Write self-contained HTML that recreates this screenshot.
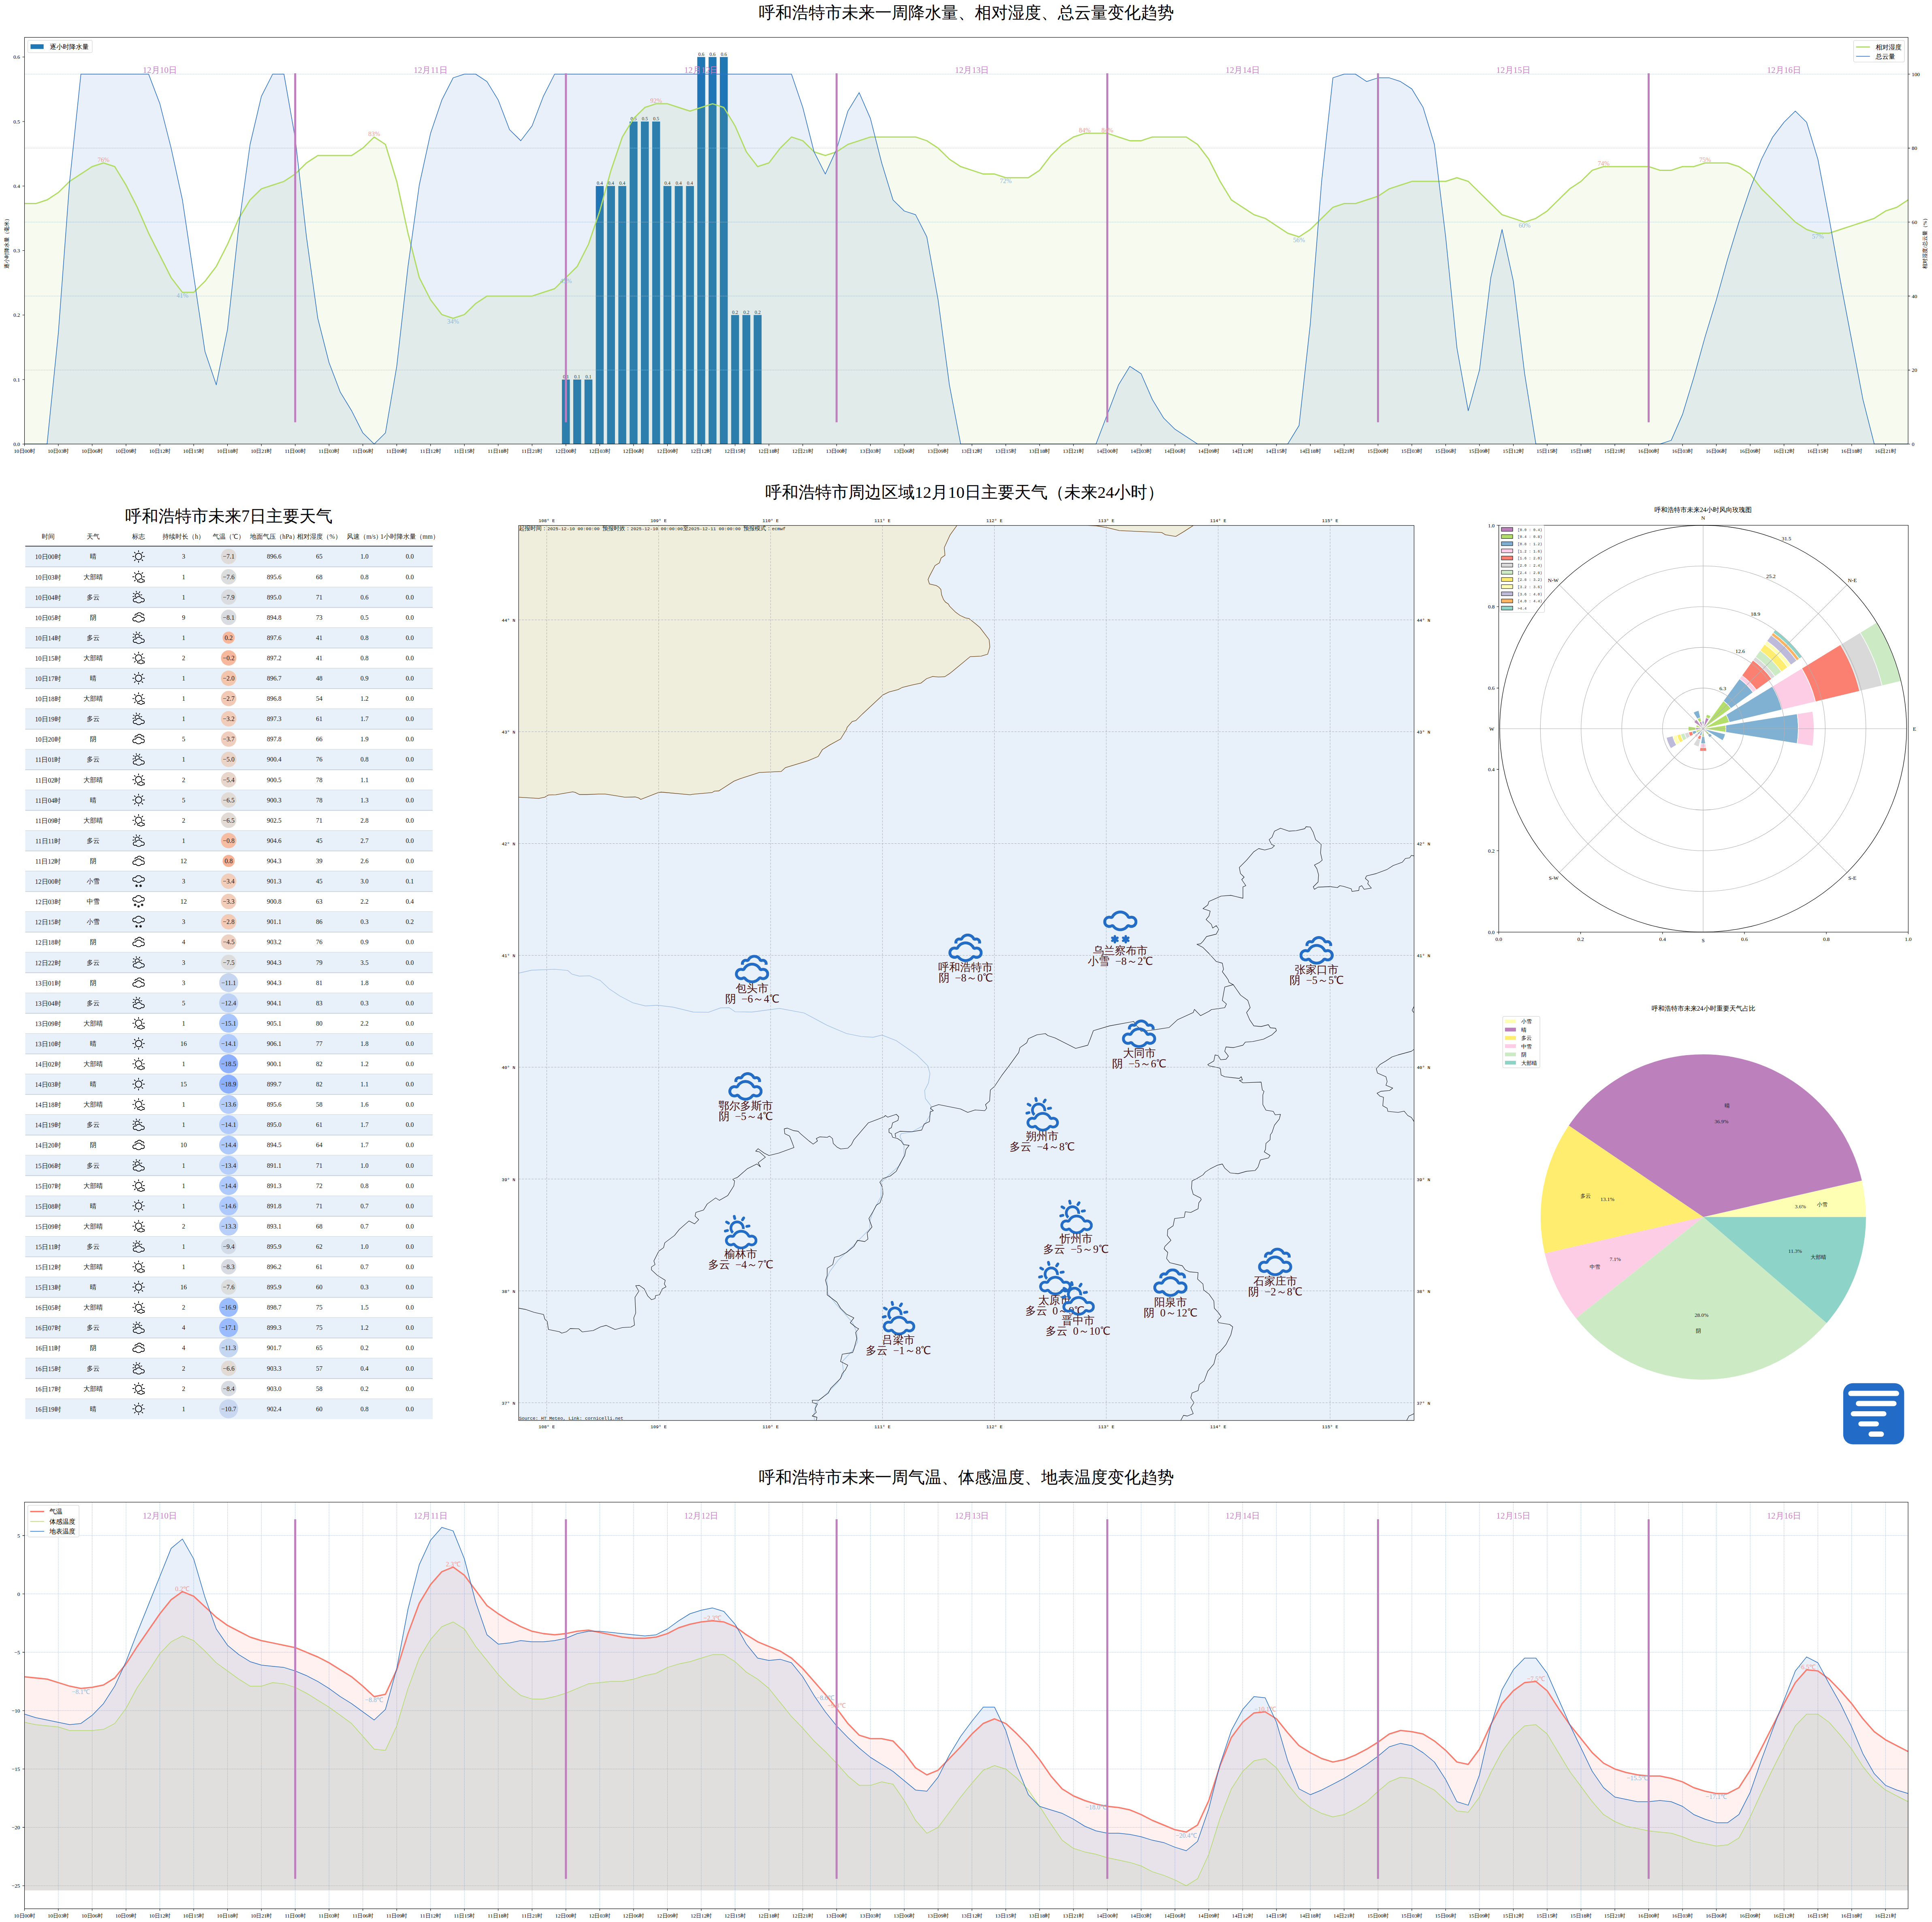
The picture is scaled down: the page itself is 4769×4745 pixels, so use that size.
<!DOCTYPE html>
<html lang="zh"><head><meta charset="utf-8"><title>呼和浩特市天气预报</title>
<style>html,body{margin:0;padding:0;background:#fff}body{width:4769px;height:4745px;overflow:hidden;font-family:'Liberation Serif', serif}svg{display:block}</style>
</head><body>
<svg width="4769" height="4745" viewBox="0 0 4769 4745" font-family="'Liberation Serif', serif">
<defs>
<symbol id="b_duoyun" viewBox="0 0 103.4 106.3"><path fill-rule="evenodd" d="M35,1.3L34.1,0.6L33.1,0.2L32,0L30.9,0.1L29.9,0.5L29,1.2L28.3,2L27.9,3L27.7,4.1L27.8,5.2L29.5,12.2L29.9,13.2L30.5,14.1L31.4,14.8L32.4,15.2L33.5,15.4L34.6,15.3L35.6,14.9L36.5,14.2L37.2,13.4L37.6,12.4L37.8,11.3L37.7,10.2L36,3.2L35.6,2.2ZM65.3,8.4L64.9,7.3L64.3,6.4L63.4,5.7L62.5,5.2L61.4,5L60.3,5.1L59.3,5.5L58.4,6.1L57.6,6.9L53.7,13L53.2,14L53,15L53.1,16.1L53.5,17.2L54.1,18.1L55,18.8L55.9,19.3L57,19.5L58.1,19.4L59.1,19L60,18.4L60.8,17.6L64.7,11.5L65.2,10.5L65.4,9.4ZM7,17.9L6,18.3L5.2,19L4.5,19.9L4.1,20.9L3.9,22L4.1,23L4.5,24.1L5.2,24.9L6,25.6L12.3,29.2L13.3,29.6L14.4,29.8L15.4,29.6L16.5,29.2L17.3,28.5L18,27.7L18.4,26.6L18.6,25.6L18.4,24.5L18,23.5L17.3,22.6L16.5,21.9L10.2,18.3L9.2,17.9L8.1,17.8ZM81.2,36.6L81.7,35.7L81.9,34.6L81.8,33.5L81.5,32.5L80.9,31.5L80.1,30.8L79.1,30.3L78.1,30L77,30.1L69.9,31.3L68.8,31.7L67.9,32.3L67.2,33.1L66.7,34L66.4,35.1L66.5,36.2L66.8,37.3L67.4,38.2L68.2,38.9L69.2,39.4L70.3,39.7L71.3,39.6L78.4,38.4L79.5,38L80.4,37.4ZM57.2,24.3L54.4,21.9L51.3,20L47.9,18.6L44.3,17.7L40.7,17.5L37,17.7L33.5,18.6L30.1,20L27,21.9L24.2,24.3L21.8,27.1L19.9,30.2L18.5,33.6L17.7,37.1L17.4,40.8L17.7,44.4L18.5,48L19.9,51.3L21.8,54.5L24.2,57.2L25.3,58.2L26.2,56.8L26.3,56.6L26.5,56.4L29.6,52.8L29.7,52.6L29.9,52.4L30.7,51.7L30.2,51.3L28.6,49.5L27.4,47.5L26.5,45.4L26,43.1L25.8,40.8L26,38.4L26.5,36.2L27.4,34L28.6,32L30.2,30.2L31.9,28.7L33.9,27.5L36.1,26.6L38.4,26.1L40.7,25.9L43,26.1L45.3,26.6L47.4,27.5L49.4,28.7L51.2,30.2L52.7,32L53.9,34L54.8,36.2L55.4,38.4L55.6,40.8L55.4,42.9L58.4,43.2L58.6,43.2L58.9,43.3L63.5,44.4L63.7,44.4L63.7,44.4L64,40.8L63.7,37.1L62.8,33.6L61.4,30.2L59.5,27.1ZM0.6,47.7L0.2,48.7L0,49.8L0.1,50.9L0.5,51.9L1.2,52.8L2,53.5L3,53.9L4.1,54.1L5.2,53.9L12.2,52.2L13.2,51.8L14.1,51.1L14.8,50.3L15.2,49.3L15.4,48.2L15.3,47.1L14.9,46.1L14.2,45.2L13.3,44.5L12.3,44.1L11.3,43.9L10.2,44L3.2,45.8L2.2,46.2L1.3,46.8ZM62.7,47.6L58.1,46.5L53.4,46.1L48.7,46.5L44.1,47.6L39.7,49.4L35.7,51.8L32.1,54.9L29,58.5L26.8,62.2L26.7,62.1L24,61.5L21.2,61.3L18.4,61.5L15.7,62.1L13.1,63.2L10.7,64.7L8.6,66.5L6.8,68.6L5.3,71L4.3,73.6L3.6,76.3L3.4,79.1L3.6,81.8L4.3,84.6L5.3,87.1L6.8,89.5L8.6,91.6L10.7,93.5L13.1,94.9L15.7,96L18.4,96.6L21.2,96.9L24,96.6L26.7,96L29.3,94.9L29.7,94.7L32.1,97.5L35.7,100.6L39.7,103.1L44.1,104.9L48.7,106L53.4,106.3L58.1,106L62.7,104.9L67.1,103.1L71.1,100.6L74.7,97.5L77.1,94.7L77.5,94.9L80.1,96L82.8,96.6L85.6,96.9L88.4,96.6L91.1,96L93.7,94.9L96,93.5L98.2,91.6L100,89.5L101.4,87.1L102.5,84.6L103.2,81.8L103.4,79.1L103.2,76.3L102.5,73.6L101.4,71L100,68.6L98.2,66.5L96,64.7L93.7,63.2L91.1,62.1L88.4,61.5L85.6,61.3L82.8,61.5L80.1,62.1L80,62.2L77.8,58.5L74.7,54.9L71.1,51.8L67.1,49.4ZM28.7,70.3L30,69.9L31.2,69.3L32.2,68.6L33.2,67.6L33.9,66.6L35.8,63.5L38,60.9L40.6,58.7L43.5,56.9L46.7,55.6L50,54.8L53.4,54.5L56.8,54.8L60.1,55.6L63.2,56.9L66.1,58.7L68.7,60.9L70.9,63.5L72.8,66.6L73.6,67.6L74.5,68.6L75.6,69.3L76.8,69.9L78,70.3L79.3,70.5L80.7,70.5L82,70.3L82.1,70.3L84.1,69.8L85.6,69.7L87,69.8L88.5,70.1L89.8,70.7L91.1,71.5L92.2,72.4L93.2,73.5L93.9,74.8L94.5,76.2L94.8,77.6L95,79.1L94.8,80.5L94.5,82L93.9,83.3L93.2,84.6L92.2,85.7L91.1,86.6L89.8,87.4L88.5,88L87,88.3L85.6,88.4L84.1,88.3L82.7,88L81.1,87.3L80.3,86.9L79.1,86.5L77.8,86.3L76.5,86.3L75.2,86.5L73.9,86.9L72.7,87.5L71.7,88.3L70.7,89.2L68.7,91.6L66.1,93.8L63.2,95.6L60.1,96.9L56.8,97.7L53.4,97.9L50,97.7L46.7,96.9L43.5,95.6L40.6,93.8L38,91.6L36,89.2L35.1,88.3L34,87.5L32.9,86.9L31.6,86.5L30.3,86.3L29,86.3L27.7,86.5L26.4,86.9L25.6,87.3L24.1,88L22.6,88.3L21.2,88.4L19.7,88.3L18.3,88L16.9,87.4L15.7,86.6L14.6,85.7L13.6,84.6L12.8,83.3L12.3,82L11.9,80.5L11.8,79.1L11.9,77.6L12.3,76.2L12.8,74.8L13.6,73.5L14.6,72.4L15.7,71.5L16.9,70.7L18.3,70.1L19.7,69.8L21.2,69.7L22.6,69.8L24.6,70.3L24.8,70.3L26.1,70.5L27.4,70.5Z"/></symbol>
<symbol id="b_yin" viewBox="0 0 100 83.3"><path fill-rule="evenodd" d="M63.8,1.2L60.2,0.3L56.5,0L52.8,0.3L49.2,1.2L45.8,2.6L42.7,4.5L39.9,6.9L37.5,9.7L35.7,12.5L35.7,12.5L33.6,12L31.4,11.8L29.2,12L27.1,12.5L25.1,13.3L23.2,14.5L21.6,15.9L20.2,17.6L19,19.4L18.2,21.4L17.7,23.5L17.5,25.7L17.7,27.9L17.9,28.9L27,28.9L26.5,28.2L26.2,27.4L26,26.6L25.9,25.7L26,24.9L26.2,24L26.5,23.2L27,22.5L27.5,21.9L28.2,21.3L28.9,20.9L29.7,20.5L30.5,20.3L31.4,20.3L32.2,20.3L33.7,20.7L35,20.9L36.4,20.9L37.7,20.7L38.9,20.3L40.1,19.7L41.2,18.9L42.1,18L42.9,16.9L44.3,14.6L45.8,12.8L47.6,11.3L49.7,10.1L51.8,9.2L54.1,8.6L56.5,8.4L58.9,8.6L61.2,9.2L63.3,10.1L65.4,11.3L67.2,12.8L68.7,14.6L70.1,16.9L70.9,18L71.8,18.9L72.9,19.7L74,20.3L75.3,20.7L76.6,20.9L77.9,20.9L79.2,20.7L79.4,20.7L80.8,20.3L81.6,20.3L82.5,20.3L83.3,20.5L84.1,20.9L84.8,21.3L85.5,21.9L86,22.5L86.5,23.2L86.8,24L87,24.9L87.1,25.7L87,26.6L86.8,27.4L86.5,28.2L86,28.9L95.1,28.9L95.3,27.9L95.5,25.7L95.3,23.5L94.8,21.4L94,19.4L92.8,17.6L91.4,15.9L89.8,14.5L87.9,13.3L85.9,12.5L83.8,12L81.6,11.8L79.4,12L77.3,12.5L77.3,12.5L75.5,9.7L73.1,6.9L70.3,4.5L67.2,2.6ZM67.7,28.8L63.7,26.3L59.3,24.5L54.7,23.4L50,23L45.3,23.4L40.7,24.5L36.3,26.3L32.3,28.8L28.7,31.9L25.6,35.4L23.4,39.1L23.3,39.1L20.6,38.4L17.8,38.2L15,38.4L12.3,39.1L9.7,40.1L7.3,41.6L5.2,43.4L3.4,45.5L1.9,47.9L0.9,50.5L0.2,53.2L0,56L0.2,58.8L0.9,61.5L1.9,64.1L3.4,66.5L5.2,68.6L7.3,70.4L9.7,71.9L12.3,72.9L15,73.6L17.8,73.8L20.6,73.6L23.3,72.9L25.9,71.9L26.3,71.6L28.7,74.5L32.3,77.5L36.3,80L40.7,81.8L45.3,82.9L50,83.3L54.7,82.9L59.3,81.8L63.7,80L67.7,77.5L71.3,74.5L73.7,71.6L74.1,71.9L76.7,72.9L79.4,73.6L82.2,73.8L85,73.6L87.7,72.9L90.3,71.9L92.7,70.4L94.8,68.6L96.6,66.5L98.1,64.1L99.1,61.5L99.8,58.8L100,56L99.8,53.2L99.1,50.5L98.1,47.9L96.6,45.5L94.8,43.4L92.7,41.6L90.3,40.1L87.7,39.1L85,38.4L82.2,38.2L79.4,38.4L76.7,39.1L76.6,39.1L74.4,35.4L71.3,31.9ZM22.7,47.5L24,47.5L25.3,47.3L26.6,46.9L27.8,46.3L28.8,45.5L29.8,44.6L30.5,43.5L32.4,40.4L34.7,37.8L37.2,35.6L40.1,33.8L43.3,32.5L46.6,31.7L50,31.5L53.4,31.7L56.7,32.5L59.9,33.8L62.8,35.6L65.3,37.8L67.6,40.4L69.5,43.5L70.2,44.6L71.2,45.5L72.2,46.3L73.4,46.9L74.7,47.3L76,47.5L77.3,47.5L78.6,47.3L78.7,47.2L80.7,46.7L82.2,46.6L83.7,46.7L85.1,47.1L86.5,47.6L87.7,48.4L88.8,49.4L89.8,50.5L90.6,51.7L91.1,53.1L91.5,54.5L91.6,56L91.5,57.5L91.1,58.9L90.6,60.3L89.8,61.5L88.8,62.6L87.7,63.6L86.5,64.4L85.1,64.9L83.7,65.3L82.2,65.4L80.7,65.3L79.3,64.9L77.8,64.3L76.9,63.9L75.7,63.5L74.4,63.2L73.1,63.2L71.8,63.5L70.5,63.9L69.3,64.5L68.3,65.2L67.3,66.2L65.3,68.5L62.8,70.7L59.9,72.5L56.7,73.8L53.4,74.6L50,74.9L46.6,74.6L43.3,73.8L40.1,72.5L37.2,70.7L34.7,68.5L32.7,66.2L31.7,65.2L30.7,64.5L29.5,63.9L28.2,63.5L26.9,63.2L25.6,63.2L24.3,63.5L23.1,63.9L22.2,64.3L20.7,64.9L19.3,65.3L17.8,65.4L16.3,65.3L14.9,64.9L13.5,64.4L12.3,63.6L11.2,62.6L10.2,61.5L9.4,60.3L8.9,58.9L8.5,57.5L8.4,56L8.5,54.5L8.9,53.1L9.4,51.7L10.2,50.5L11.2,49.4L12.3,48.4L13.5,47.6L14.9,47.1L16.3,46.7L17.8,46.6L19.3,46.7L21.3,47.2L21.4,47.3Z"/></symbol>
<symbol id="b_xue" viewBox="0 0 100 96.4"><path fill-rule="evenodd" d="M67.7,5.8L63.7,3.3L59.3,1.5L54.7,0.4L50,0L45.3,0.4L40.7,1.5L36.3,3.3L32.3,5.8L28.7,8.8L25.6,12.4L23.4,16.1L23.3,16L20.6,15.4L17.8,15.2L15,15.4L12.3,16L9.7,17.1L7.3,18.6L5.2,20.4L3.4,22.5L1.9,24.9L0.9,27.5L0.2,30.2L0,33L0.2,35.8L0.9,38.5L1.9,41.1L3.4,43.4L5.2,45.6L7.3,47.4L9.7,48.8L12.3,49.9L15,50.6L17.8,50.8L20.6,50.6L23.3,49.9L25.9,48.8L26.3,48.6L28.7,51.4L32.3,54.5L36.3,57L40.7,58.8L45.3,59.9L50,60.3L54.7,59.9L59.3,58.8L63.7,57L67.7,54.5L71.3,51.4L73.7,48.6L74.1,48.8L76.7,49.9L79.4,50.6L82.2,50.8L85,50.6L87.7,49.9L90.3,48.8L92.7,47.4L94.8,45.6L96.6,43.4L98.1,41.1L99.1,38.5L99.8,35.8L100,33L99.8,30.2L99.1,27.5L98.1,24.9L96.6,22.5L94.8,20.4L92.7,18.6L90.3,17.1L87.7,16L85,15.4L82.2,15.2L79.4,15.4L76.7,16L76.6,16.1L74.4,12.4L71.3,8.8ZM22.7,24.4L24,24.4L25.3,24.2L26.6,23.8L27.8,23.2L28.8,22.5L29.8,21.5L30.5,20.5L32.4,17.4L34.7,14.8L37.2,12.6L40.1,10.8L43.3,9.5L46.6,8.7L50,8.4L53.4,8.7L56.7,9.5L59.9,10.8L62.8,12.6L65.3,14.8L67.6,17.4L69.5,20.5L70.2,21.5L71.2,22.5L72.2,23.2L73.4,23.8L74.7,24.2L76,24.4L77.3,24.4L78.6,24.2L78.7,24.2L80.7,23.7L82.2,23.6L83.7,23.7L85.1,24.1L86.5,24.6L87.7,25.4L88.8,26.3L89.8,27.5L90.6,28.7L91.1,30.1L91.5,31.5L91.6,33L91.5,34.4L91.1,35.9L90.6,37.2L89.8,38.5L88.8,39.6L87.7,40.6L86.5,41.3L85.1,41.9L83.7,42.2L82.2,42.3L80.7,42.2L79.3,41.9L77.8,41.2L76.9,40.8L75.7,40.4L74.4,40.2L73.1,40.2L71.8,40.4L70.5,40.8L69.3,41.4L68.3,42.2L67.3,43.1L65.3,45.5L62.8,47.7L59.9,49.5L56.7,50.8L53.4,51.6L50,51.8L46.6,51.6L43.3,50.8L40.1,49.5L37.2,47.7L34.7,45.5L32.7,43.1L31.7,42.2L30.7,41.4L29.5,40.8L28.2,40.4L26.9,40.2L25.6,40.2L24.3,40.4L23.1,40.8L22.2,41.2L20.7,41.9L19.3,42.2L17.8,42.3L16.3,42.2L14.9,41.9L13.5,41.3L12.3,40.6L11.2,39.6L10.2,38.5L9.4,37.2L8.9,35.9L8.5,34.4L8.4,33L8.5,31.5L8.9,30.1L9.4,28.7L10.2,27.5L11.2,26.3L12.3,25.4L13.5,24.6L14.9,24.1L16.3,23.7L17.8,23.6L19.3,23.7L21.3,24.2L21.4,24.2ZM36.5,72.8L35.8,72.2L34.9,71.9L34,71.8L33.1,71.9L32.2,72.2L31.5,72.8L30.9,73.5L30.6,74.4L30.4,75.3L30.4,77.9L28.2,76.6L27.3,76.2L26.4,76.1L25.5,76.2L24.6,76.6L23.9,77.2L23.3,77.9L23,78.8L22.9,79.7L23,80.6L23.3,81.5L23.9,82.2L24.6,82.8L26.9,84.1L24.6,85.4L23.9,85.9L23.3,86.7L23,87.5L22.9,88.4L23,89.4L23.3,90.2L23.9,91L24.6,91.5L25.5,91.9L26.4,92L27.3,91.9L28.2,91.5L30.4,90.3L30.4,92.8L30.6,93.7L30.9,94.6L31.5,95.3L32.2,95.9L33.1,96.3L34,96.4L34.9,96.3L35.8,95.9L36.5,95.3L37.1,94.6L37.4,93.7L37.6,92.8L37.6,90.3L39.8,91.5L40.7,91.9L41.6,92L42.5,91.9L43.4,91.5L44.1,91L44.7,90.2L45,89.4L45.1,88.4L45,87.5L44.7,86.7L44.1,85.9L43.4,85.4L41.1,84.1L43.4,82.8L44.1,82.2L44.7,81.5L45,80.6L45.1,79.7L45,78.8L44.7,77.9L44.1,77.2L43.4,76.6L42.5,76.2L41.6,76.1L40.7,76.2L39.8,76.6L37.6,77.9L37.6,75.3L37.4,74.4L37.1,73.5ZM68.3,72.8L67.6,72.2L66.7,71.9L65.8,71.8L64.9,71.9L64,72.2L63.3,72.8L62.7,73.5L62.4,74.4L62.2,75.3L62.2,77.9L60,76.6L59.1,76.2L58.2,76.1L57.3,76.2L56.4,76.6L55.7,77.2L55.1,77.9L54.8,78.8L54.7,79.7L54.8,80.6L55.1,81.5L55.7,82.2L56.4,82.8L58.7,84.1L56.4,85.4L55.7,85.9L55.1,86.7L54.8,87.5L54.7,88.4L54.8,89.4L55.1,90.2L55.7,91L56.4,91.5L57.3,91.9L58.2,92L59.1,91.9L60,91.5L62.2,90.3L62.2,92.8L62.4,93.7L62.7,94.6L63.3,95.3L64,95.9L64.9,96.3L65.8,96.4L66.7,96.3L67.6,95.9L68.3,95.3L68.9,94.6L69.2,93.7L69.4,92.8L69.4,90.3L71.6,91.5L72.5,91.9L73.4,92L74.3,91.9L75.2,91.5L75.9,91L76.5,90.2L76.8,89.4L76.9,88.4L76.8,87.5L76.5,86.7L75.9,85.9L75.2,85.4L72.9,84.1L75.2,82.8L75.9,82.2L76.5,81.5L76.8,80.6L76.9,79.7L76.8,78.8L76.5,77.9L75.9,77.2L75.2,76.6L74.3,76.2L73.4,76.1L72.5,76.2L71.6,76.6L69.4,77.9L69.4,75.3L69.2,74.4L68.9,73.5Z"/></symbol>
<symbol id="t_duoyun" viewBox="0 0 103.3 106.3"><path fill-rule="evenodd" d="M33.8,0.9L33.2,0.4L32.5,0.1L31.7,0L30.9,0.1L30.1,0.4L29.5,0.8L29,1.5L28.7,2.2L28.6,3L28.6,3.8L30.9,13L31.1,13.7L31.6,14.4L32.2,14.9L33,15.2L33.7,15.3L34.5,15.3L35.3,15L35.9,14.5L36.4,13.9L36.7,13.2L36.9,12.4L36.8,11.6L34.6,2.3L34.3,1.6ZM64.7,7.6L64.5,6.8L64,6.2L63.4,5.7L62.7,5.3L61.9,5.2L61.1,5.2L60.4,5.5L59.7,6L59.2,6.6L54,14.5L53.7,15.3L53.5,16L53.6,16.8L53.9,17.6L54.3,18.2L54.9,18.8L55.6,19.1L56.4,19.2L57.2,19.2L58,18.9L58.6,18.5L59.1,17.9L64.3,9.9L64.7,9.2L64.8,8.4ZM6.3,18.4L5.6,18.7L4.9,19.2L4.4,19.8L4.1,20.6L4,21.4L4.1,22.1L4.4,22.9L4.9,23.5L5.6,24L13.8,28.7L14.5,29L15.3,29.2L16.1,29L16.8,28.7L17.5,28.3L18,27.6L18.3,26.9L18.4,26.1L18.3,25.3L18,24.6L17.5,23.9L16.8,23.5L8.6,18.7L7.9,18.4L7.1,18.3ZM81.3,35.7L81.7,35L81.8,34.3L81.8,33.5L81.6,32.7L81.1,32L80.6,31.5L79.9,31.1L79.1,31L78.3,31L68.9,32.6L68.2,32.9L67.5,33.3L67,33.9L66.6,34.6L66.4,35.4L66.5,36.2L66.7,36.9L67.1,37.6L67.7,38.1L68.4,38.5L69.2,38.7L70,38.7L79.3,37L80.1,36.8L80.8,36.3ZM55.5,25.9L53,23.7L50.2,22L47.1,20.8L43.9,20L40.6,19.7L37.4,20L34.2,20.8L31.1,22L28.3,23.7L25.8,25.9L23.7,28.4L21.9,31.2L20.7,34.2L19.9,37.4L19.6,40.7L19.9,44L20.7,47.2L21.9,50.3L23.7,53.1L25.8,55.6L26.8,56.4L29.8,52.9L29.9,52.8L30.1,52.6L30.9,51.9L30.1,51.3L28.6,49.5L27.4,47.5L26.5,45.3L26,43.1L25.8,40.7L26,38.4L26.5,36.1L27.4,34L28.6,32L30.1,30.2L31.9,28.7L33.9,27.5L36,26.6L38.3,26L40.6,25.8L43,26L45.2,26.6L47.4,27.5L49.4,28.7L51.2,30.2L52.7,32L53.9,34L54.8,36.1L55.3,38.4L55.5,40.7L55.3,43.1L55.3,43.2L58.3,43.4L58.5,43.5L58.8,43.5L61.4,44.1L61.4,44L61.6,40.7L61.4,37.4L60.6,34.2L59.4,31.2L57.6,28.4ZM0.4,48.5L0.1,49.3L0,50L0.1,50.8L0.4,51.6L0.9,52.2L1.5,52.7L2.2,53L3,53.2L3.8,53.1L13,50.8L13.7,50.5L14.4,50L14.9,49.4L15.2,48.6L15.3,47.9L15.2,47.1L14.9,46.3L14.5,45.7L13.8,45.2L13.1,44.9L12.3,44.8L11.5,44.8L2.3,47.1L1.6,47.4L0.9,47.9ZM62.7,47.5L58.1,46.4L53.3,46.1L48.6,46.4L44,47.5L39.7,49.3L35.6,51.8L32,54.9L29,58.5L26.7,62.1L26.6,62.1L23.9,61.4L21.1,61.2L18.4,61.4L15.6,62.1L13.1,63.2L10.7,64.6L8.6,66.4L6.7,68.6L5.3,70.9L4.2,73.5L3.6,76.2L3.3,79L3.6,81.8L4.2,84.5L5.3,87.1L6.7,89.5L8.6,91.6L10.7,93.4L13.1,94.9L15.6,96L18.4,96.6L21.1,96.8L23.9,96.6L26.6,96L29.2,94.9L29.6,94.7L32,97.5L35.6,100.6L39.7,103L44,104.8L48.6,105.9L53.3,106.3L58.1,105.9L62.7,104.8L67,103L71.1,100.6L74.7,97.5L77.1,94.7L77.5,94.9L80,96L82.8,96.6L85.5,96.8L88.3,96.6L91,96L93.6,94.9L96,93.4L98.1,91.6L99.9,89.5L101.4,87.1L102.5,84.5L103.1,81.8L103.3,79L103.1,76.2L102.5,73.5L101.4,70.9L99.9,68.6L98.1,66.4L96,64.6L93.6,63.2L91,62.1L88.3,61.4L85.5,61.2L82.8,61.4L80,62.1L80,62.1L77.7,58.5L74.7,54.9L71.1,51.8L67,49.3ZM28.2,68.1L29.1,67.8L29.9,67.3L30.7,66.8L31.4,66.1L31.9,65.3L33.9,62.1L36.4,59.2L39.2,56.8L42.4,54.8L45.9,53.4L49.6,52.5L53.3,52.2L57.1,52.5L60.8,53.4L64.2,54.8L67.5,56.8L70.3,59.2L72.8,62.1L74.8,65.3L75.3,66.1L76,66.8L76.8,67.3L77.6,67.8L78.5,68.1L79.5,68.2L80.4,68.2L81.4,68.1L81.6,68L83.7,67.5L85.5,67.3L87.4,67.5L89.2,67.9L90.9,68.6L92.4,69.6L93.8,70.8L95,72.2L96,73.7L96.7,75.4L97.1,77.2L97.2,79L97.1,80.9L96.7,82.6L96,84.3L95,85.9L93.8,87.3L92.4,88.5L90.9,89.4L89.2,90.1L87.4,90.6L85.5,90.7L83.7,90.6L81.9,90.1L80.2,89.4L79.4,89L78.5,88.7L77.6,88.6L76.6,88.6L75.7,88.7L74.7,89L73.9,89.5L73.1,90L72.4,90.7L70.3,93.2L67.5,95.6L64.2,97.6L60.8,99L57.1,99.9L53.3,100.2L49.6,99.9L45.9,99L42.4,97.6L39.2,95.6L36.4,93.2L34.3,90.7L33.6,90L32.8,89.5L32,89L31,88.7L30.1,88.6L29.1,88.6L28.2,88.7L27.3,89L26.5,89.4L24.8,90.1L23,90.6L21.1,90.7L19.3,90.6L17.5,90.1L15.8,89.4L14.3,88.5L12.9,87.3L11.7,85.9L10.7,84.3L10,82.6L9.6,80.9L9.5,79L9.6,77.2L10,75.4L10.7,73.7L11.7,72.2L12.9,70.8L14.3,69.6L15.8,68.6L17.5,67.9L19.3,67.5L21.1,67.3L23,67.5L25.1,68L25.3,68.1L26.3,68.2L27.2,68.2Z"/></symbol>
<symbol id="t_yin" viewBox="0 0 100 83.3"><path fill-rule="evenodd" d="M63.8,1.2L60.2,0.3L56.5,0L52.8,0.3L49.2,1.2L45.8,2.6L42.7,4.5L39.9,6.9L37.5,9.7L35.7,12.5L35.7,12.5L33.6,12L31.4,11.8L29.2,12L27.1,12.5L25.1,13.3L23.2,14.5L21.6,15.9L20.2,17.6L19,19.4L18.2,21.4L17.7,23.5L17.5,25.7L17.7,27.9L17.9,28.9L24.3,28.9L24,28.1L23.7,26.9L23.6,25.7L23.7,24.5L24,23.3L24.5,22.2L25.1,21.2L25.9,20.2L26.8,19.4L27.9,18.8L29,18.3L30.2,18L31.4,18L32.6,18L34.2,18.4L34.3,18.5L35.3,18.6L36.2,18.6L37.2,18.5L38.1,18.2L38.9,17.7L39.7,17.2L40.4,16.5L40.9,15.7L42.4,13.3L44.2,11.2L46.3,9.4L48.6,8L51.1,7L53.8,6.3L56.5,6.1L59.2,6.3L61.9,7L64.4,8L66.7,9.4L68.8,11.2L70.6,13.3L72.1,15.7L72.6,16.5L73.3,17.2L74.1,17.7L74.9,18.2L75.8,18.5L76.8,18.6L77.7,18.6L78.7,18.5L78.8,18.4L80.4,18L81.6,18L82.8,18L84,18.3L85.1,18.8L86.2,19.4L87.1,20.2L87.9,21.2L88.5,22.2L89,23.3L89.3,24.5L89.4,25.7L89.3,26.9L89,28.1L88.7,28.9L95.1,28.9L95.3,27.9L95.5,25.7L95.3,23.5L94.8,21.4L94,19.4L92.8,17.6L91.4,15.9L89.8,14.5L87.9,13.3L85.9,12.5L83.8,12L81.6,11.8L79.4,12L77.3,12.5L77.3,12.5L75.5,9.7L73.1,6.9L70.3,4.5L67.2,2.6ZM67.7,28.8L63.7,26.3L59.3,24.5L54.7,23.4L50,23L45.3,23.4L40.7,24.5L36.3,26.3L32.3,28.8L28.7,31.9L25.6,35.4L23.4,39.1L23.3,39.1L20.6,38.4L17.8,38.2L15,38.4L12.3,39.1L9.7,40.1L7.3,41.6L5.2,43.4L3.4,45.5L1.9,47.9L0.9,50.5L0.2,53.2L0,56L0.2,58.8L0.9,61.5L1.9,64.1L3.4,66.5L5.2,68.6L7.3,70.4L9.7,71.9L12.3,72.9L15,73.6L17.8,73.8L20.6,73.6L23.3,72.9L25.9,71.9L26.3,71.6L28.7,74.5L32.3,77.5L36.3,80L40.7,81.8L45.3,82.9L50,83.3L54.7,82.9L59.3,81.8L63.7,80L67.7,77.5L71.3,74.5L73.7,71.6L74.1,71.9L76.7,72.9L79.4,73.6L82.2,73.8L85,73.6L87.7,72.9L90.3,71.9L92.7,70.4L94.8,68.6L96.6,66.5L98.1,64.1L99.1,61.5L99.8,58.8L100,56L99.8,53.2L99.1,50.5L98.1,47.9L96.6,45.5L94.8,43.4L92.7,41.6L90.3,40.1L87.7,39.1L85,38.4L82.2,38.2L79.4,38.4L76.7,39.1L76.6,39.1L74.4,35.4L71.3,31.9ZM22.9,45.2L23.9,45.2L24.8,45L25.7,44.7L26.6,44.3L27.3,43.7L28,43.1L28.6,42.3L30.6,39L33,36.2L35.9,33.7L39.1,31.8L42.6,30.3L46.2,29.4L50,29.1L53.8,29.4L57.4,30.3L60.9,31.8L64.1,33.7L67,36.2L69.4,39L71.4,42.3L72,43.1L72.7,43.7L73.4,44.3L74.3,44.7L75.2,45L76.1,45.2L77.1,45.2L78,45L78.2,45L80.4,44.5L82.2,44.3L84,44.5L85.8,44.9L87.5,45.6L89.1,46.5L90.5,47.7L91.7,49.1L92.6,50.7L93.3,52.4L93.7,54.2L93.9,56L93.7,57.8L93.3,59.6L92.6,61.3L91.7,62.9L90.5,64.3L89.1,65.4L87.5,66.4L85.8,67.1L84,67.5L82.2,67.7L80.4,67.5L78.6,67.1L76.9,66.4L76.1,66L75.2,65.7L74.2,65.5L73.3,65.5L72.3,65.7L71.4,66L70.5,66.4L69.8,67L69.1,67.7L67,70.1L64.1,72.6L60.9,74.6L57.4,76L53.8,76.9L50,77.2L46.2,76.9L42.6,76L39.1,74.6L35.9,72.6L33,70.1L30.9,67.7L30.2,67L29.5,66.4L28.6,66L27.7,65.7L26.7,65.5L25.8,65.5L24.8,65.7L23.9,66L23.1,66.4L21.4,67.1L19.6,67.5L17.8,67.7L16,67.5L14.2,67.1L12.5,66.4L10.9,65.4L9.5,64.3L8.3,62.9L7.4,61.3L6.7,59.6L6.3,57.8L6.1,56L6.3,54.2L6.7,52.4L7.4,50.7L8.3,49.1L9.5,47.7L10.9,46.5L12.5,45.6L14.2,44.9L16,44.5L17.8,44.3L19.6,44.5L21.8,45L22,45Z"/></symbol>
<symbol id="t_xue2" viewBox="0 0 100 95.4"><path fill-rule="evenodd" d="M67.7,5.8L63.7,3.3L59.3,1.5L54.7,0.4L50,0L45.3,0.4L40.7,1.5L36.3,3.3L32.3,5.8L28.7,8.8L25.6,12.4L23.4,16.1L23.3,16L20.6,15.4L17.8,15.2L15,15.4L12.3,16L9.7,17.1L7.3,18.6L5.2,20.4L3.4,22.5L1.9,24.9L0.9,27.5L0.2,30.2L0,33L0.2,35.8L0.9,38.5L1.9,41.1L3.4,43.4L5.2,45.6L7.3,47.4L9.7,48.8L12.3,49.9L15,50.6L17.8,50.8L20.6,50.6L23.3,49.9L25.9,48.8L26.3,48.6L28.7,51.4L32.3,54.5L36.3,57L40.7,58.8L45.3,59.9L50,60.3L54.7,59.9L59.3,58.8L63.7,57L67.7,54.5L71.3,51.4L73.7,48.6L74.1,48.8L76.7,49.9L79.4,50.6L82.2,50.8L85,50.6L87.7,49.9L90.3,48.8L92.7,47.4L94.8,45.6L96.6,43.4L98.1,41.1L99.1,38.5L99.8,35.8L100,33L99.8,30.2L99.1,27.5L98.1,24.9L96.6,22.5L94.8,20.4L92.7,18.6L90.3,17.1L87.7,16L85,15.4L82.2,15.2L79.4,15.4L76.7,16L76.6,16.1L74.4,12.4L71.3,8.8ZM22.9,22.2L23.9,22.2L24.8,22L25.7,21.7L26.6,21.3L27.3,20.7L28,20L28.6,19.3L30.6,16L33,13.2L35.9,10.7L39.1,8.7L42.6,7.3L46.2,6.4L50,6.1L53.8,6.4L57.4,7.3L60.9,8.7L64.1,10.7L67,13.2L69.4,16L71.4,19.3L72,20L72.7,20.7L73.4,21.3L74.3,21.7L75.2,22L76.1,22.2L77.1,22.2L78,22L78.2,22L80.4,21.4L82.2,21.3L84,21.4L85.8,21.9L87.5,22.6L89.1,23.5L90.5,24.7L91.7,26.1L92.6,27.7L93.3,29.4L93.7,31.1L93.9,33L93.7,34.8L93.3,36.6L92.6,38.3L91.7,39.8L90.5,41.2L89.1,42.4L87.5,43.4L85.8,44.1L84,44.5L82.2,44.7L80.4,44.5L78.6,44.1L76.9,43.4L76.1,43L75.2,42.7L74.2,42.5L73.3,42.5L72.3,42.7L71.4,43L70.5,43.4L69.8,44L69.1,44.6L67,47.1L64.1,49.6L60.9,51.5L57.4,53L53.8,53.8L50,54.1L46.2,53.8L42.6,53L39.1,51.5L35.9,49.6L33,47.1L30.9,44.6L30.2,44L29.5,43.4L28.6,43L27.7,42.7L26.7,42.5L25.8,42.5L24.8,42.7L23.9,43L23.1,43.4L21.4,44.1L19.6,44.5L17.8,44.7L16,44.5L14.2,44.1L12.5,43.4L10.9,42.4L9.5,41.2L8.3,39.8L7.4,38.3L6.7,36.6L6.3,34.8L6.1,33L6.3,31.1L6.7,29.4L7.4,27.7L8.3,26.1L9.5,24.7L10.9,23.5L12.5,22.6L14.2,21.9L16,21.4L17.8,21.3L19.6,21.4L21.8,22L22,22ZM35.8,73.5L35.3,73.1L34.7,72.8L34,72.7L33.3,72.8L32.7,73.1L32.2,73.5L31.8,74L31.5,74.6L31.4,75.3L31.4,79.6L27.7,77.4L27.1,77.2L26.4,77.1L25.8,77.2L25.1,77.4L24.6,77.9L24.2,78.4L23.9,79L23.8,79.7L23.9,80.4L24.2,81L24.6,81.5L25.1,81.9L28.8,84.1L25.1,86.2L24.6,86.6L24.2,87.1L23.9,87.8L23.8,88.4L23.9,89.1L24.2,89.7L24.6,90.3L25.1,90.7L25.8,90.9L26.4,91L27.1,90.9L27.7,90.7L31.4,88.6L31.4,92.8L31.5,93.5L31.8,94.1L32.2,94.7L32.7,95.1L33.3,95.3L34,95.4L34.7,95.3L35.3,95.1L35.8,94.7L36.2,94.1L36.5,93.5L36.6,92.8L36.6,88.6L40.3,90.7L40.9,90.9L41.6,91L42.2,90.9L42.9,90.7L43.4,90.3L43.8,89.7L44.1,89.1L44.2,88.4L44.1,87.8L43.8,87.1L43.4,86.6L42.9,86.2L39.2,84.1L42.9,81.9L43.4,81.5L43.8,81L44.1,80.4L44.2,79.7L44.1,79L43.8,78.4L43.4,77.9L42.9,77.4L42.2,77.2L41.6,77.1L40.9,77.2L40.3,77.4L36.6,79.6L36.6,75.3L36.5,74.6L36.2,74ZM67.6,73.5L67.1,73.1L66.5,72.8L65.8,72.7L65.1,72.8L64.5,73.1L64,73.5L63.6,74L63.3,74.6L63.2,75.3L63.2,79.6L59.5,77.4L58.9,77.2L58.2,77.1L57.6,77.2L56.9,77.4L56.4,77.9L56,78.4L55.7,79L55.6,79.7L55.7,80.4L56,81L56.4,81.5L56.9,81.9L60.6,84.1L56.9,86.2L56.4,86.6L56,87.1L55.7,87.8L55.6,88.4L55.7,89.1L56,89.7L56.4,90.3L56.9,90.7L57.6,90.9L58.2,91L58.9,90.9L59.5,90.7L63.2,88.6L63.2,92.8L63.3,93.5L63.6,94.1L64,94.7L64.5,95.1L65.1,95.3L65.8,95.4L66.5,95.3L67.1,95.1L67.6,94.7L68,94.1L68.3,93.5L68.4,92.8L68.4,88.6L72.1,90.7L72.7,90.9L73.4,91L74,90.9L74.7,90.7L75.2,90.3L75.6,89.7L75.9,89.1L76,88.4L75.9,87.8L75.6,87.1L75.2,86.6L74.7,86.2L71,84.1L74.7,81.9L75.2,81.5L75.6,81L75.9,80.4L76,79.7L75.9,79L75.6,78.4L75.2,77.9L74.7,77.4L74,77.2L73.4,77.1L72.7,77.2L72.1,77.4L68.4,79.6L68.4,75.3L68.3,74.6L68,74Z"/></symbol>
<symbol id="t_xue3" viewBox="0 0 100 101.4"><path fill-rule="evenodd" d="M63.7,3.3L59.3,1.5L54.7,0.4L50,0L45.3,0.4L40.7,1.5L36.3,3.3L32.3,5.8L28.7,8.8L25.6,12.4L23.4,16.1L23.3,16L20.6,15.4L17.8,15.2L15,15.4L12.3,16L9.7,17.1L7.3,18.6L5.2,20.4L3.4,22.5L1.9,24.9L0.9,27.5L0.2,30.2L0,33L0.2,35.8L0.9,38.5L1.9,41.1L3.4,43.4L5.2,45.6L7.3,47.4L9.7,48.8L12.3,49.9L15,50.6L17.8,50.8L20.6,50.6L23.3,49.9L25.9,48.8L26.3,48.6L28.7,51.4L32.3,54.5L36.3,57L40.7,58.8L45.3,59.9L50,60.3L54.7,59.9L59.3,58.8L63.7,57L67.7,54.5L71.3,51.4L73.7,48.6L74.1,48.8L76.7,49.9L79.4,50.6L82.2,50.8L85,50.6L87.7,49.9L90.3,48.8L92.7,47.4L94.8,45.6L96.6,43.4L98.1,41.1L99.1,38.5L99.8,35.8L100,33L99.8,30.2L99.1,27.5L98.1,24.9L96.6,22.5L94.8,20.4L92.7,18.6L90.3,17.1L87.7,16L85,15.4L82.2,15.2L79.4,15.4L76.7,16L76.6,16.1L74.4,12.4L71.3,8.8L67.7,5.8ZM23.9,22.2L24.8,22L25.7,21.7L26.6,21.3L27.3,20.7L28,20L28.6,19.3L30.6,16L33,13.2L35.9,10.7L39.1,8.7L42.6,7.3L46.2,6.4L50,6.1L53.8,6.4L57.4,7.3L60.9,8.7L64.1,10.7L67,13.2L69.4,16L71.4,19.3L72,20L72.7,20.7L73.4,21.3L74.3,21.7L75.2,22L76.1,22.2L77.1,22.2L78,22L78.2,22L80.4,21.4L82.2,21.3L84,21.4L85.8,21.9L87.5,22.6L89.1,23.5L90.5,24.7L91.7,26.1L92.6,27.7L93.3,29.4L93.7,31.1L93.9,33L93.7,34.8L93.3,36.6L92.6,38.3L91.7,39.8L90.5,41.2L89.1,42.4L87.5,43.4L85.8,44.1L84,44.5L82.2,44.7L80.4,44.5L78.6,44.1L76.9,43.4L76.1,43L75.2,42.7L74.2,42.5L73.3,42.5L72.3,42.7L71.4,43L70.5,43.4L69.8,44L69.1,44.6L67,47.1L64.1,49.6L60.9,51.5L57.4,53L53.8,53.8L50,54.1L46.2,53.8L42.6,53L39.1,51.5L35.9,49.6L33,47.1L30.9,44.6L30.2,44L29.5,43.4L28.6,43L27.7,42.7L26.7,42.5L25.8,42.5L24.8,42.7L23.9,43L23.1,43.4L21.4,44.1L19.6,44.5L17.8,44.7L16,44.5L14.2,44.1L12.5,43.4L10.9,42.4L9.5,41.2L8.3,39.8L7.4,38.3L6.7,36.6L6.3,34.8L6.1,33L6.3,31.1L6.7,29.4L7.4,27.7L8.3,26.1L9.5,24.7L10.9,23.5L12.5,22.6L14.2,21.9L16,21.4L17.8,21.3L19.6,21.4L21.8,22L22,22L22.9,22.2ZM23.5,67.5L23,67.1L22.4,66.9L21.7,66.8L21,66.9L20.4,67.1L19.9,67.5L19.5,68.1L19.2,68.7L19.1,69.4L19.1,73.4L15.6,71.4L15,71.1L14.3,71L13.7,71.1L13,71.4L12.5,71.8L12.1,72.3L11.8,72.9L11.7,73.6L11.8,74.3L12.1,74.9L12.5,75.5L13,75.9L16.5,77.9L13,79.9L12.5,80.3L12.1,80.8L11.8,81.4L11.7,82.1L11.8,82.8L12.1,83.4L12.5,84L13,84.4L13.7,84.6L14.3,84.7L15,84.6L15.6,84.4L19.1,82.4L19.1,86.4L19.2,87L19.5,87.7L19.9,88.2L20.4,88.6L21,88.9L21.7,89L22.4,88.9L23,88.6L23.5,88.2L23.9,87.7L24.2,87L24.3,86.4L24.3,82.4L27.8,84.4L28.4,84.6L29.1,84.7L29.7,84.6L30.4,84.4L30.9,84L31.3,83.4L31.6,82.8L31.7,82.1L31.6,81.4L31.3,80.8L30.9,80.3L30.4,79.9L26.9,77.9L30.4,75.9L30.9,75.5L31.3,74.9L31.6,74.3L31.7,73.6L31.6,72.9L31.3,72.3L30.9,71.8L30.4,71.4L29.7,71.1L29.1,71L28.4,71.1L27.8,71.4L24.3,73.4L24.3,69.4L24.2,68.7L23.9,68.1ZM80.1,67.5L79.6,67.1L79,66.9L78.3,66.8L77.6,66.9L77,67.1L76.5,67.5L76.1,68.1L75.8,68.7L75.7,69.4L75.7,73.4L72.2,71.4L71.6,71.1L70.9,71L70.3,71.1L69.6,71.4L69.1,71.8L68.7,72.3L68.4,72.9L68.3,73.6L68.4,74.3L68.7,74.9L69.1,75.5L69.6,75.9L73.1,77.9L69.6,79.9L69.1,80.3L68.7,80.8L68.4,81.4L68.3,82.1L68.4,82.8L68.7,83.4L69.1,84L69.6,84.4L70.3,84.6L70.9,84.7L71.6,84.6L72.2,84.4L75.7,82.4L75.7,86.4L75.8,87L76.1,87.7L76.5,88.2L77,88.6L77.6,88.9L78.3,89L79,88.9L79.6,88.6L80.1,88.2L80.5,87.7L80.8,87L80.9,86.4L80.9,82.4L84.4,84.4L85,84.6L85.7,84.7L86.3,84.6L87,84.4L87.5,84L87.9,83.4L88.2,82.8L88.3,82.1L88.2,81.4L87.9,80.8L87.5,80.3L87,79.9L83.5,77.9L87,75.9L87.5,75.5L87.9,74.9L88.2,74.3L88.3,73.6L88.2,72.9L87.9,72.3L87.5,71.8L87,71.4L86.3,71.1L85.7,71L85,71.1L84.4,71.4L80.9,73.4L80.9,69.4L80.8,68.7L80.5,68.1ZM51.6,79.9L51.1,79.5L50.5,79.3L49.8,79.2L49.1,79.3L48.5,79.5L48,79.9L47.6,80.5L47.3,81.1L47.2,81.8L47.2,85.8L43.7,83.8L43.1,83.5L42.4,83.4L41.8,83.5L41.1,83.8L40.6,84.2L40.2,84.7L39.9,85.3L39.8,86L39.9,86.7L40.2,87.3L40.6,87.9L41.1,88.3L44.6,90.3L41.1,92.3L40.6,92.7L40.2,93.2L39.9,93.8L39.8,94.5L39.9,95.2L40.2,95.8L40.6,96.4L41.1,96.8L41.8,97L42.4,97.1L43.1,97L43.7,96.8L47.2,94.8L47.2,98.8L47.3,99.4L47.6,100.1L48,100.6L48.5,101L49.1,101.3L49.8,101.4L50.5,101.3L51.1,101L51.6,100.6L52,100.1L52.3,99.4L52.4,98.8L52.4,94.8L55.9,96.8L56.5,97L57.2,97.1L57.8,97L58.5,96.8L59,96.4L59.4,95.8L59.7,95.2L59.8,94.5L59.7,93.8L59.4,93.2L59,92.7L58.5,92.3L55,90.3L58.5,88.3L59,87.9L59.4,87.3L59.7,86.7L59.8,86L59.7,85.3L59.4,84.7L59,84.2L58.5,83.8L57.8,83.5L57.2,83.4L56.5,83.5L55.9,83.8L52.4,85.8L52.4,81.8L52.3,81.1L52,80.5Z"/></symbol>
<symbol id="t_qing" viewBox="0 0 100 100"><path fill-rule="evenodd" d="M52.2,0.9L51.5,0.4L50.8,0.1L50,0L49.2,0.1L48.5,0.4L47.8,0.9L47.4,1.5L47.1,2.3L47,3L47,12.5L47.1,13.3L47.4,14L47.8,14.7L48.5,15.1L49.2,15.4L50,15.6L50.8,15.4L51.5,15.1L52.2,14.7L52.6,14L52.9,13.3L53,12.5L53,3L52.9,2.3L52.6,1.5ZM16.8,13.8L16,13.9L15.3,14.2L14.6,14.6L14.2,15.3L13.9,16L13.8,16.8L13.9,17.6L14.2,18.3L14.6,19L21.3,25.6L22,26.1L22.7,26.4L23.5,26.5L24.3,26.4L25,26.1L25.6,25.6L26.1,25L26.4,24.3L26.5,23.5L26.4,22.7L26.1,22L25.6,21.3L19,14.6L18.3,14.2L17.6,13.9ZM86.2,16.8L86.1,16L85.8,15.3L85.4,14.6L84.7,14.2L84,13.9L83.2,13.8L82.4,13.9L81.7,14.2L81,14.6L74.4,21.3L73.9,22L73.6,22.7L73.5,23.5L73.6,24.3L73.9,25L74.4,25.6L75,26.1L75.7,26.4L76.5,26.5L77.3,26.4L78,26.1L78.7,25.6L85.4,19L85.8,18.3L86.1,17.6ZM0.9,47.8L0.4,48.5L0.1,49.2L0,50L0.1,50.8L0.4,51.5L0.9,52.2L1.5,52.6L2.3,52.9L3,53L12.5,53L13.3,52.9L14,52.6L14.7,52.2L15.1,51.5L15.4,50.8L15.6,50L15.4,49.2L15.1,48.5L14.7,47.8L14,47.4L13.3,47.1L12.5,46.9L3,46.9L2.3,47.1L1.5,47.4ZM73.1,33.2L70.2,29.8L66.8,26.9L62.9,24.6L58.8,22.9L54.5,21.9L50,21.5L45.5,21.9L41.2,22.9L37.1,24.6L33.2,26.9L29.8,29.8L26.9,33.2L24.6,37.1L22.9,41.2L21.9,45.5L21.5,50L21.9,54.5L22.9,58.8L24.6,62.9L26.9,66.8L29.8,70.2L33.2,73.1L37.1,75.4L41.2,77.1L45.5,78.1L50,78.5L54.5,78.1L58.8,77.1L62.9,75.4L66.8,73.1L70.2,70.2L73.1,66.8L75.4,62.9L77.1,58.8L78.1,54.5L78.5,50L78.1,45.5L77.1,41.2L75.4,37.1ZM68.1,63.2L65.8,65.8L63.2,68.1L60.2,69.9L56.9,71.3L53.5,72.1L50,72.4L46.5,72.1L43.1,71.3L39.8,69.9L36.8,68.1L34.2,65.8L31.9,63.2L30.1,60.2L28.7,56.9L27.9,53.5L27.6,50L27.9,46.5L28.7,43.1L30.1,39.8L31.9,36.8L34.2,34.2L36.8,31.9L39.8,30.1L43.1,28.7L46.5,27.9L50,27.6L53.5,27.9L56.9,28.7L60.2,30.1L63.2,31.9L65.8,34.2L68.1,36.8L69.9,39.8L71.3,43.1L72.1,46.5L72.4,50L72.1,53.5L71.3,56.9L69.9,60.2ZM99.1,52.2L99.6,51.5L99.9,50.8L100,50L99.9,49.2L99.6,48.5L99.1,47.8L98.5,47.4L97.7,47.1L97,47L87.5,47L86.7,47.1L86,47.4L85.3,47.8L84.9,48.5L84.6,49.2L84.5,50L84.6,50.8L84.9,51.5L85.3,52.2L86,52.6L86.7,52.9L87.5,53L97,53L97.7,52.9L98.5,52.6ZM13.8,83.2L13.9,84L14.2,84.7L14.6,85.4L15.3,85.8L16,86.1L16.8,86.2L17.6,86.1L18.3,85.8L19,85.4L25.6,78.7L26.1,78L26.4,77.3L26.5,76.5L26.4,75.7L26.1,75L25.6,74.4L25,73.9L24.3,73.6L23.5,73.5L22.7,73.6L22,73.9L21.3,74.4L14.6,81L14.2,81.7L13.9,82.4ZM84,86.1L84.7,85.8L85.4,85.4L85.8,84.7L86.1,84L86.2,83.2L86.1,82.4L85.8,81.7L85.4,81L78.7,74.4L78,73.9L77.3,73.6L76.5,73.5L75.7,73.6L75,73.9L74.4,74.4L73.9,75L73.6,75.7L73.5,76.5L73.6,77.3L73.9,78L74.4,78.7L81,85.4L81.7,85.8L82.4,86.1L83.2,86.2ZM48.5,99.6L49.2,99.9L50,100L50.8,99.9L51.5,99.6L52.2,99.1L52.6,98.5L52.9,97.7L53,97L53,87.5L52.9,86.7L52.6,86L52.2,85.3L51.5,84.9L50.8,84.6L50,84.5L49.2,84.6L48.5,84.9L47.8,85.3L47.4,86L47.1,86.7L46.9,87.5L46.9,97L47.1,97.7L47.4,98.5L47.8,99.1Z"/></symbol>
<symbol id="t_dabuqing" viewBox="0 0 100 99.4"><path fill-rule="evenodd" d="M50,0L49.2,0.1L48.5,0.4L47.8,0.9L47.4,1.5L47.1,2.3L47,3L47,12.5L47.1,13.3L47.4,14L47.8,14.7L48.5,15.1L49.2,15.4L50,15.6L50.8,15.4L51.5,15.1L52.2,14.7L52.6,14L52.9,13.3L53,12.5L53,3L52.9,2.3L52.6,1.5L52.2,0.9L51.5,0.4L50.8,0.1ZM14.2,15.3L13.9,16L13.8,16.8L13.9,17.6L14.2,18.3L14.6,19L21.3,25.6L22,26.1L22.7,26.4L23.5,26.5L24.3,26.4L25,26.1L25.6,25.6L26.1,25L26.4,24.3L26.5,23.5L26.4,22.7L26.1,22L25.6,21.3L19,14.6L18.3,14.2L17.6,13.9L16.8,13.8L16,13.9L15.3,14.2L14.6,14.6ZM84.7,14.2L84,13.9L83.2,13.8L82.4,13.9L81.7,14.2L81,14.6L74.4,21.3L73.9,22L73.6,22.7L73.5,23.5L73.6,24.3L73.9,25L74.4,25.6L75,26.1L75.7,26.4L76.5,26.5L77.3,26.4L78,26.1L78.7,25.6L85.4,19L85.8,18.3L86.1,17.6L86.2,16.8L86.1,16L85.8,15.3L85.4,14.6ZM58.8,22.9L54.5,21.9L50,21.5L45.5,21.9L41.2,22.9L37.1,24.6L33.2,26.9L29.8,29.8L26.9,33.2L24.6,37.1L22.9,41.2L21.9,45.5L21.5,50L21.9,54.5L22.9,58.8L24.6,62.9L26.9,66.8L29.8,70.2L33.2,73.1L36.6,75.1L37.1,74.2L37.3,74L37.4,73.8L38.6,72.4L38.8,72.2L39,72.1L40.3,70.9L40.5,70.8L40.7,70.6L41,70.4L39.8,69.9L36.8,68.1L34.2,65.8L31.9,63.2L30.1,60.2L28.7,56.9L27.9,53.5L27.6,50L27.9,46.5L28.7,43.1L30.1,39.8L31.9,36.8L34.2,34.2L36.8,31.9L39.8,30.1L43.1,28.7L46.5,27.9L50,27.6L53.5,27.9L56.9,28.7L60.2,30.1L63.2,31.9L65.8,34.2L68.1,36.8L69.9,39.8L71.3,43.1L72.1,46.5L72.4,50L72.1,53.5L71.3,56.9L70.6,58.7L72.2,58.8L72.5,58.9L72.7,58.9L75.6,59.6L75.9,59.7L76.1,59.8L76.6,60L77.1,58.8L78.1,54.5L78.5,50L78.1,45.5L77.1,41.2L75.4,37.1L73.1,33.2L70.2,29.8L66.8,26.9L62.9,24.6ZM0.1,50.8L0.4,51.5L0.9,52.2L1.5,52.6L2.3,52.9L3,53L12.5,53L13.3,52.9L14,52.6L14.7,52.2L15.1,51.5L15.4,50.8L15.6,50L15.4,49.2L15.1,48.5L14.7,47.8L14,47.4L13.3,47.1L12.5,46.9L3,46.9L2.3,47.1L1.5,47.4L0.9,47.8L0.4,48.5L0.1,49.2L0,50ZM99.9,49.2L99.6,48.5L99.1,47.8L98.5,47.4L97.7,47.1L97,47L87.5,47L86.7,47.1L86,47.4L85.3,47.8L84.9,48.5L84.6,49.2L84.5,50L84.6,50.8L84.9,51.5L85.3,52.2L86,52.6L86.7,52.9L87.5,53L97,53L97.7,52.9L98.5,52.6L99.1,52.2L99.6,51.5L99.9,50.8L100,50ZM15.3,85.8L16,86.1L16.8,86.2L17.6,86.1L18.3,85.8L19,85.4L25.6,78.7L26.1,78L26.4,77.3L26.5,76.5L26.4,75.7L26.1,75L25.6,74.4L25,73.9L24.3,73.6L23.5,73.5L22.7,73.6L22,73.9L21.3,74.4L14.6,81L14.2,81.7L13.9,82.4L13.8,83.2L13.9,84L14.2,84.7L14.6,85.4ZM74.8,63L71.9,62.3L69,62.1L66.1,62.3L63.2,63L60.5,64.1L58,65.6L55.8,67.6L53.9,69.8L52.5,72L52.4,72L50.8,71.6L49,71.5L47.3,71.6L45.6,72L44,72.7L42.5,73.6L41.2,74.7L40.1,76L39.2,77.5L38.5,79.1L38.1,80.8L38,82.5L38.1,84.2L38.5,85.9L39.2,87.5L40.1,89L41.2,90.3L42.5,91.5L44,92.4L45.6,93L47.3,93.4L49,93.6L50.8,93.4L52.4,93L54,92.4L54.3,92.2L55.8,94L58,95.9L60.5,97.4L63.2,98.5L66.1,99.2L69,99.4L71.9,99.2L74.8,98.5L77.5,97.4L80,95.9L82.2,94L83.7,92.2L84,92.4L85.6,93L87.2,93.4L89,93.6L90.7,93.4L92.4,93L94,92.4L95.5,91.5L96.8,90.3L97.9,89L98.8,87.5L99.5,85.9L99.9,84.2L100,82.5L99.9,80.8L99.5,79.1L98.8,77.5L97.9,76L96.8,74.7L95.5,73.6L94,72.7L92.4,72L90.7,71.6L89,71.5L87.2,71.6L85.6,72L85.5,72L84.1,69.8L82.2,67.6L80,65.6L77.5,64.1ZM48.2,87.7L47.4,87.5L46.7,87.2L46,86.7L45.3,86.2L44.8,85.6L44.4,84.9L44.1,84.1L43.9,83.3L43.8,82.5L43.9,81.7L44.1,80.9L44.4,80.2L44.8,79.5L45.3,78.8L46,78.3L46.7,77.9L47.4,77.6L48.2,77.4L49,77.3L49.8,77.4L51.1,77.7L52,77.8L52.9,77.8L53.8,77.7L54.7,77.4L55.5,77L56.3,76.5L56.9,75.8L57.4,75.1L58.6,73.2L59.9,71.7L61.4,70.4L63.2,69.3L65,68.5L67,68.1L69,67.9L71,68.1L73,68.5L74.8,69.3L76.6,70.4L78.1,71.7L79.4,73.2L80.6,75.1L81.1,75.8L81.7,76.5L82.5,77L83.3,77.4L84.1,77.7L85,77.8L86,77.8L86.9,77.7L87,77.6L88.1,77.4L89,77.3L89.8,77.4L90.6,77.6L91.3,77.9L92,78.3L92.7,78.8L93.2,79.5L93.6,80.2L93.9,80.9L94.1,81.7L94.2,82.5L94.1,83.3L93.9,84.1L93.6,84.9L93.2,85.6L92.7,86.2L92,86.7L91.3,87.2L90.6,87.5L89.8,87.7L89,87.7L88.1,87.7L87.3,87.5L86.4,87.1L85.9,86.9L85.1,86.6L84.2,86.4L83.3,86.4L82.4,86.6L81.5,86.9L80.7,87.3L80,87.8L79.3,88.4L78.1,89.9L76.6,91.2L74.8,92.2L73,93L71,93.5L69,93.6L67,93.5L65,93L63.2,92.2L61.4,91.2L59.9,89.9L58.7,88.4L58,87.8L57.3,87.3L56.5,86.9L55.6,86.6L54.7,86.4L53.8,86.4L52.9,86.6L52.1,86.9L51.6,87.1L50.7,87.5L49.9,87.7L49,87.7Z"/></symbol>
</defs>
<rect width="4769" height="4745" fill="#fff"/>
<g id="topchart">
<rect x="1387.1" y="937" width="19.5" height="159.2" fill="#1f77b4"/>
<rect x="1415" y="937" width="19.5" height="159.2" fill="#1f77b4"/>
<rect x="1442.8" y="937" width="19.5" height="159.2" fill="#1f77b4"/>
<rect x="1470.7" y="459.2" width="19.5" height="637" fill="#1f77b4"/>
<rect x="1498.5" y="459.2" width="19.5" height="637" fill="#1f77b4"/>
<rect x="1526.3" y="459.2" width="19.5" height="637" fill="#1f77b4"/>
<rect x="1554.2" y="300" width="19.5" height="796.2" fill="#1f77b4"/>
<rect x="1582" y="300" width="19.5" height="796.2" fill="#1f77b4"/>
<rect x="1609.9" y="300" width="19.5" height="796.2" fill="#1f77b4"/>
<rect x="1637.7" y="459.2" width="19.5" height="637" fill="#1f77b4"/>
<rect x="1665.6" y="459.2" width="19.5" height="637" fill="#1f77b4"/>
<rect x="1693.4" y="459.2" width="19.5" height="637" fill="#1f77b4"/>
<rect x="1721.2" y="140.7" width="19.5" height="955.5" fill="#1f77b4"/>
<rect x="1749.1" y="140.7" width="19.5" height="955.5" fill="#1f77b4"/>
<rect x="1776.9" y="140.7" width="19.5" height="955.5" fill="#1f77b4"/>
<rect x="1804.8" y="777.7" width="19.5" height="318.5" fill="#1f77b4"/>
<rect x="1832.6" y="777.7" width="19.5" height="318.5" fill="#1f77b4"/>
<rect x="1860.4" y="777.7" width="19.5" height="318.5" fill="#1f77b4"/>
<text x="1396.9" y="934.2" font-size="12" text-anchor="middle" fill="#222">0.1</text>
<text x="1424.7" y="934.2" font-size="12" text-anchor="middle" fill="#222">0.1</text>
<text x="1452.6" y="934.2" font-size="12" text-anchor="middle" fill="#222">0.1</text>
<text x="1480.4" y="456.4" font-size="12" text-anchor="middle" fill="#222">0.4</text>
<text x="1508.2" y="456.4" font-size="12" text-anchor="middle" fill="#222">0.4</text>
<text x="1536.1" y="456.4" font-size="12" text-anchor="middle" fill="#222">0.4</text>
<text x="1563.9" y="297.2" font-size="12" text-anchor="middle" fill="#222">0.5</text>
<text x="1591.8" y="297.2" font-size="12" text-anchor="middle" fill="#222">0.5</text>
<text x="1619.6" y="297.2" font-size="12" text-anchor="middle" fill="#222">0.5</text>
<text x="1647.5" y="456.4" font-size="12" text-anchor="middle" fill="#222">0.4</text>
<text x="1675.3" y="456.4" font-size="12" text-anchor="middle" fill="#222">0.4</text>
<text x="1703.1" y="456.4" font-size="12" text-anchor="middle" fill="#222">0.4</text>
<text x="1731" y="137.9" font-size="12" text-anchor="middle" fill="#222">0.6</text>
<text x="1758.8" y="137.9" font-size="12" text-anchor="middle" fill="#222">0.6</text>
<text x="1786.7" y="137.9" font-size="12" text-anchor="middle" fill="#222">0.6</text>
<text x="1814.5" y="774.9" font-size="12" text-anchor="middle" fill="#222">0.2</text>
<text x="1842.3" y="774.9" font-size="12" text-anchor="middle" fill="#222">0.2</text>
<text x="1870.2" y="774.9" font-size="12" text-anchor="middle" fill="#222">0.2</text>
<line x1="60.5" x2="4710.0" y1="913.6" y2="913.6" stroke="#a9c4e2" stroke-width="0.9" stroke-dasharray="2.8 1.2"/>
<line x1="60.5" x2="4710.0" y1="730.9" y2="730.9" stroke="#a9c4e2" stroke-width="0.9" stroke-dasharray="2.8 1.2"/>
<line x1="60.5" x2="4710.0" y1="548.3" y2="548.3" stroke="#a9c4e2" stroke-width="0.9" stroke-dasharray="2.8 1.2"/>
<line x1="60.5" x2="4710.0" y1="365.6" y2="365.6" stroke="#a9c4e2" stroke-width="0.9" stroke-dasharray="2.8 1.2"/>
<line x1="60.5" x2="4710.0" y1="183" y2="183" stroke="#a9c4e2" stroke-width="0.9" stroke-dasharray="2.8 1.2"/>
<polygon points="60.5,1096.2 60.5,502.6 88.3,502.6 116.2,493.5 144,475.2 171.9,447.8 199.7,429.6 227.5,411.3 255.4,402.2 283.2,411.3 311.1,457 338.9,511.8 366.8,575.7 394.6,630.5 422.4,685.3 450.3,721.8 478.1,721.8 506,694.4 533.8,657.9 561.6,603.1 589.5,539.1 617.3,493.5 645.2,466.1 673,457 700.9,447.8 728.7,429.6 756.5,402.2 784.4,383.9 812.2,383.9 840.1,383.9 867.9,383.9 895.7,365.6 923.6,338.2 951.4,356.5 979.3,447.8 1007.1,575.7 1034.9,685.3 1062.8,740.1 1090.6,776.6 1118.5,785.7 1146.3,776.6 1174.2,749.2 1202,730.9 1229.8,730.9 1257.7,730.9 1285.5,730.9 1313.4,730.9 1341.2,721.8 1369,712.7 1396.9,685.3 1424.7,657.9 1452.6,603.1 1480.4,520.9 1508.2,420.4 1536.1,338.2 1563.9,292.6 1591.8,265.2 1619.6,256.1 1647.5,256.1 1675.3,265.2 1703.1,274.3 1731,265.2 1758.8,256.1 1786.7,265.2 1814.5,310.8 1842.3,374.8 1870.2,411.3 1898,402.2 1925.9,365.6 1953.7,338.2 1981.6,347.4 2009.4,374.8 2037.2,383.9 2065.1,374.8 2092.9,356.5 2120.8,347.4 2148.6,338.2 2176.4,338.2 2204.3,338.2 2232.1,338.2 2260,338.2 2287.8,347.4 2315.6,365.6 2343.5,393 2371.3,411.3 2399.2,420.4 2427,429.6 2454.9,429.6 2482.7,438.7 2510.5,438.7 2538.4,438.7 2566.2,420.4 2594.1,383.9 2621.9,356.5 2649.7,338.2 2677.6,329.1 2705.4,329.1 2733.3,329.1 2761.1,338.2 2788.9,347.4 2816.8,347.4 2844.6,338.2 2872.5,338.2 2900.3,338.2 2928.2,338.2 2956,356.5 2983.8,393 3011.7,447.8 3039.5,493.5 3067.4,511.8 3095.2,530 3123,539.1 3150.9,557.4 3178.7,575.7 3206.6,584.8 3234.4,566.5 3262.3,539.1 3290.1,511.8 3317.9,502.6 3345.8,502.6 3373.6,493.5 3401.5,484.4 3429.3,466.1 3457.1,457 3485,447.8 3512.8,447.8 3540.7,447.8 3568.5,447.8 3596.3,438.7 3624.2,447.8 3652,475.2 3679.9,502.6 3707.7,530 3735.6,539.1 3763.4,548.3 3791.2,539.1 3819.1,520.9 3846.9,493.5 3874.8,466.1 3902.6,447.8 3930.4,420.4 3958.3,411.3 3986.1,411.3 4014,411.3 4041.8,411.3 4069.6,411.3 4097.5,420.4 4125.3,420.4 4153.2,411.3 4181,411.3 4208.9,402.2 4236.7,402.2 4264.5,402.2 4292.4,411.3 4320.2,429.6 4348.1,466.1 4375.9,493.5 4403.7,520.9 4431.6,548.3 4459.4,566.5 4487.3,575.7 4515.1,575.7 4543,566.5 4570.8,557.4 4598.6,548.3 4626.5,539.1 4654.3,520.9 4682.2,511.8 4710,493.5 4710,1096.2" fill="#b0dc62" fill-opacity="0.1"/>
<polygon points="60.5,1096.2 60.5,1096.2 88.3,1096.2 116.2,1096.2 144,822.2 171.9,447.8 199.7,183 227.5,183 255.4,183 283.2,183 311.1,183 338.9,183 366.8,183 394.6,256.1 422.4,365.6 450.3,493.5 478.1,680.7 506,867.9 533.8,950.1 561.6,813.1 589.5,557.4 617.3,356.5 645.2,237.8 673,183 700.9,183 728.7,341 756.5,584.8 784.4,785.7 812.2,895.3 840.1,968.4 867.9,1014 895.7,1068.8 923.6,1096.2 951.4,1068.8 979.3,904.4 1007.1,657.9 1034.9,457 1062.8,329.1 1090.6,246.9 1118.5,192.1 1146.3,183 1174.2,183 1202,201.3 1229.8,246.9 1257.7,320 1285.5,347.4 1313.4,310.8 1341.2,237.8 1369,183 1396.9,183 1424.7,183 1452.6,183 1480.4,183 1508.2,183 1536.1,183 1563.9,183 1591.8,183 1619.6,183 1647.5,183 1675.3,183 1703.1,183 1731,183 1758.8,183 1786.7,183 1814.5,183 1842.3,183 1870.2,183 1898,183 1925.9,183 1953.7,183 1981.6,265.2 2009.4,374.8 2037.2,429.6 2065.1,368.4 2092.9,274.3 2120.8,228.7 2148.6,292.6 2176.4,402.2 2204.3,493.5 2232.1,520.9 2260,530 2287.8,584.8 2315.6,740.1 2343.5,950.1 2371.3,1096.2 2399.2,1096.2 2427,1096.2 2454.9,1096.2 2482.7,1096.2 2510.5,1096.2 2538.4,1096.2 2566.2,1096.2 2594.1,1096.2 2621.9,1096.2 2649.7,1096.2 2677.6,1096.2 2705.4,1096.2 2733.3,1023.1 2761.1,950.1 2788.9,904.4 2816.8,922.7 2844.6,986.6 2872.5,1032.3 2900.3,1059.7 2928.2,1077.9 2956,1096.2 2983.8,1096.2 3011.7,1096.2 3039.5,1096.2 3067.4,1096.2 3095.2,1096.2 3123,1096.2 3150.9,1096.2 3178.7,1096.2 3206.6,1050.5 3234.4,799.4 3262.3,447.8 3290.1,192.1 3317.9,183 3345.8,183 3373.6,201.3 3401.5,192.1 3429.3,192.1 3457.1,201.3 3485,219.5 3512.8,265.2 3540.7,356.5 3568.5,584.8 3596.3,858.8 3624.2,1014 3652,913.6 3679.9,685.3 3707.7,566.5 3735.6,694.4 3763.4,922.7 3791.2,1096.2 3819.1,1096.2 3846.9,1096.2 3874.8,1096.2 3902.6,1096.2 3930.4,1096.2 3958.3,1096.2 3986.1,1096.2 4014,1096.2 4041.8,1096.2 4069.6,1096.2 4097.5,1096.2 4125.3,1087.1 4153.2,1023.1 4181,931.8 4208.9,831.4 4236.7,740.1 4264.5,639.6 4292.4,548.3 4320.2,466.1 4348.1,393 4375.9,338.2 4403.7,301.7 4431.6,274.3 4459.4,301.7 4487.3,393 4515.1,539.1 4543,694.4 4570.8,840.5 4598.6,986.6 4626.5,1096.2 4654.3,1096.2 4682.2,1096.2 4710,1096.2 4710,1096.2" fill="#236cc8" fill-opacity="0.1"/>
<polyline points="60.5,502.6 88.3,502.6 116.2,493.5 144,475.2 171.9,447.8 199.7,429.6 227.5,411.3 255.4,402.2 283.2,411.3 311.1,457 338.9,511.8 366.8,575.7 394.6,630.5 422.4,685.3 450.3,721.8 478.1,721.8 506,694.4 533.8,657.9 561.6,603.1 589.5,539.1 617.3,493.5 645.2,466.1 673,457 700.9,447.8 728.7,429.6 756.5,402.2 784.4,383.9 812.2,383.9 840.1,383.9 867.9,383.9 895.7,365.6 923.6,338.2 951.4,356.5 979.3,447.8 1007.1,575.7 1034.9,685.3 1062.8,740.1 1090.6,776.6 1118.5,785.7 1146.3,776.6 1174.2,749.2 1202,730.9 1229.8,730.9 1257.7,730.9 1285.5,730.9 1313.4,730.9 1341.2,721.8 1369,712.7 1396.9,685.3 1424.7,657.9 1452.6,603.1 1480.4,520.9 1508.2,420.4 1536.1,338.2 1563.9,292.6 1591.8,265.2 1619.6,256.1 1647.5,256.1 1675.3,265.2 1703.1,274.3 1731,265.2 1758.8,256.1 1786.7,265.2 1814.5,310.8 1842.3,374.8 1870.2,411.3 1898,402.2 1925.9,365.6 1953.7,338.2 1981.6,347.4 2009.4,374.8 2037.2,383.9 2065.1,374.8 2092.9,356.5 2120.8,347.4 2148.6,338.2 2176.4,338.2 2204.3,338.2 2232.1,338.2 2260,338.2 2287.8,347.4 2315.6,365.6 2343.5,393 2371.3,411.3 2399.2,420.4 2427,429.6 2454.9,429.6 2482.7,438.7 2510.5,438.7 2538.4,438.7 2566.2,420.4 2594.1,383.9 2621.9,356.5 2649.7,338.2 2677.6,329.1 2705.4,329.1 2733.3,329.1 2761.1,338.2 2788.9,347.4 2816.8,347.4 2844.6,338.2 2872.5,338.2 2900.3,338.2 2928.2,338.2 2956,356.5 2983.8,393 3011.7,447.8 3039.5,493.5 3067.4,511.8 3095.2,530 3123,539.1 3150.9,557.4 3178.7,575.7 3206.6,584.8 3234.4,566.5 3262.3,539.1 3290.1,511.8 3317.9,502.6 3345.8,502.6 3373.6,493.5 3401.5,484.4 3429.3,466.1 3457.1,457 3485,447.8 3512.8,447.8 3540.7,447.8 3568.5,447.8 3596.3,438.7 3624.2,447.8 3652,475.2 3679.9,502.6 3707.7,530 3735.6,539.1 3763.4,548.3 3791.2,539.1 3819.1,520.9 3846.9,493.5 3874.8,466.1 3902.6,447.8 3930.4,420.4 3958.3,411.3 3986.1,411.3 4014,411.3 4041.8,411.3 4069.6,411.3 4097.5,420.4 4125.3,420.4 4153.2,411.3 4181,411.3 4208.9,402.2 4236.7,402.2 4264.5,402.2 4292.4,411.3 4320.2,429.6 4348.1,466.1 4375.9,493.5 4403.7,520.9 4431.6,548.3 4459.4,566.5 4487.3,575.7 4515.1,575.7 4543,566.5 4570.8,557.4 4598.6,548.3 4626.5,539.1 4654.3,520.9 4682.2,511.8 4710,493.5" fill="none" stroke="#b0dc62" stroke-width="3" stroke-linejoin="round"/>
<polyline points="60.5,1096.2 88.3,1096.2 116.2,1096.2 144,822.2 171.9,447.8 199.7,183 227.5,183 255.4,183 283.2,183 311.1,183 338.9,183 366.8,183 394.6,256.1 422.4,365.6 450.3,493.5 478.1,680.7 506,867.9 533.8,950.1 561.6,813.1 589.5,557.4 617.3,356.5 645.2,237.8 673,183 700.9,183 728.7,341 756.5,584.8 784.4,785.7 812.2,895.3 840.1,968.4 867.9,1014 895.7,1068.8 923.6,1096.2 951.4,1068.8 979.3,904.4 1007.1,657.9 1034.9,457 1062.8,329.1 1090.6,246.9 1118.5,192.1 1146.3,183 1174.2,183 1202,201.3 1229.8,246.9 1257.7,320 1285.5,347.4 1313.4,310.8 1341.2,237.8 1369,183 1396.9,183 1424.7,183 1452.6,183 1480.4,183 1508.2,183 1536.1,183 1563.9,183 1591.8,183 1619.6,183 1647.5,183 1675.3,183 1703.1,183 1731,183 1758.8,183 1786.7,183 1814.5,183 1842.3,183 1870.2,183 1898,183 1925.9,183 1953.7,183 1981.6,265.2 2009.4,374.8 2037.2,429.6 2065.1,368.4 2092.9,274.3 2120.8,228.7 2148.6,292.6 2176.4,402.2 2204.3,493.5 2232.1,520.9 2260,530 2287.8,584.8 2315.6,740.1 2343.5,950.1 2371.3,1096.2 2399.2,1096.2 2427,1096.2 2454.9,1096.2 2482.7,1096.2 2510.5,1096.2 2538.4,1096.2 2566.2,1096.2 2594.1,1096.2 2621.9,1096.2 2649.7,1096.2 2677.6,1096.2 2705.4,1096.2 2733.3,1023.1 2761.1,950.1 2788.9,904.4 2816.8,922.7 2844.6,986.6 2872.5,1032.3 2900.3,1059.7 2928.2,1077.9 2956,1096.2 2983.8,1096.2 3011.7,1096.2 3039.5,1096.2 3067.4,1096.2 3095.2,1096.2 3123,1096.2 3150.9,1096.2 3178.7,1096.2 3206.6,1050.5 3234.4,799.4 3262.3,447.8 3290.1,192.1 3317.9,183 3345.8,183 3373.6,201.3 3401.5,192.1 3429.3,192.1 3457.1,201.3 3485,219.5 3512.8,265.2 3540.7,356.5 3568.5,584.8 3596.3,858.8 3624.2,1014 3652,913.6 3679.9,685.3 3707.7,566.5 3735.6,694.4 3763.4,922.7 3791.2,1096.2 3819.1,1096.2 3846.9,1096.2 3874.8,1096.2 3902.6,1096.2 3930.4,1096.2 3958.3,1096.2 3986.1,1096.2 4014,1096.2 4041.8,1096.2 4069.6,1096.2 4097.5,1096.2 4125.3,1087.1 4153.2,1023.1 4181,931.8 4208.9,831.4 4236.7,740.1 4264.5,639.6 4292.4,548.3 4320.2,466.1 4348.1,393 4375.9,338.2 4403.7,301.7 4431.6,274.3 4459.4,301.7 4487.3,393 4515.1,539.1 4543,694.4 4570.8,840.5 4598.6,986.6 4626.5,1096.2 4654.3,1096.2 4682.2,1096.2 4710,1096.2" fill="none" stroke="#236cc8" stroke-width="1.5" stroke-linejoin="round"/>
<line x1="728.7" x2="728.7" y1="181" y2="1042.6" stroke="#bf7fbf" stroke-width="5"/>
<line x1="1396.9" x2="1396.9" y1="181" y2="1042.6" stroke="#bf7fbf" stroke-width="5"/>
<line x1="2065.1" x2="2065.1" y1="181" y2="1042.6" stroke="#bf7fbf" stroke-width="5"/>
<line x1="2733.3" x2="2733.3" y1="181" y2="1042.6" stroke="#bf7fbf" stroke-width="5"/>
<line x1="3401.5" x2="3401.5" y1="181" y2="1042.6" stroke="#bf7fbf" stroke-width="5"/>
<line x1="4069.6" x2="4069.6" y1="181" y2="1042.6" stroke="#bf7fbf" stroke-width="5"/>
<text x="394.6" y="179.9" font-size="21.3" text-anchor="middle" fill="#c983c9">12月10日</text>
<text x="1062.8" y="179.9" font-size="21.3" text-anchor="middle" fill="#c983c9">12月11日</text>
<text x="1731" y="179.9" font-size="21.3" text-anchor="middle" fill="#c983c9">12月12日</text>
<text x="2399.2" y="179.9" font-size="21.3" text-anchor="middle" fill="#c983c9">12月13日</text>
<text x="3067.4" y="179.9" font-size="21.3" text-anchor="middle" fill="#c983c9">12月14日</text>
<text x="3735.6" y="179.9" font-size="21.3" text-anchor="middle" fill="#c983c9">12月15日</text>
<text x="4403.7" y="179.9" font-size="21.3" text-anchor="middle" fill="#c983c9">12月16日</text>
<text x="255.4" y="399.8" font-size="16" text-anchor="middle" fill="#f59a93">76%</text>
<text x="450.3" y="735.4" font-size="16" text-anchor="middle" fill="#8db8dc">41%</text>
<text x="923.6" y="335.8" font-size="16" text-anchor="middle" fill="#f59a93">83%</text>
<text x="1118.5" y="799.3" font-size="16" text-anchor="middle" fill="#8db8dc">34%</text>
<text x="1396.9" y="698.9" font-size="16" text-anchor="middle" fill="#8db8dc">45%</text>
<text x="1619.6" y="253.7" font-size="16" text-anchor="middle" fill="#f59a93">92%</text>
<text x="2482.7" y="452.3" font-size="16" text-anchor="middle" fill="#8db8dc">72%</text>
<text x="2677.6" y="326.7" font-size="16" text-anchor="middle" fill="#f59a93">84%</text>
<text x="2733.3" y="326.7" font-size="16" text-anchor="middle" fill="#f59a93">84%</text>
<text x="3206.6" y="598.4" font-size="16" text-anchor="middle" fill="#8db8dc">56%</text>
<text x="3763.4" y="561.9" font-size="16" text-anchor="middle" fill="#8db8dc">60%</text>
<text x="3958.3" y="408.9" font-size="16" text-anchor="middle" fill="#f59a93">74%</text>
<text x="4208.9" y="399.8" font-size="16" text-anchor="middle" fill="#f59a93">75%</text>
<text x="4487.3" y="589.3" font-size="16" text-anchor="middle" fill="#8db8dc">57%</text>
<rect x="60.5" y="92.3" width="4649.5" height="1003.9" fill="none" stroke="#000" stroke-width="1.1"/>
<path d="M60.5,1096.2v5M144,1096.2v5M227.5,1096.2v5M311.1,1096.2v5M394.6,1096.2v5M478.1,1096.2v5M561.6,1096.2v5M645.2,1096.2v5M728.7,1096.2v5M812.2,1096.2v5M895.7,1096.2v5M979.3,1096.2v5M1062.8,1096.2v5M1146.3,1096.2v5M1229.8,1096.2v5M1313.4,1096.2v5M1396.9,1096.2v5M1480.4,1096.2v5M1563.9,1096.2v5M1647.5,1096.2v5M1731,1096.2v5M1814.5,1096.2v5M1898,1096.2v5M1981.6,1096.2v5M2065.1,1096.2v5M2148.6,1096.2v5M2232.1,1096.2v5M2315.6,1096.2v5M2399.2,1096.2v5M2482.7,1096.2v5M2566.2,1096.2v5M2649.7,1096.2v5M2733.3,1096.2v5M2816.8,1096.2v5M2900.3,1096.2v5M2983.8,1096.2v5M3067.4,1096.2v5M3150.9,1096.2v5M3234.4,1096.2v5M3317.9,1096.2v5M3401.5,1096.2v5M3485,1096.2v5M3568.5,1096.2v5M3652,1096.2v5M3735.6,1096.2v5M3819.1,1096.2v5M3902.6,1096.2v5M3986.1,1096.2v5M4069.6,1096.2v5M4153.2,1096.2v5M4236.7,1096.2v5M4320.2,1096.2v5M4403.7,1096.2v5M4487.3,1096.2v5M4570.8,1096.2v5M4654.3,1096.2v5M60.5,1096.2h-5M60.5,937h-5M60.5,777.7h-5M60.5,618.5h-5M60.5,459.2h-5M60.5,300h-5M60.5,140.7h-5M4710.0,1096.2h5M4710.0,913.6h5M4710.0,730.9h5M4710.0,548.3h5M4710.0,365.6h5M4710.0,183h5" stroke="#000" stroke-width="1.1" fill="none"/>
<text x="60.5" y="1117.6" font-size="13.3" text-anchor="middle" fill="#000">10日00时</text>
<text x="144" y="1117.6" font-size="13.3" text-anchor="middle" fill="#000">10日03时</text>
<text x="227.5" y="1117.6" font-size="13.3" text-anchor="middle" fill="#000">10日06时</text>
<text x="311.1" y="1117.6" font-size="13.3" text-anchor="middle" fill="#000">10日09时</text>
<text x="394.6" y="1117.6" font-size="13.3" text-anchor="middle" fill="#000">10日12时</text>
<text x="478.1" y="1117.6" font-size="13.3" text-anchor="middle" fill="#000">10日15时</text>
<text x="561.6" y="1117.6" font-size="13.3" text-anchor="middle" fill="#000">10日18时</text>
<text x="645.2" y="1117.6" font-size="13.3" text-anchor="middle" fill="#000">10日21时</text>
<text x="728.7" y="1117.6" font-size="13.3" text-anchor="middle" fill="#000">11日00时</text>
<text x="812.2" y="1117.6" font-size="13.3" text-anchor="middle" fill="#000">11日03时</text>
<text x="895.7" y="1117.6" font-size="13.3" text-anchor="middle" fill="#000">11日06时</text>
<text x="979.3" y="1117.6" font-size="13.3" text-anchor="middle" fill="#000">11日09时</text>
<text x="1062.8" y="1117.6" font-size="13.3" text-anchor="middle" fill="#000">11日12时</text>
<text x="1146.3" y="1117.6" font-size="13.3" text-anchor="middle" fill="#000">11日15时</text>
<text x="1229.8" y="1117.6" font-size="13.3" text-anchor="middle" fill="#000">11日18时</text>
<text x="1313.4" y="1117.6" font-size="13.3" text-anchor="middle" fill="#000">11日21时</text>
<text x="1396.9" y="1117.6" font-size="13.3" text-anchor="middle" fill="#000">12日00时</text>
<text x="1480.4" y="1117.6" font-size="13.3" text-anchor="middle" fill="#000">12日03时</text>
<text x="1563.9" y="1117.6" font-size="13.3" text-anchor="middle" fill="#000">12日06时</text>
<text x="1647.5" y="1117.6" font-size="13.3" text-anchor="middle" fill="#000">12日09时</text>
<text x="1731" y="1117.6" font-size="13.3" text-anchor="middle" fill="#000">12日12时</text>
<text x="1814.5" y="1117.6" font-size="13.3" text-anchor="middle" fill="#000">12日15时</text>
<text x="1898" y="1117.6" font-size="13.3" text-anchor="middle" fill="#000">12日18时</text>
<text x="1981.6" y="1117.6" font-size="13.3" text-anchor="middle" fill="#000">12日21时</text>
<text x="2065.1" y="1117.6" font-size="13.3" text-anchor="middle" fill="#000">13日00时</text>
<text x="2148.6" y="1117.6" font-size="13.3" text-anchor="middle" fill="#000">13日03时</text>
<text x="2232.1" y="1117.6" font-size="13.3" text-anchor="middle" fill="#000">13日06时</text>
<text x="2315.6" y="1117.6" font-size="13.3" text-anchor="middle" fill="#000">13日09时</text>
<text x="2399.2" y="1117.6" font-size="13.3" text-anchor="middle" fill="#000">13日12时</text>
<text x="2482.7" y="1117.6" font-size="13.3" text-anchor="middle" fill="#000">13日15时</text>
<text x="2566.2" y="1117.6" font-size="13.3" text-anchor="middle" fill="#000">13日18时</text>
<text x="2649.7" y="1117.6" font-size="13.3" text-anchor="middle" fill="#000">13日21时</text>
<text x="2733.3" y="1117.6" font-size="13.3" text-anchor="middle" fill="#000">14日00时</text>
<text x="2816.8" y="1117.6" font-size="13.3" text-anchor="middle" fill="#000">14日03时</text>
<text x="2900.3" y="1117.6" font-size="13.3" text-anchor="middle" fill="#000">14日06时</text>
<text x="2983.8" y="1117.6" font-size="13.3" text-anchor="middle" fill="#000">14日09时</text>
<text x="3067.4" y="1117.6" font-size="13.3" text-anchor="middle" fill="#000">14日12时</text>
<text x="3150.9" y="1117.6" font-size="13.3" text-anchor="middle" fill="#000">14日15时</text>
<text x="3234.4" y="1117.6" font-size="13.3" text-anchor="middle" fill="#000">14日18时</text>
<text x="3317.9" y="1117.6" font-size="13.3" text-anchor="middle" fill="#000">14日21时</text>
<text x="3401.5" y="1117.6" font-size="13.3" text-anchor="middle" fill="#000">15日00时</text>
<text x="3485" y="1117.6" font-size="13.3" text-anchor="middle" fill="#000">15日03时</text>
<text x="3568.5" y="1117.6" font-size="13.3" text-anchor="middle" fill="#000">15日06时</text>
<text x="3652" y="1117.6" font-size="13.3" text-anchor="middle" fill="#000">15日09时</text>
<text x="3735.6" y="1117.6" font-size="13.3" text-anchor="middle" fill="#000">15日12时</text>
<text x="3819.1" y="1117.6" font-size="13.3" text-anchor="middle" fill="#000">15日15时</text>
<text x="3902.6" y="1117.6" font-size="13.3" text-anchor="middle" fill="#000">15日18时</text>
<text x="3986.1" y="1117.6" font-size="13.3" text-anchor="middle" fill="#000">15日21时</text>
<text x="4069.6" y="1117.6" font-size="13.3" text-anchor="middle" fill="#000">16日00时</text>
<text x="4153.2" y="1117.6" font-size="13.3" text-anchor="middle" fill="#000">16日03时</text>
<text x="4236.7" y="1117.6" font-size="13.3" text-anchor="middle" fill="#000">16日06时</text>
<text x="4320.2" y="1117.6" font-size="13.3" text-anchor="middle" fill="#000">16日09时</text>
<text x="4403.7" y="1117.6" font-size="13.3" text-anchor="middle" fill="#000">16日12时</text>
<text x="4487.3" y="1117.6" font-size="13.3" text-anchor="middle" fill="#000">16日15时</text>
<text x="4570.8" y="1117.6" font-size="13.3" text-anchor="middle" fill="#000">16日18时</text>
<text x="4654.3" y="1117.6" font-size="13.3" text-anchor="middle" fill="#000">16日21时</text>
<text x="49.5" y="1100.9" font-size="13.3" text-anchor="end" fill="#000">0.0</text>
<text x="49.5" y="941.6" font-size="13.3" text-anchor="end" fill="#000">0.1</text>
<text x="49.5" y="782.4" font-size="13.3" text-anchor="end" fill="#000">0.2</text>
<text x="49.5" y="623.1" font-size="13.3" text-anchor="end" fill="#000">0.3</text>
<text x="49.5" y="463.9" font-size="13.3" text-anchor="end" fill="#000">0.4</text>
<text x="49.5" y="304.6" font-size="13.3" text-anchor="end" fill="#000">0.5</text>
<text x="49.5" y="145.4" font-size="13.3" text-anchor="end" fill="#000">0.6</text>
<text x="4719" y="1100.9" font-size="13.3" text-anchor="start" fill="#000">0</text>
<text x="4719" y="918.2" font-size="13.3" text-anchor="start" fill="#000">20</text>
<text x="4719" y="735.6" font-size="13.3" text-anchor="start" fill="#000">40</text>
<text x="4719" y="552.9" font-size="13.3" text-anchor="start" fill="#000">60</text>
<text x="4719" y="370.3" font-size="13.3" text-anchor="start" fill="#000">80</text>
<text x="4719" y="187.7" font-size="13.3" text-anchor="start" fill="#000">100</text>
<text transform="translate(16.5,598) rotate(-90)" y="4.7" font-size="13.3" text-anchor="middle" fill="#000">逐小时降水量（毫米）</text>
<text transform="translate(4751,598) rotate(-90)" y="4.7" font-size="13.3" text-anchor="middle" fill="#000">相对湿度/总云量（%）</text>
<rect x="68.7" y="99.4" width="159" height="30.6" rx="3" fill="#fff" fill-opacity="0.8" stroke="#ccc" stroke-width="1"/>
<rect x="75.4" y="109.3" width="32.3" height="11.5" fill="#1f77b4"/>
<text x="122.6" y="120.6" font-size="16" text-anchor="start" fill="#000">逐小时降水量</text>
<rect x="4575.5" y="99.8" width="125.5" height="53.4" rx="3" fill="#fff" fill-opacity="0.8" stroke="#ccc" stroke-width="1"/>
<line x1="4581.7" x2="4615.9" y1="115.9" y2="115.9" stroke="#b0dc62" stroke-width="3"/>
<line x1="4581.7" x2="4615.9" y1="138.9" y2="138.9" stroke="#236cc8" stroke-width="1.5"/>
<text x="4629.6" y="121.5" font-size="16" text-anchor="start" fill="#000">相对湿度</text>
<text x="4629.6" y="144.5" font-size="16" text-anchor="start" fill="#000">总云量</text>
<text x="2385.5" y="44.5" font-size="41.4" text-anchor="middle" fill="#000">呼和浩特市未来一周降水量、相对湿度、总云量变化趋势</text>
</g>
<g id="table">
<text x="565" y="1288.1" font-size="41.3" text-anchor="middle" fill="#000">呼和浩特市未来7日主要天气</text>
<text x="118.6" y="1330.4" font-size="16" text-anchor="middle" fill="#222">时间</text>
<text x="229.8" y="1330.4" font-size="16" text-anchor="middle" fill="#222">天气</text>
<text x="342.1" y="1330.4" font-size="16" text-anchor="middle" fill="#222">标志</text>
<text x="453.3" y="1330.4" font-size="16" text-anchor="middle" fill="#222">持续时长（h）</text>
<text x="564.4" y="1330.4" font-size="16" text-anchor="middle" fill="#222">气温（℃）</text>
<text x="676.8" y="1330.4" font-size="16" text-anchor="middle" fill="#222">地面气压（hPa）</text>
<text x="787.9" y="1330.4" font-size="16" text-anchor="middle" fill="#222">相对湿度（%）</text>
<text x="899.7" y="1330.4" font-size="16" text-anchor="middle" fill="#222">风速（m/s）</text>
<text x="1011.4" y="1330.4" font-size="16" text-anchor="middle" fill="#222">1小时降水量（mm）</text>
<rect x="62.4" y="1349.3" width="1005.6" height="50.1" fill="#e8f0fa"/>
<line x1="62.4" x2="1068.0" y1="1399.4" y2="1399.4" stroke="#c2ccd7" stroke-width="1.6"/>
<text x="118.6" y="1380.4" font-size="16" text-anchor="middle" fill="#222">10日00时</text>
<text x="229.8" y="1379.4" font-size="16" text-anchor="middle" fill="#222">晴</text>
<use href="#t_qing" x="326.6" y="1358.3" width="31" height="31" fill="#000"/>
<text x="453.3" y="1379.4" font-size="16" text-anchor="middle" fill="#222">3</text>
<circle cx="564.4" cy="1373.8" r="19" fill="#dfdbd9"/>
<text x="564.4" y="1379.4" font-size="16" text-anchor="middle" fill="#222">−7.1</text>
<text x="676.8" y="1379.4" font-size="16" text-anchor="middle" fill="#222">896.6</text>
<text x="787.9" y="1379.4" font-size="16" text-anchor="middle" fill="#222">65</text>
<text x="899.7" y="1379.4" font-size="16" text-anchor="middle" fill="#222">1.0</text>
<text x="1011.4" y="1379.4" font-size="16" text-anchor="middle" fill="#222">0.0</text>
<line x1="62.4" x2="1068.0" y1="1449.5" y2="1449.5" stroke="#c2ccd7" stroke-width="1.6"/>
<text x="118.6" y="1430.5" font-size="16" text-anchor="middle" fill="#222">10日03时</text>
<text x="229.8" y="1429.5" font-size="16" text-anchor="middle" fill="#222">大部晴</text>
<use href="#t_dabuqing" x="326.6" y="1408.5" width="31" height="30.8" fill="#000"/>
<text x="453.3" y="1429.5" font-size="16" text-anchor="middle" fill="#222">1</text>
<circle cx="564.4" cy="1423.9" r="19" fill="#dcdddd"/>
<text x="564.4" y="1429.5" font-size="16" text-anchor="middle" fill="#222">−7.6</text>
<text x="676.8" y="1429.5" font-size="16" text-anchor="middle" fill="#222">895.6</text>
<text x="787.9" y="1429.5" font-size="16" text-anchor="middle" fill="#222">68</text>
<text x="899.7" y="1429.5" font-size="16" text-anchor="middle" fill="#222">0.8</text>
<text x="1011.4" y="1429.5" font-size="16" text-anchor="middle" fill="#222">0.0</text>
<rect x="62.4" y="1449.5" width="1005.6" height="50.1" fill="#e8f0fa"/>
<line x1="62.4" x2="1068.0" y1="1499.6" y2="1499.6" stroke="#c2ccd7" stroke-width="1.6"/>
<text x="118.6" y="1480.6" font-size="16" text-anchor="middle" fill="#222">10日04时</text>
<text x="229.8" y="1479.6" font-size="16" text-anchor="middle" fill="#222">多云</text>
<use href="#t_duoyun" x="327" y="1458.5" width="30.1" height="31" fill="#000"/>
<text x="453.3" y="1479.6" font-size="16" text-anchor="middle" fill="#222">1</text>
<circle cx="564.4" cy="1474" r="19" fill="#dadce0"/>
<text x="564.4" y="1479.6" font-size="16" text-anchor="middle" fill="#222">−7.9</text>
<text x="676.8" y="1479.6" font-size="16" text-anchor="middle" fill="#222">895.0</text>
<text x="787.9" y="1479.6" font-size="16" text-anchor="middle" fill="#222">71</text>
<text x="899.7" y="1479.6" font-size="16" text-anchor="middle" fill="#222">0.6</text>
<text x="1011.4" y="1479.6" font-size="16" text-anchor="middle" fill="#222">0.0</text>
<line x1="62.4" x2="1068.0" y1="1549.7" y2="1549.7" stroke="#c2ccd7" stroke-width="1.6"/>
<text x="118.6" y="1530.7" font-size="16" text-anchor="middle" fill="#222">10日05时</text>
<text x="229.8" y="1529.7" font-size="16" text-anchor="middle" fill="#222">阴</text>
<use href="#t_yin" x="326.9" y="1511.4" width="30.5" height="25.4" fill="#000"/>
<text x="453.3" y="1529.7" font-size="16" text-anchor="middle" fill="#222">9</text>
<circle cx="564.4" cy="1524.1" r="19" fill="#d9dce1"/>
<text x="564.4" y="1529.7" font-size="16" text-anchor="middle" fill="#222">−8.1</text>
<text x="676.8" y="1529.7" font-size="16" text-anchor="middle" fill="#222">894.8</text>
<text x="787.9" y="1529.7" font-size="16" text-anchor="middle" fill="#222">73</text>
<text x="899.7" y="1529.7" font-size="16" text-anchor="middle" fill="#222">0.5</text>
<text x="1011.4" y="1529.7" font-size="16" text-anchor="middle" fill="#222">0.0</text>
<rect x="62.4" y="1549.7" width="1005.6" height="50.1" fill="#e8f0fa"/>
<line x1="62.4" x2="1068.0" y1="1599.8" y2="1599.8" stroke="#c2ccd7" stroke-width="1.6"/>
<text x="118.6" y="1580.8" font-size="16" text-anchor="middle" fill="#222">10日14时</text>
<text x="229.8" y="1579.8" font-size="16" text-anchor="middle" fill="#222">多云</text>
<use href="#t_duoyun" x="327" y="1558.8" width="30.1" height="31" fill="#000"/>
<text x="453.3" y="1579.8" font-size="16" text-anchor="middle" fill="#222">1</text>
<circle cx="564.4" cy="1574.2" r="15" fill="#f7b79b"/>
<text x="564.4" y="1579.8" font-size="16" text-anchor="middle" fill="#222">0.2</text>
<text x="676.8" y="1579.8" font-size="16" text-anchor="middle" fill="#222">897.6</text>
<text x="787.9" y="1579.8" font-size="16" text-anchor="middle" fill="#222">41</text>
<text x="899.7" y="1579.8" font-size="16" text-anchor="middle" fill="#222">0.8</text>
<text x="1011.4" y="1579.8" font-size="16" text-anchor="middle" fill="#222">0.0</text>
<line x1="62.4" x2="1068.0" y1="1649.9" y2="1649.9" stroke="#c2ccd7" stroke-width="1.6"/>
<text x="118.6" y="1630.9" font-size="16" text-anchor="middle" fill="#222">10日15时</text>
<text x="229.8" y="1629.9" font-size="16" text-anchor="middle" fill="#222">大部晴</text>
<use href="#t_dabuqing" x="326.6" y="1608.9" width="31" height="30.8" fill="#000"/>
<text x="453.3" y="1629.9" font-size="16" text-anchor="middle" fill="#222">2</text>
<circle cx="564.4" cy="1624.3" r="19" fill="#f7b99e"/>
<text x="564.4" y="1629.9" font-size="16" text-anchor="middle" fill="#222">−0.2</text>
<text x="676.8" y="1629.9" font-size="16" text-anchor="middle" fill="#222">897.2</text>
<text x="787.9" y="1629.9" font-size="16" text-anchor="middle" fill="#222">41</text>
<text x="899.7" y="1629.9" font-size="16" text-anchor="middle" fill="#222">0.8</text>
<text x="1011.4" y="1629.9" font-size="16" text-anchor="middle" fill="#222">0.0</text>
<rect x="62.4" y="1649.9" width="1005.6" height="50.1" fill="#e8f0fa"/>
<line x1="62.4" x2="1068.0" y1="1700" y2="1700" stroke="#c2ccd7" stroke-width="1.6"/>
<text x="118.6" y="1681" font-size="16" text-anchor="middle" fill="#222">10日17时</text>
<text x="229.8" y="1680" font-size="16" text-anchor="middle" fill="#222">晴</text>
<use href="#t_qing" x="326.6" y="1659" width="31" height="31" fill="#000"/>
<text x="453.3" y="1680" font-size="16" text-anchor="middle" fill="#222">1</text>
<circle cx="564.4" cy="1674.5" r="19" fill="#f4c5ad"/>
<text x="564.4" y="1680" font-size="16" text-anchor="middle" fill="#222">−2.0</text>
<text x="676.8" y="1680" font-size="16" text-anchor="middle" fill="#222">896.7</text>
<text x="787.9" y="1680" font-size="16" text-anchor="middle" fill="#222">48</text>
<text x="899.7" y="1680" font-size="16" text-anchor="middle" fill="#222">0.9</text>
<text x="1011.4" y="1680" font-size="16" text-anchor="middle" fill="#222">0.0</text>
<line x1="62.4" x2="1068.0" y1="1750.1" y2="1750.1" stroke="#c2ccd7" stroke-width="1.6"/>
<text x="118.6" y="1731.1" font-size="16" text-anchor="middle" fill="#222">10日18时</text>
<text x="229.8" y="1730.1" font-size="16" text-anchor="middle" fill="#222">大部晴</text>
<use href="#t_dabuqing" x="326.6" y="1709.1" width="31" height="30.8" fill="#000"/>
<text x="453.3" y="1730.1" font-size="16" text-anchor="middle" fill="#222">1</text>
<circle cx="564.4" cy="1724.5" r="19" fill="#f2c9b4"/>
<text x="564.4" y="1730.1" font-size="16" text-anchor="middle" fill="#222">−2.7</text>
<text x="676.8" y="1730.1" font-size="16" text-anchor="middle" fill="#222">896.8</text>
<text x="787.9" y="1730.1" font-size="16" text-anchor="middle" fill="#222">54</text>
<text x="899.7" y="1730.1" font-size="16" text-anchor="middle" fill="#222">1.2</text>
<text x="1011.4" y="1730.1" font-size="16" text-anchor="middle" fill="#222">0.0</text>
<rect x="62.4" y="1750.1" width="1005.6" height="50.1" fill="#e8f0fa"/>
<line x1="62.4" x2="1068.0" y1="1800.2" y2="1800.2" stroke="#c2ccd7" stroke-width="1.6"/>
<text x="118.6" y="1781.2" font-size="16" text-anchor="middle" fill="#222">10日19时</text>
<text x="229.8" y="1780.2" font-size="16" text-anchor="middle" fill="#222">多云</text>
<use href="#t_duoyun" x="327" y="1759.1" width="30.1" height="31" fill="#000"/>
<text x="453.3" y="1780.2" font-size="16" text-anchor="middle" fill="#222">1</text>
<circle cx="564.4" cy="1774.6" r="19" fill="#f1ccb8"/>
<text x="564.4" y="1780.2" font-size="16" text-anchor="middle" fill="#222">−3.2</text>
<text x="676.8" y="1780.2" font-size="16" text-anchor="middle" fill="#222">897.3</text>
<text x="787.9" y="1780.2" font-size="16" text-anchor="middle" fill="#222">61</text>
<text x="899.7" y="1780.2" font-size="16" text-anchor="middle" fill="#222">1.7</text>
<text x="1011.4" y="1780.2" font-size="16" text-anchor="middle" fill="#222">0.0</text>
<line x1="62.4" x2="1068.0" y1="1850.3" y2="1850.3" stroke="#c2ccd7" stroke-width="1.6"/>
<text x="118.6" y="1831.3" font-size="16" text-anchor="middle" fill="#222">10日20时</text>
<text x="229.8" y="1830.3" font-size="16" text-anchor="middle" fill="#222">阴</text>
<use href="#t_yin" x="326.9" y="1812" width="30.5" height="25.4" fill="#000"/>
<text x="453.3" y="1830.3" font-size="16" text-anchor="middle" fill="#222">5</text>
<circle cx="564.4" cy="1824.8" r="19" fill="#efcebd"/>
<text x="564.4" y="1830.3" font-size="16" text-anchor="middle" fill="#222">−3.7</text>
<text x="676.8" y="1830.3" font-size="16" text-anchor="middle" fill="#222">897.8</text>
<text x="787.9" y="1830.3" font-size="16" text-anchor="middle" fill="#222">66</text>
<text x="899.7" y="1830.3" font-size="16" text-anchor="middle" fill="#222">1.9</text>
<text x="1011.4" y="1830.3" font-size="16" text-anchor="middle" fill="#222">0.0</text>
<rect x="62.4" y="1850.3" width="1005.6" height="50.1" fill="#e8f0fa"/>
<line x1="62.4" x2="1068.0" y1="1900.4" y2="1900.4" stroke="#c2ccd7" stroke-width="1.6"/>
<text x="118.6" y="1881.4" font-size="16" text-anchor="middle" fill="#222">11日01时</text>
<text x="229.8" y="1880.4" font-size="16" text-anchor="middle" fill="#222">多云</text>
<use href="#t_duoyun" x="327" y="1859.3" width="30.1" height="31" fill="#000"/>
<text x="453.3" y="1880.4" font-size="16" text-anchor="middle" fill="#222">1</text>
<circle cx="564.4" cy="1874.8" r="19" fill="#ead4c8"/>
<text x="564.4" y="1880.4" font-size="16" text-anchor="middle" fill="#222">−5.0</text>
<text x="676.8" y="1880.4" font-size="16" text-anchor="middle" fill="#222">900.4</text>
<text x="787.9" y="1880.4" font-size="16" text-anchor="middle" fill="#222">76</text>
<text x="899.7" y="1880.4" font-size="16" text-anchor="middle" fill="#222">0.8</text>
<text x="1011.4" y="1880.4" font-size="16" text-anchor="middle" fill="#222">0.0</text>
<line x1="62.4" x2="1068.0" y1="1950.5" y2="1950.5" stroke="#c2ccd7" stroke-width="1.6"/>
<text x="118.6" y="1931.5" font-size="16" text-anchor="middle" fill="#222">11日02时</text>
<text x="229.8" y="1930.5" font-size="16" text-anchor="middle" fill="#222">大部晴</text>
<use href="#t_dabuqing" x="326.6" y="1909.5" width="31" height="30.8" fill="#000"/>
<text x="453.3" y="1930.5" font-size="16" text-anchor="middle" fill="#222">2</text>
<circle cx="564.4" cy="1925" r="19" fill="#e8d6cc"/>
<text x="564.4" y="1930.5" font-size="16" text-anchor="middle" fill="#222">−5.4</text>
<text x="676.8" y="1930.5" font-size="16" text-anchor="middle" fill="#222">900.5</text>
<text x="787.9" y="1930.5" font-size="16" text-anchor="middle" fill="#222">78</text>
<text x="899.7" y="1930.5" font-size="16" text-anchor="middle" fill="#222">1.1</text>
<text x="1011.4" y="1930.5" font-size="16" text-anchor="middle" fill="#222">0.0</text>
<rect x="62.4" y="1950.5" width="1005.6" height="50.1" fill="#e8f0fa"/>
<line x1="62.4" x2="1068.0" y1="2000.6" y2="2000.6" stroke="#c2ccd7" stroke-width="1.6"/>
<text x="118.6" y="1981.6" font-size="16" text-anchor="middle" fill="#222">11日04时</text>
<text x="229.8" y="1980.6" font-size="16" text-anchor="middle" fill="#222">晴</text>
<use href="#t_qing" x="326.6" y="1959.5" width="31" height="31" fill="#000"/>
<text x="453.3" y="1980.6" font-size="16" text-anchor="middle" fill="#222">5</text>
<circle cx="564.4" cy="1975" r="19" fill="#e2dad5"/>
<text x="564.4" y="1980.6" font-size="16" text-anchor="middle" fill="#222">−6.5</text>
<text x="676.8" y="1980.6" font-size="16" text-anchor="middle" fill="#222">900.3</text>
<text x="787.9" y="1980.6" font-size="16" text-anchor="middle" fill="#222">78</text>
<text x="899.7" y="1980.6" font-size="16" text-anchor="middle" fill="#222">1.3</text>
<text x="1011.4" y="1980.6" font-size="16" text-anchor="middle" fill="#222">0.0</text>
<line x1="62.4" x2="1068.0" y1="2050.7" y2="2050.7" stroke="#c2ccd7" stroke-width="1.6"/>
<text x="118.6" y="2031.7" font-size="16" text-anchor="middle" fill="#222">11日09时</text>
<text x="229.8" y="2030.7" font-size="16" text-anchor="middle" fill="#222">大部晴</text>
<use href="#t_dabuqing" x="326.6" y="2009.7" width="31" height="30.8" fill="#000"/>
<text x="453.3" y="2030.7" font-size="16" text-anchor="middle" fill="#222">2</text>
<circle cx="564.4" cy="2025.1" r="19" fill="#e2dad5"/>
<text x="564.4" y="2030.7" font-size="16" text-anchor="middle" fill="#222">−6.5</text>
<text x="676.8" y="2030.7" font-size="16" text-anchor="middle" fill="#222">902.5</text>
<text x="787.9" y="2030.7" font-size="16" text-anchor="middle" fill="#222">71</text>
<text x="899.7" y="2030.7" font-size="16" text-anchor="middle" fill="#222">2.8</text>
<text x="1011.4" y="2030.7" font-size="16" text-anchor="middle" fill="#222">0.0</text>
<rect x="62.4" y="2050.7" width="1005.6" height="50.1" fill="#e8f0fa"/>
<line x1="62.4" x2="1068.0" y1="2100.8" y2="2100.8" stroke="#c2ccd7" stroke-width="1.6"/>
<text x="118.6" y="2081.8" font-size="16" text-anchor="middle" fill="#222">11日11时</text>
<text x="229.8" y="2080.8" font-size="16" text-anchor="middle" fill="#222">多云</text>
<use href="#t_duoyun" x="327" y="2059.8" width="30.1" height="31" fill="#000"/>
<text x="453.3" y="2080.8" font-size="16" text-anchor="middle" fill="#222">1</text>
<circle cx="564.4" cy="2075.2" r="19" fill="#f6bda2"/>
<text x="564.4" y="2080.8" font-size="16" text-anchor="middle" fill="#222">−0.8</text>
<text x="676.8" y="2080.8" font-size="16" text-anchor="middle" fill="#222">904.6</text>
<text x="787.9" y="2080.8" font-size="16" text-anchor="middle" fill="#222">45</text>
<text x="899.7" y="2080.8" font-size="16" text-anchor="middle" fill="#222">2.7</text>
<text x="1011.4" y="2080.8" font-size="16" text-anchor="middle" fill="#222">0.0</text>
<line x1="62.4" x2="1068.0" y1="2150.9" y2="2150.9" stroke="#c2ccd7" stroke-width="1.6"/>
<text x="118.6" y="2132" font-size="16" text-anchor="middle" fill="#222">11日12时</text>
<text x="229.8" y="2131" font-size="16" text-anchor="middle" fill="#222">阴</text>
<use href="#t_yin" x="326.9" y="2112.6" width="30.5" height="25.4" fill="#000"/>
<text x="453.3" y="2131" font-size="16" text-anchor="middle" fill="#222">12</text>
<circle cx="564.4" cy="2125.4" r="15" fill="#f7b194"/>
<text x="564.4" y="2131" font-size="16" text-anchor="middle" fill="#222">0.8</text>
<text x="676.8" y="2131" font-size="16" text-anchor="middle" fill="#222">904.3</text>
<text x="787.9" y="2131" font-size="16" text-anchor="middle" fill="#222">39</text>
<text x="899.7" y="2131" font-size="16" text-anchor="middle" fill="#222">2.6</text>
<text x="1011.4" y="2131" font-size="16" text-anchor="middle" fill="#222">0.0</text>
<rect x="62.4" y="2150.9" width="1005.6" height="50.1" fill="#e8f0fa"/>
<line x1="62.4" x2="1068.0" y1="2201" y2="2201" stroke="#c2ccd7" stroke-width="1.6"/>
<text x="118.6" y="2182.1" font-size="16" text-anchor="middle" fill="#222">12日00时</text>
<text x="229.8" y="2181.1" font-size="16" text-anchor="middle" fill="#222">小雪</text>
<use href="#t_xue2" x="326.6" y="2160.7" width="31" height="29.6" fill="#000"/>
<text x="453.3" y="2181.1" font-size="16" text-anchor="middle" fill="#222">3</text>
<circle cx="564.4" cy="2175.5" r="19" fill="#f1cdba"/>
<text x="564.4" y="2181.1" font-size="16" text-anchor="middle" fill="#222">−3.4</text>
<text x="676.8" y="2181.1" font-size="16" text-anchor="middle" fill="#222">901.3</text>
<text x="787.9" y="2181.1" font-size="16" text-anchor="middle" fill="#222">45</text>
<text x="899.7" y="2181.1" font-size="16" text-anchor="middle" fill="#222">3.0</text>
<text x="1011.4" y="2181.1" font-size="16" text-anchor="middle" fill="#222">0.1</text>
<line x1="62.4" x2="1068.0" y1="2251.1" y2="2251.1" stroke="#c2ccd7" stroke-width="1.6"/>
<text x="118.6" y="2232.2" font-size="16" text-anchor="middle" fill="#222">12日03时</text>
<text x="229.8" y="2231.2" font-size="16" text-anchor="middle" fill="#222">中雪</text>
<use href="#t_xue3" x="326.8" y="2210.1" width="30.6" height="31" fill="#000"/>
<text x="453.3" y="2231.2" font-size="16" text-anchor="middle" fill="#222">12</text>
<circle cx="564.4" cy="2225.6" r="19" fill="#f1cdba"/>
<text x="564.4" y="2231.2" font-size="16" text-anchor="middle" fill="#222">−3.3</text>
<text x="676.8" y="2231.2" font-size="16" text-anchor="middle" fill="#222">900.8</text>
<text x="787.9" y="2231.2" font-size="16" text-anchor="middle" fill="#222">63</text>
<text x="899.7" y="2231.2" font-size="16" text-anchor="middle" fill="#222">2.2</text>
<text x="1011.4" y="2231.2" font-size="16" text-anchor="middle" fill="#222">0.4</text>
<rect x="62.4" y="2251.1" width="1005.6" height="50.1" fill="#e8f0fa"/>
<line x1="62.4" x2="1068.0" y1="2301.2" y2="2301.2" stroke="#c2ccd7" stroke-width="1.6"/>
<text x="118.6" y="2282.2" font-size="16" text-anchor="middle" fill="#222">12日15时</text>
<text x="229.8" y="2281.2" font-size="16" text-anchor="middle" fill="#222">小雪</text>
<use href="#t_xue2" x="326.6" y="2260.9" width="31" height="29.6" fill="#000"/>
<text x="453.3" y="2281.2" font-size="16" text-anchor="middle" fill="#222">3</text>
<circle cx="564.4" cy="2275.7" r="19" fill="#f2cab5"/>
<text x="564.4" y="2281.2" font-size="16" text-anchor="middle" fill="#222">−2.8</text>
<text x="676.8" y="2281.2" font-size="16" text-anchor="middle" fill="#222">901.1</text>
<text x="787.9" y="2281.2" font-size="16" text-anchor="middle" fill="#222">86</text>
<text x="899.7" y="2281.2" font-size="16" text-anchor="middle" fill="#222">0.3</text>
<text x="1011.4" y="2281.2" font-size="16" text-anchor="middle" fill="#222">0.2</text>
<line x1="62.4" x2="1068.0" y1="2351.3" y2="2351.3" stroke="#c2ccd7" stroke-width="1.6"/>
<text x="118.6" y="2332.3" font-size="16" text-anchor="middle" fill="#222">12日18时</text>
<text x="229.8" y="2331.3" font-size="16" text-anchor="middle" fill="#222">阴</text>
<use href="#t_yin" x="326.9" y="2313" width="30.5" height="25.4" fill="#000"/>
<text x="453.3" y="2331.3" font-size="16" text-anchor="middle" fill="#222">4</text>
<circle cx="564.4" cy="2325.8" r="19" fill="#edd2c3"/>
<text x="564.4" y="2331.3" font-size="16" text-anchor="middle" fill="#222">−4.5</text>
<text x="676.8" y="2331.3" font-size="16" text-anchor="middle" fill="#222">903.2</text>
<text x="787.9" y="2331.3" font-size="16" text-anchor="middle" fill="#222">76</text>
<text x="899.7" y="2331.3" font-size="16" text-anchor="middle" fill="#222">0.9</text>
<text x="1011.4" y="2331.3" font-size="16" text-anchor="middle" fill="#222">0.0</text>
<rect x="62.4" y="2351.3" width="1005.6" height="50.1" fill="#e8f0fa"/>
<line x1="62.4" x2="1068.0" y1="2401.4" y2="2401.4" stroke="#c2ccd7" stroke-width="1.6"/>
<text x="118.6" y="2382.5" font-size="16" text-anchor="middle" fill="#222">12日22时</text>
<text x="229.8" y="2381.5" font-size="16" text-anchor="middle" fill="#222">多云</text>
<use href="#t_duoyun" x="327" y="2360.4" width="30.1" height="31" fill="#000"/>
<text x="453.3" y="2381.5" font-size="16" text-anchor="middle" fill="#222">3</text>
<circle cx="564.4" cy="2375.9" r="19" fill="#dddcdc"/>
<text x="564.4" y="2381.5" font-size="16" text-anchor="middle" fill="#222">−7.5</text>
<text x="676.8" y="2381.5" font-size="16" text-anchor="middle" fill="#222">904.3</text>
<text x="787.9" y="2381.5" font-size="16" text-anchor="middle" fill="#222">79</text>
<text x="899.7" y="2381.5" font-size="16" text-anchor="middle" fill="#222">3.5</text>
<text x="1011.4" y="2381.5" font-size="16" text-anchor="middle" fill="#222">0.0</text>
<line x1="62.4" x2="1068.0" y1="2451.5" y2="2451.5" stroke="#c2ccd7" stroke-width="1.6"/>
<text x="118.6" y="2432.6" font-size="16" text-anchor="middle" fill="#222">13日01时</text>
<text x="229.8" y="2431.6" font-size="16" text-anchor="middle" fill="#222">阴</text>
<use href="#t_yin" x="326.9" y="2413.2" width="30.5" height="25.4" fill="#000"/>
<text x="453.3" y="2431.6" font-size="16" text-anchor="middle" fill="#222">3</text>
<circle cx="564.4" cy="2426" r="23.4" fill="#c6d6f1"/>
<text x="564.4" y="2431.6" font-size="16" text-anchor="middle" fill="#222">−11.1</text>
<text x="676.8" y="2431.6" font-size="16" text-anchor="middle" fill="#222">904.3</text>
<text x="787.9" y="2431.6" font-size="16" text-anchor="middle" fill="#222">81</text>
<text x="899.7" y="2431.6" font-size="16" text-anchor="middle" fill="#222">1.8</text>
<text x="1011.4" y="2431.6" font-size="16" text-anchor="middle" fill="#222">0.0</text>
<rect x="62.4" y="2451.5" width="1005.6" height="50.1" fill="#e8f0fa"/>
<line x1="62.4" x2="1068.0" y1="2501.6" y2="2501.6" stroke="#c2ccd7" stroke-width="1.6"/>
<text x="118.6" y="2482.7" font-size="16" text-anchor="middle" fill="#222">13日04时</text>
<text x="229.8" y="2481.7" font-size="16" text-anchor="middle" fill="#222">多云</text>
<use href="#t_duoyun" x="327" y="2460.6" width="30.1" height="31" fill="#000"/>
<text x="453.3" y="2481.7" font-size="16" text-anchor="middle" fill="#222">5</text>
<circle cx="564.4" cy="2476.1" r="23.4" fill="#bed2f6"/>
<text x="564.4" y="2481.7" font-size="16" text-anchor="middle" fill="#222">−12.4</text>
<text x="676.8" y="2481.7" font-size="16" text-anchor="middle" fill="#222">904.1</text>
<text x="787.9" y="2481.7" font-size="16" text-anchor="middle" fill="#222">83</text>
<text x="899.7" y="2481.7" font-size="16" text-anchor="middle" fill="#222">0.3</text>
<text x="1011.4" y="2481.7" font-size="16" text-anchor="middle" fill="#222">0.0</text>
<line x1="62.4" x2="1068.0" y1="2551.7" y2="2551.7" stroke="#c2ccd7" stroke-width="1.6"/>
<text x="118.6" y="2532.8" font-size="16" text-anchor="middle" fill="#222">13日09时</text>
<text x="229.8" y="2531.8" font-size="16" text-anchor="middle" fill="#222">大部晴</text>
<use href="#t_dabuqing" x="326.6" y="2510.7" width="31" height="30.8" fill="#000"/>
<text x="453.3" y="2531.8" font-size="16" text-anchor="middle" fill="#222">1</text>
<circle cx="564.4" cy="2526.2" r="23.4" fill="#a9c6fd"/>
<text x="564.4" y="2531.8" font-size="16" text-anchor="middle" fill="#222">−15.1</text>
<text x="676.8" y="2531.8" font-size="16" text-anchor="middle" fill="#222">905.1</text>
<text x="787.9" y="2531.8" font-size="16" text-anchor="middle" fill="#222">80</text>
<text x="899.7" y="2531.8" font-size="16" text-anchor="middle" fill="#222">2.2</text>
<text x="1011.4" y="2531.8" font-size="16" text-anchor="middle" fill="#222">0.0</text>
<rect x="62.4" y="2551.7" width="1005.6" height="50.1" fill="#e8f0fa"/>
<line x1="62.4" x2="1068.0" y1="2601.8" y2="2601.8" stroke="#c2ccd7" stroke-width="1.6"/>
<text x="118.6" y="2582.8" font-size="16" text-anchor="middle" fill="#222">13日10时</text>
<text x="229.8" y="2581.8" font-size="16" text-anchor="middle" fill="#222">晴</text>
<use href="#t_qing" x="326.6" y="2560.8" width="31" height="31" fill="#000"/>
<text x="453.3" y="2581.8" font-size="16" text-anchor="middle" fill="#222">16</text>
<circle cx="564.4" cy="2576.2" r="23.4" fill="#b1cbfc"/>
<text x="564.4" y="2581.8" font-size="16" text-anchor="middle" fill="#222">−14.1</text>
<text x="676.8" y="2581.8" font-size="16" text-anchor="middle" fill="#222">906.1</text>
<text x="787.9" y="2581.8" font-size="16" text-anchor="middle" fill="#222">77</text>
<text x="899.7" y="2581.8" font-size="16" text-anchor="middle" fill="#222">1.8</text>
<text x="1011.4" y="2581.8" font-size="16" text-anchor="middle" fill="#222">0.0</text>
<line x1="62.4" x2="1068.0" y1="2651.9" y2="2651.9" stroke="#c2ccd7" stroke-width="1.6"/>
<text x="118.6" y="2633" font-size="16" text-anchor="middle" fill="#222">14日02时</text>
<text x="229.8" y="2632" font-size="16" text-anchor="middle" fill="#222">大部晴</text>
<use href="#t_dabuqing" x="326.6" y="2610.9" width="31" height="30.8" fill="#000"/>
<text x="453.3" y="2632" font-size="16" text-anchor="middle" fill="#222">1</text>
<circle cx="564.4" cy="2626.4" r="23.4" fill="#8fb1fe"/>
<text x="564.4" y="2632" font-size="16" text-anchor="middle" fill="#222">−18.5</text>
<text x="676.8" y="2632" font-size="16" text-anchor="middle" fill="#222">900.1</text>
<text x="787.9" y="2632" font-size="16" text-anchor="middle" fill="#222">82</text>
<text x="899.7" y="2632" font-size="16" text-anchor="middle" fill="#222">1.2</text>
<text x="1011.4" y="2632" font-size="16" text-anchor="middle" fill="#222">0.0</text>
<rect x="62.4" y="2651.9" width="1005.6" height="50.1" fill="#e8f0fa"/>
<line x1="62.4" x2="1068.0" y1="2702" y2="2702" stroke="#c2ccd7" stroke-width="1.6"/>
<text x="118.6" y="2683.1" font-size="16" text-anchor="middle" fill="#222">14日03时</text>
<text x="229.8" y="2682.1" font-size="16" text-anchor="middle" fill="#222">晴</text>
<use href="#t_qing" x="326.6" y="2661" width="31" height="31" fill="#000"/>
<text x="453.3" y="2682.1" font-size="16" text-anchor="middle" fill="#222">15</text>
<circle cx="564.4" cy="2676.5" r="23.4" fill="#8caffe"/>
<text x="564.4" y="2682.1" font-size="16" text-anchor="middle" fill="#222">−18.9</text>
<text x="676.8" y="2682.1" font-size="16" text-anchor="middle" fill="#222">899.7</text>
<text x="787.9" y="2682.1" font-size="16" text-anchor="middle" fill="#222">82</text>
<text x="899.7" y="2682.1" font-size="16" text-anchor="middle" fill="#222">1.1</text>
<text x="1011.4" y="2682.1" font-size="16" text-anchor="middle" fill="#222">0.0</text>
<line x1="62.4" x2="1068.0" y1="2752.1" y2="2752.1" stroke="#c2ccd7" stroke-width="1.6"/>
<text x="118.6" y="2733.2" font-size="16" text-anchor="middle" fill="#222">14日18时</text>
<text x="229.8" y="2732.2" font-size="16" text-anchor="middle" fill="#222">大部晴</text>
<use href="#t_dabuqing" x="326.6" y="2711.1" width="31" height="30.8" fill="#000"/>
<text x="453.3" y="2732.2" font-size="16" text-anchor="middle" fill="#222">1</text>
<circle cx="564.4" cy="2726.6" r="23.4" fill="#b5cdfa"/>
<text x="564.4" y="2732.2" font-size="16" text-anchor="middle" fill="#222">−13.6</text>
<text x="676.8" y="2732.2" font-size="16" text-anchor="middle" fill="#222">895.6</text>
<text x="787.9" y="2732.2" font-size="16" text-anchor="middle" fill="#222">58</text>
<text x="899.7" y="2732.2" font-size="16" text-anchor="middle" fill="#222">1.6</text>
<text x="1011.4" y="2732.2" font-size="16" text-anchor="middle" fill="#222">0.0</text>
<rect x="62.4" y="2752.1" width="1005.6" height="50.1" fill="#e8f0fa"/>
<line x1="62.4" x2="1068.0" y1="2802.2" y2="2802.2" stroke="#c2ccd7" stroke-width="1.6"/>
<text x="118.6" y="2783.2" font-size="16" text-anchor="middle" fill="#222">14日19时</text>
<text x="229.8" y="2782.2" font-size="16" text-anchor="middle" fill="#222">多云</text>
<use href="#t_duoyun" x="327" y="2761.2" width="30.1" height="31" fill="#000"/>
<text x="453.3" y="2782.2" font-size="16" text-anchor="middle" fill="#222">1</text>
<circle cx="564.4" cy="2776.7" r="23.4" fill="#b1cbfc"/>
<text x="564.4" y="2782.2" font-size="16" text-anchor="middle" fill="#222">−14.1</text>
<text x="676.8" y="2782.2" font-size="16" text-anchor="middle" fill="#222">895.0</text>
<text x="787.9" y="2782.2" font-size="16" text-anchor="middle" fill="#222">61</text>
<text x="899.7" y="2782.2" font-size="16" text-anchor="middle" fill="#222">1.7</text>
<text x="1011.4" y="2782.2" font-size="16" text-anchor="middle" fill="#222">0.0</text>
<line x1="62.4" x2="1068.0" y1="2852.3" y2="2852.3" stroke="#c2ccd7" stroke-width="1.6"/>
<text x="118.6" y="2833.3" font-size="16" text-anchor="middle" fill="#222">14日20时</text>
<text x="229.8" y="2832.3" font-size="16" text-anchor="middle" fill="#222">阴</text>
<use href="#t_yin" x="326.9" y="2814" width="30.5" height="25.4" fill="#000"/>
<text x="453.3" y="2832.3" font-size="16" text-anchor="middle" fill="#222">10</text>
<circle cx="564.4" cy="2826.8" r="23.4" fill="#aec9fc"/>
<text x="564.4" y="2832.3" font-size="16" text-anchor="middle" fill="#222">−14.4</text>
<text x="676.8" y="2832.3" font-size="16" text-anchor="middle" fill="#222">894.5</text>
<text x="787.9" y="2832.3" font-size="16" text-anchor="middle" fill="#222">64</text>
<text x="899.7" y="2832.3" font-size="16" text-anchor="middle" fill="#222">1.7</text>
<text x="1011.4" y="2832.3" font-size="16" text-anchor="middle" fill="#222">0.0</text>
<rect x="62.4" y="2852.3" width="1005.6" height="50.1" fill="#e8f0fa"/>
<line x1="62.4" x2="1068.0" y1="2902.4" y2="2902.4" stroke="#c2ccd7" stroke-width="1.6"/>
<text x="118.6" y="2883.5" font-size="16" text-anchor="middle" fill="#222">15日06时</text>
<text x="229.8" y="2882.5" font-size="16" text-anchor="middle" fill="#222">多云</text>
<use href="#t_duoyun" x="327" y="2861.4" width="30.1" height="31" fill="#000"/>
<text x="453.3" y="2882.5" font-size="16" text-anchor="middle" fill="#222">1</text>
<circle cx="564.4" cy="2876.9" r="23.4" fill="#b6cefa"/>
<text x="564.4" y="2882.5" font-size="16" text-anchor="middle" fill="#222">−13.4</text>
<text x="676.8" y="2882.5" font-size="16" text-anchor="middle" fill="#222">891.1</text>
<text x="787.9" y="2882.5" font-size="16" text-anchor="middle" fill="#222">71</text>
<text x="899.7" y="2882.5" font-size="16" text-anchor="middle" fill="#222">1.0</text>
<text x="1011.4" y="2882.5" font-size="16" text-anchor="middle" fill="#222">0.0</text>
<line x1="62.4" x2="1068.0" y1="2952.5" y2="2952.5" stroke="#c2ccd7" stroke-width="1.6"/>
<text x="118.6" y="2933.6" font-size="16" text-anchor="middle" fill="#222">15日07时</text>
<text x="229.8" y="2932.6" font-size="16" text-anchor="middle" fill="#222">大部晴</text>
<use href="#t_dabuqing" x="326.6" y="2911.5" width="31" height="30.8" fill="#000"/>
<text x="453.3" y="2932.6" font-size="16" text-anchor="middle" fill="#222">1</text>
<circle cx="564.4" cy="2927" r="23.4" fill="#aec9fc"/>
<text x="564.4" y="2932.6" font-size="16" text-anchor="middle" fill="#222">−14.4</text>
<text x="676.8" y="2932.6" font-size="16" text-anchor="middle" fill="#222">891.3</text>
<text x="787.9" y="2932.6" font-size="16" text-anchor="middle" fill="#222">72</text>
<text x="899.7" y="2932.6" font-size="16" text-anchor="middle" fill="#222">0.8</text>
<text x="1011.4" y="2932.6" font-size="16" text-anchor="middle" fill="#222">0.0</text>
<rect x="62.4" y="2952.5" width="1005.6" height="50.1" fill="#e8f0fa"/>
<line x1="62.4" x2="1068.0" y1="3002.6" y2="3002.6" stroke="#c2ccd7" stroke-width="1.6"/>
<text x="118.6" y="2983.7" font-size="16" text-anchor="middle" fill="#222">15日08时</text>
<text x="229.8" y="2982.7" font-size="16" text-anchor="middle" fill="#222">晴</text>
<use href="#t_qing" x="326.6" y="2961.6" width="31" height="31" fill="#000"/>
<text x="453.3" y="2982.7" font-size="16" text-anchor="middle" fill="#222">1</text>
<circle cx="564.4" cy="2977.1" r="23.4" fill="#adc9fd"/>
<text x="564.4" y="2982.7" font-size="16" text-anchor="middle" fill="#222">−14.6</text>
<text x="676.8" y="2982.7" font-size="16" text-anchor="middle" fill="#222">891.8</text>
<text x="787.9" y="2982.7" font-size="16" text-anchor="middle" fill="#222">71</text>
<text x="899.7" y="2982.7" font-size="16" text-anchor="middle" fill="#222">0.7</text>
<text x="1011.4" y="2982.7" font-size="16" text-anchor="middle" fill="#222">0.0</text>
<line x1="62.4" x2="1068.0" y1="3052.7" y2="3052.7" stroke="#c2ccd7" stroke-width="1.6"/>
<text x="118.6" y="3033.8" font-size="16" text-anchor="middle" fill="#222">15日09时</text>
<text x="229.8" y="3032.8" font-size="16" text-anchor="middle" fill="#222">大部晴</text>
<use href="#t_dabuqing" x="326.6" y="3011.7" width="31" height="30.8" fill="#000"/>
<text x="453.3" y="3032.8" font-size="16" text-anchor="middle" fill="#222">2</text>
<circle cx="564.4" cy="3027.2" r="23.4" fill="#b7cff9"/>
<text x="564.4" y="3032.8" font-size="16" text-anchor="middle" fill="#222">−13.3</text>
<text x="676.8" y="3032.8" font-size="16" text-anchor="middle" fill="#222">893.1</text>
<text x="787.9" y="3032.8" font-size="16" text-anchor="middle" fill="#222">68</text>
<text x="899.7" y="3032.8" font-size="16" text-anchor="middle" fill="#222">0.7</text>
<text x="1011.4" y="3032.8" font-size="16" text-anchor="middle" fill="#222">0.0</text>
<rect x="62.4" y="3052.7" width="1005.6" height="50.1" fill="#e8f0fa"/>
<line x1="62.4" x2="1068.0" y1="3102.8" y2="3102.8" stroke="#c2ccd7" stroke-width="1.6"/>
<text x="118.6" y="3083.8" font-size="16" text-anchor="middle" fill="#222">15日11时</text>
<text x="229.8" y="3082.8" font-size="16" text-anchor="middle" fill="#222">多云</text>
<use href="#t_duoyun" x="327" y="3061.8" width="30.1" height="31" fill="#000"/>
<text x="453.3" y="3082.8" font-size="16" text-anchor="middle" fill="#222">1</text>
<circle cx="564.4" cy="3077.2" r="19" fill="#d2dbe8"/>
<text x="564.4" y="3082.8" font-size="16" text-anchor="middle" fill="#222">−9.4</text>
<text x="676.8" y="3082.8" font-size="16" text-anchor="middle" fill="#222">895.9</text>
<text x="787.9" y="3082.8" font-size="16" text-anchor="middle" fill="#222">62</text>
<text x="899.7" y="3082.8" font-size="16" text-anchor="middle" fill="#222">1.0</text>
<text x="1011.4" y="3082.8" font-size="16" text-anchor="middle" fill="#222">0.0</text>
<line x1="62.4" x2="1068.0" y1="3152.9" y2="3152.9" stroke="#c2ccd7" stroke-width="1.6"/>
<text x="118.6" y="3134" font-size="16" text-anchor="middle" fill="#222">15日12时</text>
<text x="229.8" y="3133" font-size="16" text-anchor="middle" fill="#222">大部晴</text>
<use href="#t_dabuqing" x="326.6" y="3111.9" width="31" height="30.8" fill="#000"/>
<text x="453.3" y="3133" font-size="16" text-anchor="middle" fill="#222">1</text>
<circle cx="564.4" cy="3127.4" r="19" fill="#d8dce2"/>
<text x="564.4" y="3133" font-size="16" text-anchor="middle" fill="#222">−8.3</text>
<text x="676.8" y="3133" font-size="16" text-anchor="middle" fill="#222">896.2</text>
<text x="787.9" y="3133" font-size="16" text-anchor="middle" fill="#222">61</text>
<text x="899.7" y="3133" font-size="16" text-anchor="middle" fill="#222">0.7</text>
<text x="1011.4" y="3133" font-size="16" text-anchor="middle" fill="#222">0.0</text>
<rect x="62.4" y="3152.9" width="1005.6" height="50.1" fill="#e8f0fa"/>
<line x1="62.4" x2="1068.0" y1="3203" y2="3203" stroke="#c2ccd7" stroke-width="1.6"/>
<text x="118.6" y="3184.1" font-size="16" text-anchor="middle" fill="#222">15日13时</text>
<text x="229.8" y="3183.1" font-size="16" text-anchor="middle" fill="#222">晴</text>
<use href="#t_qing" x="326.6" y="3162" width="31" height="31" fill="#000"/>
<text x="453.3" y="3183.1" font-size="16" text-anchor="middle" fill="#222">16</text>
<circle cx="564.4" cy="3177.5" r="19" fill="#dcdddd"/>
<text x="564.4" y="3183.1" font-size="16" text-anchor="middle" fill="#222">−7.6</text>
<text x="676.8" y="3183.1" font-size="16" text-anchor="middle" fill="#222">895.9</text>
<text x="787.9" y="3183.1" font-size="16" text-anchor="middle" fill="#222">60</text>
<text x="899.7" y="3183.1" font-size="16" text-anchor="middle" fill="#222">0.3</text>
<text x="1011.4" y="3183.1" font-size="16" text-anchor="middle" fill="#222">0.0</text>
<line x1="62.4" x2="1068.0" y1="3253.1" y2="3253.1" stroke="#c2ccd7" stroke-width="1.6"/>
<text x="118.6" y="3234.2" font-size="16" text-anchor="middle" fill="#222">16日05时</text>
<text x="229.8" y="3233.2" font-size="16" text-anchor="middle" fill="#222">大部晴</text>
<use href="#t_dabuqing" x="326.6" y="3212.1" width="31" height="30.8" fill="#000"/>
<text x="453.3" y="3233.2" font-size="16" text-anchor="middle" fill="#222">2</text>
<circle cx="564.4" cy="3227.6" r="23.4" fill="#9bbcff"/>
<text x="564.4" y="3233.2" font-size="16" text-anchor="middle" fill="#222">−16.9</text>
<text x="676.8" y="3233.2" font-size="16" text-anchor="middle" fill="#222">898.7</text>
<text x="787.9" y="3233.2" font-size="16" text-anchor="middle" fill="#222">75</text>
<text x="899.7" y="3233.2" font-size="16" text-anchor="middle" fill="#222">1.5</text>
<text x="1011.4" y="3233.2" font-size="16" text-anchor="middle" fill="#222">0.0</text>
<rect x="62.4" y="3253.1" width="1005.6" height="50.1" fill="#e8f0fa"/>
<line x1="62.4" x2="1068.0" y1="3303.2" y2="3303.2" stroke="#c2ccd7" stroke-width="1.6"/>
<text x="118.6" y="3284.2" font-size="16" text-anchor="middle" fill="#222">16日07时</text>
<text x="229.8" y="3283.2" font-size="16" text-anchor="middle" fill="#222">多云</text>
<use href="#t_duoyun" x="327" y="3262.2" width="30.1" height="31" fill="#000"/>
<text x="453.3" y="3283.2" font-size="16" text-anchor="middle" fill="#222">4</text>
<circle cx="564.4" cy="3277.7" r="23.4" fill="#9abbff"/>
<text x="564.4" y="3283.2" font-size="16" text-anchor="middle" fill="#222">−17.1</text>
<text x="676.8" y="3283.2" font-size="16" text-anchor="middle" fill="#222">899.3</text>
<text x="787.9" y="3283.2" font-size="16" text-anchor="middle" fill="#222">75</text>
<text x="899.7" y="3283.2" font-size="16" text-anchor="middle" fill="#222">1.2</text>
<text x="1011.4" y="3283.2" font-size="16" text-anchor="middle" fill="#222">0.0</text>
<line x1="62.4" x2="1068.0" y1="3353.3" y2="3353.3" stroke="#c2ccd7" stroke-width="1.6"/>
<text x="118.6" y="3334.3" font-size="16" text-anchor="middle" fill="#222">16日11时</text>
<text x="229.8" y="3333.3" font-size="16" text-anchor="middle" fill="#222">阴</text>
<use href="#t_yin" x="326.9" y="3315" width="30.5" height="25.4" fill="#000"/>
<text x="453.3" y="3333.3" font-size="16" text-anchor="middle" fill="#222">4</text>
<circle cx="564.4" cy="3327.8" r="23.4" fill="#c5d6f2"/>
<text x="564.4" y="3333.3" font-size="16" text-anchor="middle" fill="#222">−11.3</text>
<text x="676.8" y="3333.3" font-size="16" text-anchor="middle" fill="#222">901.7</text>
<text x="787.9" y="3333.3" font-size="16" text-anchor="middle" fill="#222">65</text>
<text x="899.7" y="3333.3" font-size="16" text-anchor="middle" fill="#222">0.2</text>
<text x="1011.4" y="3333.3" font-size="16" text-anchor="middle" fill="#222">0.0</text>
<rect x="62.4" y="3353.3" width="1005.6" height="50.1" fill="#e8f0fa"/>
<line x1="62.4" x2="1068.0" y1="3403.4" y2="3403.4" stroke="#c2ccd7" stroke-width="1.6"/>
<text x="118.6" y="3384.5" font-size="16" text-anchor="middle" fill="#222">16日15时</text>
<text x="229.8" y="3383.5" font-size="16" text-anchor="middle" fill="#222">多云</text>
<use href="#t_duoyun" x="327" y="3362.4" width="30.1" height="31" fill="#000"/>
<text x="453.3" y="3383.5" font-size="16" text-anchor="middle" fill="#222">2</text>
<circle cx="564.4" cy="3377.9" r="19" fill="#e2dad5"/>
<text x="564.4" y="3383.5" font-size="16" text-anchor="middle" fill="#222">−6.6</text>
<text x="676.8" y="3383.5" font-size="16" text-anchor="middle" fill="#222">903.3</text>
<text x="787.9" y="3383.5" font-size="16" text-anchor="middle" fill="#222">57</text>
<text x="899.7" y="3383.5" font-size="16" text-anchor="middle" fill="#222">0.4</text>
<text x="1011.4" y="3383.5" font-size="16" text-anchor="middle" fill="#222">0.0</text>
<line x1="62.4" x2="1068.0" y1="3453.5" y2="3453.5" stroke="#c2ccd7" stroke-width="1.6"/>
<text x="118.6" y="3434.5" font-size="16" text-anchor="middle" fill="#222">16日17时</text>
<text x="229.8" y="3433.5" font-size="16" text-anchor="middle" fill="#222">大部晴</text>
<use href="#t_dabuqing" x="326.6" y="3412.5" width="31" height="30.8" fill="#000"/>
<text x="453.3" y="3433.5" font-size="16" text-anchor="middle" fill="#222">2</text>
<circle cx="564.4" cy="3427.9" r="19" fill="#d7dce3"/>
<text x="564.4" y="3433.5" font-size="16" text-anchor="middle" fill="#222">−8.4</text>
<text x="676.8" y="3433.5" font-size="16" text-anchor="middle" fill="#222">903.0</text>
<text x="787.9" y="3433.5" font-size="16" text-anchor="middle" fill="#222">58</text>
<text x="899.7" y="3433.5" font-size="16" text-anchor="middle" fill="#222">0.2</text>
<text x="1011.4" y="3433.5" font-size="16" text-anchor="middle" fill="#222">0.0</text>
<rect x="62.4" y="3453.5" width="1005.6" height="50.1" fill="#e8f0fa"/>
<text x="118.6" y="3484.7" font-size="16" text-anchor="middle" fill="#222">16日19时</text>
<text x="229.8" y="3483.7" font-size="16" text-anchor="middle" fill="#222">晴</text>
<use href="#t_qing" x="326.6" y="3462.6" width="31" height="31" fill="#000"/>
<text x="453.3" y="3483.7" font-size="16" text-anchor="middle" fill="#222">1</text>
<circle cx="564.4" cy="3478.1" r="23.4" fill="#c9d7f0"/>
<text x="564.4" y="3483.7" font-size="16" text-anchor="middle" fill="#222">−10.7</text>
<text x="676.8" y="3483.7" font-size="16" text-anchor="middle" fill="#222">902.4</text>
<text x="787.9" y="3483.7" font-size="16" text-anchor="middle" fill="#222">60</text>
<text x="899.7" y="3483.7" font-size="16" text-anchor="middle" fill="#222">0.8</text>
<text x="1011.4" y="3483.7" font-size="16" text-anchor="middle" fill="#222">0.0</text>
<line x1="62.4" x2="1068.0" y1="1348.4" y2="1348.4" stroke="#222" stroke-width="1.8"/>
</g>
<g id="map">
<clipPath id="mc"><rect x="1280.2" y="1297.3" width="2210.3" height="2209.5"/></clipPath>
<rect x="1280.2" y="1297.3" width="2210.3" height="2209.5" fill="#e8f0fa"/>
<g clip-path="url(#mc)">
<polygon points="1280.2,1968.1 1329.8,1971.1 1344.8,1968.1 1353.8,1962.7 1371.7,1962.1 1413.6,1954.9 1419.6,1956.1 1430.4,1961.5 1449.5,1961.5 1476.4,1960.3 1494.4,1960.3 1542.2,1968.1 1568,1967.5 1576.3,1969.9 1581.7,1973.5 1623,1957.3 1632,1955.5 1703.8,1962.1 1709.8,1960.9 1757.6,1956.7 1763.6,1953.1 1774.4,1952.5 1811.5,1928.6 1826.5,1922.6 1874.3,1907.1 1928.2,1904.7 1938.9,1895.1 1994,1878.3 2019.7,1867.6 2029.9,1850.8 2047.8,1839.4 2074.8,1824.5 2089.7,1800.6 2090.9,1795.8 2103.5,1781.4 2112.5,1779 2128.6,1762.9 2179.5,1715.6 2194.4,1708.4 2217.2,1702.4 2227.3,1697 2251.3,1691.1 2273.4,1686.3 2287.2,1675.5 2302.1,1670.1 2317.1,1671.3 2332,1670.7 2344,1662.9 2353,1655.8 2394.9,1621.1 2421.9,1619.9 2438,1615.1 2443.4,1597.1 2441.6,1579.2 2418.9,1549.3 2409.8,1541.5 2391.9,1527.1 2382.9,1525.3 2369.7,1519.3 2359,1511.6 2344,1496.6 2341,1491.2 2333.8,1486.4 2329.1,1480.4 2324.3,1468.5 2322.5,1455.3 2317.1,1449.3 2311.1,1445.7 2294.4,1441.6 2290.8,1430.8 2294.4,1422.4 2308.1,1396.1 2318.9,1389.5 2323.1,1377.5 2332.6,1370.9 2330.9,1351.8 2341,1329.7 2345.2,1320.7 2362,1297.4 1280.2,1297" fill="#efeedc"/>
<polyline points="1280.2,1968.1 1329.8,1971.1 1344.8,1968.1 1353.8,1962.7 1371.7,1962.1 1413.6,1954.9 1419.6,1956.1 1430.4,1961.5 1449.5,1961.5 1476.4,1960.3 1494.4,1960.3 1542.2,1968.1 1568,1967.5 1576.3,1969.9 1581.7,1973.5 1623,1957.3 1632,1955.5 1703.8,1962.1 1709.8,1960.9 1757.6,1956.7 1763.6,1953.1 1774.4,1952.5 1811.5,1928.6 1826.5,1922.6 1874.3,1907.1 1928.2,1904.7 1938.9,1895.1 1994,1878.3 2019.7,1867.6 2029.9,1850.8 2047.8,1839.4 2074.8,1824.5 2089.7,1800.6 2090.9,1795.8 2103.5,1781.4 2112.5,1779 2128.6,1762.9 2179.5,1715.6 2194.4,1708.4 2217.2,1702.4 2227.3,1697 2251.3,1691.1 2273.4,1686.3 2287.2,1675.5 2302.1,1670.1 2317.1,1671.3 2332,1670.7 2344,1662.9 2353,1655.8 2394.9,1621.1 2421.9,1619.9 2438,1615.1 2443.4,1597.1 2441.6,1579.2 2418.9,1549.3 2409.8,1541.5 2391.9,1527.1 2382.9,1525.3 2369.7,1519.3 2359,1511.6 2344,1496.6 2341,1491.2 2333.8,1486.4 2329.1,1480.4 2324.3,1468.5 2322.5,1455.3 2317.1,1449.3 2311.1,1445.7 2294.4,1441.6 2290.8,1430.8 2294.4,1422.4 2308.1,1396.1 2318.9,1389.5 2323.1,1377.5 2332.6,1370.9 2330.9,1351.8 2341,1329.7 2345.2,1320.7 2362,1297.4" fill="none" stroke="#6a4116" stroke-width="1.3"/>
<polygon points="2686.3,1297.4 2706.1,1298 2733,1302.7 2762.9,1309.9 2867.6,1314.7 2876.6,1320.1 2902.3,1324.3 2921.5,1312.9 2945.4,1297.4" fill="#efeedc" stroke="#6a4116" stroke-width="1.3"/>
<polyline points="1280.2,2402.5 1311.9,2395.3 1368.7,2392.9 1401.6,2395.9 1411.8,2404.9 1429.8,2409.7 1455.5,2409.1 1479.4,2419.8 1480.6,2419.5 1503.4,2441 1530.3,2459 1562,2475.7 1593.1,2483.5 1623,2481.7 1661.9,2486.5 1711,2498.5 1748.7,2499.1 1778.6,2488.3 1800.1,2487.7 1814.5,2497.9 1856.4,2498.5 1924,2489.5 1985,2500.9 2041.9,2531.4 2089.7,2551.7 2125.6,2558.9 2155.5,2560.7 2177.1,2555.3 2212.4,2569.1 2263.2,2604.4 2290.2,2631.3 2295.5,2650.4 2292,2673.2 2282.4,2692.3 2284.2,2712.1 2297.9,2730 2296.7,2751 2281.2,2777.9 2251.3,2794 2224.3,2798.8 2221.4,2806 2231.5,2825.8 2231.5,2852.7 2221.4,2876.6 2191.4,2903.5 2175.3,2918.5 2174.7,2954.4 2155.5,2990.3 2147.2,3014.2 2147.2,3033.4 2107.7,3074.1 2068.8,3111.2 2047.8,3139.9 2040.7,3157.8 2043.6,3193.7 2062.8,3218.9 2083.7,3241.6 2104.7,3265.5 2114.9,3289.5 2116.6,3313.4 2104.7,3334.3 2079,3361.3 2082.5,3391.2 2065.8,3415.1 2041.9,3439.1 2014.9,3463 2008.9,3492.9 2010.7,3507.3" fill="none" stroke="#9fbfe6" stroke-width="1.4"/>
<polyline points="1280.2,3229.6 1296.9,3232.6 1317.9,3239.8 1341.8,3245.2 1344.8,3256.6 1350.8,3262.5 1353.8,3282.3 1380.7,3287.7 1386.7,3291.3 1398.6,3287.7 1407.6,3279.9 1428.6,3280.5 1437.5,3288.3 1464.5,3284.7 1482.4,3275.7 1496.2,3272.1 1518.3,3282.3 1536.3,3277.5 1557.2,3276.3 1566.2,3271.5 1564.4,3253.6 1569.2,3241.6 1567.4,3202.7 1576.9,3187.8 1569.2,3174 1578.1,3173.4 1590.1,3181.8 1599.1,3199.7 1608.1,3208.7 1617,3205.7 1618.2,3198.5 1627.8,3196.7 1635,3181.8 1644,3177 1639.8,3169.8 1642.2,3160.8 1623,3148.9 1608.1,3135.1 1608.1,3127.9 1617,3121.9 1614,3113 1626,3089 1638,3080.1 1641,3068.1 1664.9,3050.1 1676.9,3035.2 1700.8,3014.2 1714.6,3021.4 1724.7,3011.2 1715.8,3002.3 1717.6,2993.3 1736.7,2987.3 1745.7,2972.4 1766.6,2957.4 1775.6,2963.4 1796.5,2951.4 1811.5,2927.5 1813.3,2915.5 1808.5,2911.3 1820.5,2906.5 1844.4,2885.6 1868.3,2873.6 1877.3,2880.8 1871.3,2870.6 1889.3,2856.9 1874.3,2843.7 1865.3,2841.9 1871.3,2835.9 1886.3,2846.7 1898.3,2852.7 1922.2,2846.7 1959.9,2832.9 1955.1,2819.8 1949.1,2804.8 1937.1,2798.8 1935.9,2786.9 1943.1,2785.1 1958.1,2791.1 1970.1,2792.9 1976,2798.8 1997,2816.8 2007.2,2824.6 2017.9,2816.8 2014.9,2810.8 2023.9,2806.6 2041.9,2807.8 2047.8,2804.8 2055,2810.8 2056.8,2822.8 2065.8,2831.7 2074.8,2836.5 2092.7,2834.7 2101.7,2825.8 2107.7,2813.8 2125.6,2792.9 2143.6,2771.9 2167.5,2762.9 2182.5,2757 2185.5,2754 2191.4,2758.1 2212.4,2751 2218.4,2757 2216.6,2765.9 2203.4,2771.9 2200.4,2783.9 2194.4,2786.9 2194.4,2795.8 2200.4,2798.8 2203.4,2807.8 2215.4,2810.8 2224.3,2816.8 2230.3,2825.8 2244.1,2827.6 2236.3,2837.7 2233.3,2852.7 2221.4,2873.6 2212.4,2891.6 2197.4,2903.5 2179.5,2909.5 2171.7,2918.5 2178.3,2930.5 2179.5,2948.4 2172.3,2969.4 2163.3,2975.3 2155.5,2990.3 2144.8,3008.3 2152.5,3029.2 2140.6,3044.2 2142.4,3059.1 2134.6,3065.1 2116.6,3062.1 2107.7,3077.1 2089.7,3092 2071.8,3101 2059.8,3104 2055.6,3121.9 2041.9,3130.9 2041.9,3148.9 2037.7,3160.8 2041.9,3175.8 2041.9,3196.7 2053.8,3205.7 2065.8,3214.7 2074.8,3229.6 2089.7,3244.6 2107.7,3253.6 2098.7,3265.5 2113.7,3277.5 2119.6,3280.5 2111.9,3289.5 2114.9,3304.4 2107.7,3331.4 2104.7,3339.1 2079,3343.3 2074.8,3361.3 2092.7,3370.2 2086.7,3382.2 2079,3391.2 2074.8,3403.2 2050.8,3427.1 2044.8,3439.1 2020.9,3457 2004.8,3457 2006,3463 2017.9,3466 2011.9,3477.9 2014.9,3486.9 2004.8,3495.9 2016.7,3498.9 2014.9,3507.3" fill="none" stroke="#111" stroke-width="1.1" stroke-linejoin="round"/>
<polyline points="2211.2,2807.8 2209.4,2798.8 2221.4,2792.9 2251.3,2794 2275.2,2789.9 2281.2,2774.9 2294.4,2768.9 2296.1,2745 2303.9,2742 2296.7,2736 2299.1,2733 2317.1,2727 2347,2733 2370.9,2737.8 2388.9,2746.2 2406.8,2740.2 2430.9,2742 2435.6,2736 2432.7,2727 2442.8,2718.1 2444.6,2691.1 2454.8,2682.2 2472.7,2655.2 2490.7,2631.3 2514.6,2598.4 2517.6,2586.4 2534.4,2574.5 2538.6,2564.3 2559.5,2554.7 2580.4,2551.7 2586.4,2556.5 2604.4,2562.5 2655.2,2588.2 2685.2,2580.4 2691.1,2565.5 2698.9,2544.5 2739,2532.6 2798.8,2521.8 2801.8,2529.6 2809.6,2535.6 2816.8,2546.3 2846.7,2542.7 2885.6,2536.8 2906.5,2517.6 2945.4,2499.7 2948.4,2491.9 2963.4,2507.4 2984.3,2496.7 2990.3,2492.5 3023.2,2487.7 3027.4,2478.7 3017.2,2469.8 3023.2,2436.8 3044.2,2430.9 3062.1,2456.6 3080.1,2469.8 3086,2487.7 3077.1,2499.7 3084.8,2517.6 3095,2532.6 3113,2534.4 3130.9,2529.6 3135.7,2537.4 3148.9,2538.6 3150.7,2544.5 3139.9,2554.7 3118.9,2565.5 3092,2571.5 3074.1,2572.7 3068.1,2580.4 3044.2,2586.4 3026.2,2584.6 3023.2,2595.4 3032.2,2607.4 3026.2,2615.1 3013,2616.3 3007.1,2606.2 2999.3,2604.4 2996.3,2619.3 2981.3,2628.3 2984.3,2631.3 3008.3,2636.1 3012.4,2638.5 3014.2,2654 3023.2,2658.2 3059.1,2662.4 3063.9,2658.2 3066.9,2666 3059.1,2667.2 3068.1,2673.2 3113,2671.4 3116,2691.1 3120.1,2694.1 3117.2,2703.1 3117.2,2727 3124.9,2740.8 3142.9,2743.8 3147.7,2752.2 3160.8,2751 3157.8,2762.9 3145.9,2777.9 3139.9,2795.8 3135.7,2801.8 3135.1,2813.8 3124.9,2822.8 3123.7,2837.7 3120.7,2843.7 3135.1,2852.7 3130.9,2858.7 3111.2,2863.5 3105.2,2881.4 3098,2889.8 3077.1,2891.6 3056.1,2897.6 3037,2895.8 3023.2,2883.8 3017.2,2873.6 3005.3,2876.6 2987.3,2885.6 2975.3,2893.4 2969.4,2900.6 2954.4,2909.5 2942.4,2915.5 2941.2,2933.5 2945.4,2948.4 2963.4,2957.4 2965.2,2961.6 2959.2,2969.4 2957.4,2984.3 2939.4,2993.3 2925.7,2991.5 2923.3,3005.3 2899.4,3008.3 2895.8,3026.2 2882.6,3035.2 2881.4,3050.1 2890.4,3062.1 2875.4,3077.1 2873.6,3083 2882.6,3092 2879.6,3107 2887.4,3117.2 2918.5,3124.9 2925.7,3135.1 2936.5,3139.9 2957.4,3141.7 2956.2,3157.8 2969.4,3169.8 2971.2,3184.8 2984.3,3194.9 2996.3,3211.7 2997.5,3229.6 3008.3,3241.6 3014.2,3250.6 3005.3,3259.6 3008.3,3265.5 3035.2,3269.7 3043,3275.7 3038.2,3295.5 3026.2,3319.4 3011.2,3337.3 3002.3,3344.5 2996.3,3367.3 2981.3,3385.2 2972.4,3409.1 2960.4,3418.1 2957.4,3433.1 2942.4,3439.1 2939.4,3451 2947.2,3463 2939.4,3475 2945.4,3489.9 2930.5,3495.9 2921.5,3494.1 2914.3,3507.3" fill="none" stroke="#111" stroke-width="1.1" stroke-linejoin="round"/>
<polyline points="3489.9,2112.9 3483.9,2111.7 3479.7,2117.7 3469,2119.5 3461.8,2128.4 3451,2132.6 3439.1,2136.8 3424.1,2146.4 3397.2,2156.6 3373.2,2162.5 3370.2,2168.5 3378,2175.7 3376.2,2181.7 3385.2,2192.5 3367.3,2195.5 3361.3,2186.5 3355.3,2189.5 3354.1,2198.4 3337.3,2200.8 3335.5,2194.3 3316.4,2188.3 3307.4,2186.5 3301.4,2191.3 3283.5,2188.9 3253.6,2190.1 3244.6,2195.5 3241.6,2189.5 3253.6,2177.5 3254.8,2159.6 3250.6,2144.6 3244.6,2135.6 3256.6,2129.6 3263.7,2123.7 3259.6,2105.7 3261.3,2084.8 3254.8,2078.8 3247.6,2072.8 3241.6,2054.8 3234.4,2041.7 3223.7,2041.1 3220.7,2045.9 3199.7,2050.7 3181.8,2051.9 3160.8,2044.7 3145.9,2051.9 3139.9,2066.8 3132.7,2072.8 3138.7,2084.8 3145.9,2087.8 3139.9,2093.7 3121.9,2098.5 3107,2094.9 3095,2102.7 3077.1,2123.7 3059.1,2141.6 3062.1,2156.6 3071.1,2165.5 3065.1,2171.5 3075.3,2186.5 3068.1,2189.5 3068.1,2217.6 3038.2,2210.4 3014.2,2212.2 2984.3,2225.4 2981.3,2234.3 2969.4,2243.3 2987.3,2249.3 2984.3,2261.3 2977.1,2270.2 2990.3,2282.2 2993.3,2291.2 3002.3,2285.2 3008.3,2294.2 3002.3,2306.1 2978.3,2312.1 2969.4,2324.1 2963.4,2330.1 2954.4,2331.3 2969.4,2339.1 2984.3,2354 3002.3,2373.8 3017.2,2377.9 3020.2,2392.9 3017.2,2398.9 3026.2,2410.9 3032.2,2419.8 3033.4,2424.9 3044.2,2430.9" fill="none" stroke="#111" stroke-width="1.1" stroke-linejoin="round"/>
<polyline points="3490.5,2590.6 3483.9,2595.4 3451,2604.4 3436.1,2609.2 3421.1,2619.3 3406.1,2628.3 3397.2,2638.5 3400.2,2649.3 3421.1,2658.2 3424.1,2670.2 3421.1,2679.2 3437.9,2686.3 3430.1,2692.3 3409.1,2694.1 3399,2698.9 3406.1,2706.1 3415.1,2709.1 3413.3,2730 3424.1,2736 3425.9,2743.8 3451,2746.2 3466,2743.2 3475,2754 3483.9,2758.7 3490.5,2768.9" fill="none" stroke="#111" stroke-width="1.1" stroke-linejoin="round"/>
<polyline points="3490.5,2484.7 3485.7,2493.7 3488.1,2497.9 3490.5,2499.7" fill="none" stroke="#111" stroke-width="1.1" stroke-linejoin="round"/>
<polyline points="3490.5,3489.9 3477.9,3495.9 3472,3507.3" fill="none" stroke="#111" stroke-width="1.1" stroke-linejoin="round"/>
<path d="M1349.6,1297.3V3506.8M1625.8,1297.3V3506.8M1902.1,1297.3V3506.8M2178.3,1297.3V3506.8M2454.6,1297.3V3506.8M2730.8,1297.3V3506.8M3007,1297.3V3506.8M3283.3,1297.3V3506.8M1280.2,3463H3490.5M1280.2,3186.9H3490.5M1280.2,2910.8H3490.5M1280.2,2634.7H3490.5M1280.2,2358.6H3490.5M1280.2,2082.5H3490.5M1280.2,1806.4H3490.5M1280.2,1530.3H3490.5" stroke="#a8adb3" stroke-width="1" stroke-dasharray="5 3" fill="none"/>
</g>
<rect x="1280.2" y="1297.3" width="2210.3" height="2209.5" fill="none" stroke="#000" stroke-width="1.1"/>
<text x="1349.6" y="1289.4" font-size="13.3" text-anchor="middle" fill="#000" xml:space="preserve"><tspan font-family="'Liberation Mono', monospace" font-size="11.1">108° E</tspan></text>
<text x="1349.6" y="3525.5" font-size="13.3" text-anchor="middle" fill="#000" xml:space="preserve"><tspan font-family="'Liberation Mono', monospace" font-size="11.1">108° E</tspan></text>
<text x="1625.8" y="1289.4" font-size="13.3" text-anchor="middle" fill="#000" xml:space="preserve"><tspan font-family="'Liberation Mono', monospace" font-size="11.1">109° E</tspan></text>
<text x="1625.8" y="3525.5" font-size="13.3" text-anchor="middle" fill="#000" xml:space="preserve"><tspan font-family="'Liberation Mono', monospace" font-size="11.1">109° E</tspan></text>
<text x="1902.1" y="1289.4" font-size="13.3" text-anchor="middle" fill="#000" xml:space="preserve"><tspan font-family="'Liberation Mono', monospace" font-size="11.1">110° E</tspan></text>
<text x="1902.1" y="3525.5" font-size="13.3" text-anchor="middle" fill="#000" xml:space="preserve"><tspan font-family="'Liberation Mono', monospace" font-size="11.1">110° E</tspan></text>
<text x="2178.3" y="1289.4" font-size="13.3" text-anchor="middle" fill="#000" xml:space="preserve"><tspan font-family="'Liberation Mono', monospace" font-size="11.1">111° E</tspan></text>
<text x="2178.3" y="3525.5" font-size="13.3" text-anchor="middle" fill="#000" xml:space="preserve"><tspan font-family="'Liberation Mono', monospace" font-size="11.1">111° E</tspan></text>
<text x="2454.6" y="1289.4" font-size="13.3" text-anchor="middle" fill="#000" xml:space="preserve"><tspan font-family="'Liberation Mono', monospace" font-size="11.1">112° E</tspan></text>
<text x="2454.6" y="3525.5" font-size="13.3" text-anchor="middle" fill="#000" xml:space="preserve"><tspan font-family="'Liberation Mono', monospace" font-size="11.1">112° E</tspan></text>
<text x="2730.8" y="1289.4" font-size="13.3" text-anchor="middle" fill="#000" xml:space="preserve"><tspan font-family="'Liberation Mono', monospace" font-size="11.1">113° E</tspan></text>
<text x="2730.8" y="3525.5" font-size="13.3" text-anchor="middle" fill="#000" xml:space="preserve"><tspan font-family="'Liberation Mono', monospace" font-size="11.1">113° E</tspan></text>
<text x="3007" y="1289.4" font-size="13.3" text-anchor="middle" fill="#000" xml:space="preserve"><tspan font-family="'Liberation Mono', monospace" font-size="11.1">114° E</tspan></text>
<text x="3007" y="3525.5" font-size="13.3" text-anchor="middle" fill="#000" xml:space="preserve"><tspan font-family="'Liberation Mono', monospace" font-size="11.1">114° E</tspan></text>
<text x="3283.3" y="1289.4" font-size="13.3" text-anchor="middle" fill="#000" xml:space="preserve"><tspan font-family="'Liberation Mono', monospace" font-size="11.1">115° E</tspan></text>
<text x="3283.3" y="3525.5" font-size="13.3" text-anchor="middle" fill="#000" xml:space="preserve"><tspan font-family="'Liberation Mono', monospace" font-size="11.1">115° E</tspan></text>
<text x="1255.2" y="3467.7" font-size="13.3" text-anchor="middle" fill="#000" xml:space="preserve"><tspan font-family="'Liberation Mono', monospace" font-size="11.1">37° N</tspan></text>
<text x="3513.8" y="3467.7" font-size="13.3" text-anchor="middle" fill="#000" xml:space="preserve"><tspan font-family="'Liberation Mono', monospace" font-size="11.1">37° N</tspan></text>
<text x="1255.2" y="3191.6" font-size="13.3" text-anchor="middle" fill="#000" xml:space="preserve"><tspan font-family="'Liberation Mono', monospace" font-size="11.1">38° N</tspan></text>
<text x="3513.8" y="3191.6" font-size="13.3" text-anchor="middle" fill="#000" xml:space="preserve"><tspan font-family="'Liberation Mono', monospace" font-size="11.1">38° N</tspan></text>
<text x="1255.2" y="2915.5" font-size="13.3" text-anchor="middle" fill="#000" xml:space="preserve"><tspan font-family="'Liberation Mono', monospace" font-size="11.1">39° N</tspan></text>
<text x="3513.8" y="2915.5" font-size="13.3" text-anchor="middle" fill="#000" xml:space="preserve"><tspan font-family="'Liberation Mono', monospace" font-size="11.1">39° N</tspan></text>
<text x="1255.2" y="2639.4" font-size="13.3" text-anchor="middle" fill="#000" xml:space="preserve"><tspan font-family="'Liberation Mono', monospace" font-size="11.1">40° N</tspan></text>
<text x="3513.8" y="2639.4" font-size="13.3" text-anchor="middle" fill="#000" xml:space="preserve"><tspan font-family="'Liberation Mono', monospace" font-size="11.1">40° N</tspan></text>
<text x="1255.2" y="2363.3" font-size="13.3" text-anchor="middle" fill="#000" xml:space="preserve"><tspan font-family="'Liberation Mono', monospace" font-size="11.1">41° N</tspan></text>
<text x="3513.8" y="2363.3" font-size="13.3" text-anchor="middle" fill="#000" xml:space="preserve"><tspan font-family="'Liberation Mono', monospace" font-size="11.1">41° N</tspan></text>
<text x="1255.2" y="2087.2" font-size="13.3" text-anchor="middle" fill="#000" xml:space="preserve"><tspan font-family="'Liberation Mono', monospace" font-size="11.1">42° N</tspan></text>
<text x="3513.8" y="2087.2" font-size="13.3" text-anchor="middle" fill="#000" xml:space="preserve"><tspan font-family="'Liberation Mono', monospace" font-size="11.1">42° N</tspan></text>
<text x="1255.2" y="1811.1" font-size="13.3" text-anchor="middle" fill="#000" xml:space="preserve"><tspan font-family="'Liberation Mono', monospace" font-size="11.1">43° N</tspan></text>
<text x="3513.8" y="1811.1" font-size="13.3" text-anchor="middle" fill="#000" xml:space="preserve"><tspan font-family="'Liberation Mono', monospace" font-size="11.1">43° N</tspan></text>
<text x="1255.2" y="1535" font-size="13.3" text-anchor="middle" fill="#000" xml:space="preserve"><tspan font-family="'Liberation Mono', monospace" font-size="11.1">44° N</tspan></text>
<text x="3513.8" y="1535" font-size="13.3" text-anchor="middle" fill="#000" xml:space="preserve"><tspan font-family="'Liberation Mono', monospace" font-size="11.1">44° N</tspan></text>
<text x="1281.2" y="1309.3" font-size="13.6" text-anchor="start" fill="#222" xml:space="preserve">起报时间：<tspan font-family="'Liberation Mono', monospace" font-size="11.3">2025-12-10 00:00:00 </tspan>预报时效：<tspan font-family="'Liberation Mono', monospace" font-size="11.3">2025-12-10 00:00:00</tspan>至<tspan font-family="'Liberation Mono', monospace" font-size="11.3">2025-12-11 00:00:00 </tspan>预报模式：<tspan font-family="'Liberation Mono', monospace" font-size="11.3">ecmwf</tspan></text>
<text x="1281.2" y="3504.8" font-size="13.6" text-anchor="start" fill="#222" xml:space="preserve"><tspan font-family="'Liberation Mono', monospace" font-size="11.3">Source: HT Meteo, Link: cornicelli.net</tspan></text>
<use href="#b_yin" x="1814.1" y="2357.2" width="84.5" height="70.4" fill="#236dc6"/>
<text x="1856.8" y="2449.3" font-size="26.7" text-anchor="middle" fill="#4a1212">包头市</text>
<text x="1856.8" y="2475.3" font-size="26.7" text-anchor="middle" fill="#4a1212">阴 −6～4℃</text>
<use href="#b_yin" x="2341.1" y="2304.7" width="84.5" height="70.4" fill="#236dc6"/>
<text x="2383.8" y="2396.9" font-size="26.7" text-anchor="middle" fill="#4a1212">呼和浩特市</text>
<text x="2383.8" y="2422.9" font-size="26.7" text-anchor="middle" fill="#4a1212">阴 −8～0℃</text>
<use href="#b_xue" x="2723.2" y="2247.9" width="84.5" height="81.4" fill="#236dc6"/>
<text x="2765.9" y="2355.7" font-size="26.7" text-anchor="middle" fill="#4a1212">乌兰察布市</text>
<text x="2765.9" y="2381.7" font-size="26.7" text-anchor="middle" fill="#4a1212">小雪 −8～2℃</text>
<use href="#b_yin" x="3207.7" y="2311" width="84.5" height="70.4" fill="#236dc6"/>
<text x="3250.4" y="2403.1" font-size="26.7" text-anchor="middle" fill="#4a1212">张家口市</text>
<text x="3250.4" y="2429.1" font-size="26.7" text-anchor="middle" fill="#4a1212">阴 −5～5℃</text>
<use href="#b_yin" x="2769.4" y="2517" width="84.5" height="70.4" fill="#236dc6"/>
<text x="2812.1" y="2609.2" font-size="26.7" text-anchor="middle" fill="#4a1212">大同市</text>
<text x="2812.1" y="2635.2" font-size="26.7" text-anchor="middle" fill="#4a1212">阴 −5～6℃</text>
<use href="#b_yin" x="1797.9" y="2646.9" width="84.5" height="70.4" fill="#236dc6"/>
<text x="1840.6" y="2739" font-size="26.7" text-anchor="middle" fill="#4a1212">鄂尔多斯市</text>
<text x="1840.6" y="2765" font-size="26.7" text-anchor="middle" fill="#4a1212">阴 −5～4℃</text>
<use href="#b_duoyun" x="2531.2" y="2708.3" width="82.7" height="85.1" fill="#236dc6"/>
<text x="2572.4" y="2814" font-size="26.7" text-anchor="middle" fill="#4a1212">朔州市</text>
<text x="2572.4" y="2840" font-size="26.7" text-anchor="middle" fill="#4a1212">多云 −4～8℃</text>
<use href="#b_duoyun" x="1786.9" y="2999.3" width="82.7" height="85.1" fill="#236dc6"/>
<text x="1828.1" y="3104.9" font-size="26.7" text-anchor="middle" fill="#4a1212">榆林市</text>
<text x="1828.1" y="3130.9" font-size="26.7" text-anchor="middle" fill="#4a1212">多云 −4～7℃</text>
<use href="#b_duoyun" x="2614.8" y="2961.8" width="82.7" height="85.1" fill="#236dc6"/>
<text x="2656" y="3067.4" font-size="26.7" text-anchor="middle" fill="#4a1212">忻州市</text>
<text x="2656" y="3093.4" font-size="26.7" text-anchor="middle" fill="#4a1212">多云 −5～9℃</text>
<use href="#b_duoyun" x="2562.4" y="3112.9" width="82.7" height="85.1" fill="#236dc6"/>
<text x="2603.6" y="3218.5" font-size="26.7" text-anchor="middle" fill="#4a1212">太原市</text>
<text x="2603.6" y="3244.5" font-size="26.7" text-anchor="middle" fill="#4a1212">多云 0～9℃</text>
<use href="#b_duoyun" x="2619.8" y="3162.9" width="82.7" height="85.1" fill="#236dc6"/>
<text x="2661" y="3268.5" font-size="26.7" text-anchor="middle" fill="#4a1212">晋中市</text>
<text x="2661" y="3294.5" font-size="26.7" text-anchor="middle" fill="#4a1212">多云 0～10℃</text>
<use href="#b_yin" x="2846.8" y="3131.4" width="84.5" height="70.4" fill="#236dc6"/>
<text x="2889.6" y="3223.5" font-size="26.7" text-anchor="middle" fill="#4a1212">阳泉市</text>
<text x="2889.6" y="3249.5" font-size="26.7" text-anchor="middle" fill="#4a1212">阴 0～12℃</text>
<use href="#b_yin" x="3105.3" y="3080.2" width="84.5" height="70.4" fill="#236dc6"/>
<text x="3148.1" y="3172.3" font-size="26.7" text-anchor="middle" fill="#4a1212">石家庄市</text>
<text x="3148.1" y="3198.3" font-size="26.7" text-anchor="middle" fill="#4a1212">阴 −2～8℃</text>
<use href="#b_duoyun" x="2176.5" y="3211.6" width="82.7" height="85.1" fill="#236dc6"/>
<text x="2217.7" y="3317.2" font-size="26.7" text-anchor="middle" fill="#4a1212">吕梁市</text>
<text x="2217.7" y="3343.2" font-size="26.7" text-anchor="middle" fill="#4a1212">多云 −1～8℃</text>
<text x="2381" y="1229.3" font-size="41" text-anchor="middle" fill="#000">呼和浩特市周边区域12月10日主要天气（未来24小时）</text>
</g>
<g id="windrose">
<rect x="3699.5" y="1296.8" width="1010.9" height="1004.4" fill="#fff" stroke="#000" stroke-width="1.1"/>
<text x="3699.5" y="2322.9" font-size="13.3" text-anchor="middle" fill="#000">0.0</text>
<text x="3689.5" y="2305.9" font-size="13.3" text-anchor="end" fill="#000">0.0</text>
<text x="3901.7" y="2322.9" font-size="13.3" text-anchor="middle" fill="#000">0.2</text>
<text x="3689.5" y="2105" font-size="13.3" text-anchor="end" fill="#000">0.2</text>
<text x="4103.9" y="2322.9" font-size="13.3" text-anchor="middle" fill="#000">0.4</text>
<text x="3689.5" y="1904.1" font-size="13.3" text-anchor="end" fill="#000">0.4</text>
<text x="4306" y="2322.9" font-size="13.3" text-anchor="middle" fill="#000">0.6</text>
<text x="3689.5" y="1703.2" font-size="13.3" text-anchor="end" fill="#000">0.6</text>
<text x="4508.2" y="2322.9" font-size="13.3" text-anchor="middle" fill="#000">0.8</text>
<text x="3689.5" y="1502.3" font-size="13.3" text-anchor="end" fill="#000">0.8</text>
<text x="4710.4" y="2322.9" font-size="13.3" text-anchor="middle" fill="#000">1.0</text>
<text x="3689.5" y="1301.5" font-size="13.3" text-anchor="end" fill="#000">1.0</text>
<path d="M3699.5,2301.2v5M3699.5,2301.2h-5M3901.7,2301.2v5M3699.5,2100.3h-5M4103.9,2301.2v5M3699.5,1899.4h-5M4306,2301.2v5M3699.5,1698.6h-5M4508.2,2301.2v5M3699.5,1497.7h-5M4710.4,2301.2v5M3699.5,1296.8h-5" stroke="#000" stroke-width="1.1" fill="none"/>
<rect x="3701.9" y="1296.8" width="110.6" height="215.2" rx="3" fill="#fff" fill-opacity="0.8" stroke="#ccc" stroke-width="1"/>
<rect x="3706.1" y="1302.2" width="28" height="9.5" fill="#bc80bd" stroke="#000" stroke-width="1"/>
<text x="3746.1" y="1310.7" font-size="11" text-anchor="start" fill="#333" xml:space="preserve"><tspan font-family="'Liberation Mono', monospace" font-size="9.2">[0.0 : 0.4)</tspan></text>
<rect x="3706.1" y="1319.9" width="28" height="9.5" fill="#b3de69" stroke="#000" stroke-width="1"/>
<text x="3746.1" y="1328.3" font-size="11" text-anchor="start" fill="#333" xml:space="preserve"><tspan font-family="'Liberation Mono', monospace" font-size="9.2">[0.4 : 0.8)</tspan></text>
<rect x="3706.1" y="1337.6" width="28" height="9.5" fill="#80b1d3" stroke="#000" stroke-width="1"/>
<text x="3746.1" y="1346" font-size="11" text-anchor="start" fill="#333" xml:space="preserve"><tspan font-family="'Liberation Mono', monospace" font-size="9.2">[0.8 : 1.2)</tspan></text>
<rect x="3706.1" y="1355.2" width="28" height="9.5" fill="#fccde5" stroke="#000" stroke-width="1"/>
<text x="3746.1" y="1363.7" font-size="11" text-anchor="start" fill="#333" xml:space="preserve"><tspan font-family="'Liberation Mono', monospace" font-size="9.2">[1.2 : 1.6)</tspan></text>
<rect x="3706.1" y="1372.9" width="28" height="9.5" fill="#fb8072" stroke="#000" stroke-width="1"/>
<text x="3746.1" y="1381.3" font-size="11" text-anchor="start" fill="#333" xml:space="preserve"><tspan font-family="'Liberation Mono', monospace" font-size="9.2">[1.6 : 2.0)</tspan></text>
<rect x="3706.1" y="1390.5" width="28" height="9.5" fill="#d9d9d9" stroke="#000" stroke-width="1"/>
<text x="3746.1" y="1399" font-size="11" text-anchor="start" fill="#333" xml:space="preserve"><tspan font-family="'Liberation Mono', monospace" font-size="9.2">[2.0 : 2.4)</tspan></text>
<rect x="3706.1" y="1408.2" width="28" height="9.5" fill="#ccebc5" stroke="#000" stroke-width="1"/>
<text x="3746.1" y="1416.7" font-size="11" text-anchor="start" fill="#333" xml:space="preserve"><tspan font-family="'Liberation Mono', monospace" font-size="9.2">[2.4 : 2.8)</tspan></text>
<rect x="3706.1" y="1425.9" width="28" height="9.5" fill="#ffed6f" stroke="#000" stroke-width="1"/>
<text x="3746.1" y="1434.3" font-size="11" text-anchor="start" fill="#333" xml:space="preserve"><tspan font-family="'Liberation Mono', monospace" font-size="9.2">[2.8 : 3.2)</tspan></text>
<rect x="3706.1" y="1443.5" width="28" height="9.5" fill="#ffffb3" stroke="#000" stroke-width="1"/>
<text x="3746.1" y="1452" font-size="11" text-anchor="start" fill="#333" xml:space="preserve"><tspan font-family="'Liberation Mono', monospace" font-size="9.2">[3.2 : 3.6)</tspan></text>
<rect x="3706.1" y="1461.2" width="28" height="9.5" fill="#bebada" stroke="#000" stroke-width="1"/>
<text x="3746.1" y="1469.7" font-size="11" text-anchor="start" fill="#333" xml:space="preserve"><tspan font-family="'Liberation Mono', monospace" font-size="9.2">[3.6 : 4.0)</tspan></text>
<rect x="3706.1" y="1478.9" width="28" height="9.5" fill="#fdb462" stroke="#000" stroke-width="1"/>
<text x="3746.1" y="1487.3" font-size="11" text-anchor="start" fill="#333" xml:space="preserve"><tspan font-family="'Liberation Mono', monospace" font-size="9.2">[4.0 : 4.4)</tspan></text>
<rect x="3706.1" y="1496.5" width="28" height="9.5" fill="#8dd3c7" stroke="#000" stroke-width="1"/>
<text x="3746.1" y="1505" font-size="11" text-anchor="start" fill="#333" xml:space="preserve"><tspan font-family="'Liberation Mono', monospace" font-size="9.2">&gt;4.4</tspan></text>
<clipPath id="wc"><circle cx="4204.1" cy="1799.0" r="502.2"/></clipPath><g clip-path="url(#wc)">
<path d="M4204.1,1799L4259.6,1807.8A56.2,56.2 0 0 0 4259.6,1790.2L4204.1,1799A0,0 0 0 1 4204.1,1799Z" fill="#b3de69" stroke="#fff" stroke-width="1.5" stroke-linejoin="round"/>
<path d="M4259.6,1807.8L4436.1,1835.8A234.9,234.9 0 0 0 4436.1,1762.2L4259.6,1790.2A56.2,56.2 0 0 1 4259.6,1807.8Z" fill="#80b1d3" stroke="#fff" stroke-width="1.5" stroke-linejoin="round"/>
<path d="M4436.1,1835.8L4474.5,1841.8A273.8,273.8 0 0 0 4474.5,1756.2L4436.1,1762.2A234.9,234.9 0 0 1 4436.1,1835.8Z" fill="#fccde5" stroke="#fff" stroke-width="1.5" stroke-linejoin="round"/>
<path d="M4204.1,1799L4268.6,1783.5A66.4,66.4 0 0 0 4260.7,1764.3L4204.1,1799A0,0 0 0 1 4204.1,1799Z" fill="#b3de69" stroke="#fff" stroke-width="1.5" stroke-linejoin="round"/>
<path d="M4268.6,1783.5L4398.8,1752.2A200.3,200.3 0 0 0 4374.9,1694.4L4260.7,1764.3A66.4,66.4 0 0 1 4268.6,1783.5Z" fill="#80b1d3" stroke="#fff" stroke-width="1.5" stroke-linejoin="round"/>
<path d="M4398.8,1752.2L4481.4,1732.4A285.2,285.2 0 0 0 4447.2,1650L4374.9,1694.4A200.3,200.3 0 0 1 4398.8,1752.2Z" fill="#fccde5" stroke="#fff" stroke-width="1.5" stroke-linejoin="round"/>
<path d="M4481.4,1732.4L4590.7,1706.2A397.5,397.5 0 0 0 4543.1,1591.3L4447.2,1650A285.2,285.2 0 0 1 4481.4,1732.4Z" fill="#fb8072" stroke="#fff" stroke-width="1.5" stroke-linejoin="round"/>
<path d="M4590.7,1706.2L4645.9,1692.9A454.3,454.3 0 0 0 4591.5,1561.6L4543.1,1591.3A397.5,397.5 0 0 1 4590.7,1706.2Z" fill="#d9d9d9" stroke="#fff" stroke-width="1.5" stroke-linejoin="round"/>
<path d="M4645.9,1692.9L4692.4,1681.8A502.2,502.2 0 0 0 4632.3,1536.6L4591.5,1561.6A454.3,454.3 0 0 1 4645.9,1692.9Z" fill="#ccebc5" stroke="#fff" stroke-width="1.5" stroke-linejoin="round"/>
<path d="M4204.1,1799L4272.8,1749.1A84.9,84.9 0 0 0 4254,1730.3L4204.1,1799A0,0 0 0 1 4204.1,1799Z" fill="#b3de69" stroke="#fff" stroke-width="1.5" stroke-linejoin="round"/>
<path d="M4272.8,1749.1L4327.4,1709.4A152.4,152.4 0 0 0 4293.7,1675.7L4254,1730.3A84.9,84.9 0 0 1 4272.8,1749.1Z" fill="#80b1d3" stroke="#fff" stroke-width="1.5" stroke-linejoin="round"/>
<path d="M4327.4,1709.4L4335.6,1703.4A162.6,162.6 0 0 0 4299.7,1667.5L4293.7,1675.7A152.4,152.4 0 0 1 4327.4,1709.4Z" fill="#fccde5" stroke="#fff" stroke-width="1.5" stroke-linejoin="round"/>
<path d="M4335.6,1703.4L4373.4,1676A209.2,209.2 0 0 0 4327.1,1629.7L4299.7,1667.5A162.6,162.6 0 0 1 4335.6,1703.4Z" fill="#fb8072" stroke="#fff" stroke-width="1.5" stroke-linejoin="round"/>
<path d="M4373.4,1676L4381.6,1670A219.4,219.4 0 0 0 4333.1,1621.5L4327.1,1629.7A209.2,209.2 0 0 1 4373.4,1676Z" fill="#d9d9d9" stroke="#fff" stroke-width="1.5" stroke-linejoin="round"/>
<path d="M4381.6,1670L4397.6,1658.4A239.1,239.1 0 0 0 4344.7,1605.5L4333.1,1621.5A219.4,219.4 0 0 1 4381.6,1670Z" fill="#ccebc5" stroke="#fff" stroke-width="1.5" stroke-linejoin="round"/>
<path d="M4397.6,1658.4L4413,1647.2A258.2,258.2 0 0 0 4355.9,1590.1L4344.7,1605.5A239.1,239.1 0 0 1 4397.6,1658.4Z" fill="#ffed6f" stroke="#fff" stroke-width="1.5" stroke-linejoin="round"/>
<path d="M4413,1647.2L4420.8,1641.6A267.8,267.8 0 0 0 4361.5,1582.3L4355.9,1590.1A258.2,258.2 0 0 1 4413,1647.2Z" fill="#ffffb3" stroke="#fff" stroke-width="1.5" stroke-linejoin="round"/>
<path d="M4420.8,1641.6L4435.3,1631A285.7,285.7 0 0 0 4372.1,1567.8L4361.5,1582.3A267.8,267.8 0 0 1 4420.8,1641.6Z" fill="#bebada" stroke="#fff" stroke-width="1.5" stroke-linejoin="round"/>
<path d="M4435.3,1631L4441.6,1626.5A293.5,293.5 0 0 0 4376.6,1561.5L4372.1,1567.8A285.7,285.7 0 0 1 4435.3,1631Z" fill="#fdb462" stroke="#fff" stroke-width="1.5" stroke-linejoin="round"/>
<path d="M4441.6,1626.5L4448.3,1621.6A301.9,301.9 0 0 0 4381.5,1554.8L4376.6,1561.5A293.5,293.5 0 0 1 4441.6,1626.5Z" fill="#8dd3c7" stroke="#fff" stroke-width="1.5" stroke-linejoin="round"/>
<path d="M4204.1,1799L4218.8,1775A28.1,28.1 0 0 0 4210.7,1771.7L4204.1,1799A0,0 0 0 1 4204.1,1799Z" fill="#bc80bd" stroke="#fff" stroke-width="1.5" stroke-linejoin="round"/>
<path d="M4218.8,1775L4223.2,1767.9A36.5,36.5 0 0 0 4212.6,1763.5L4210.7,1771.7A28.1,28.1 0 0 1 4218.8,1775Z" fill="#b3de69" stroke="#fff" stroke-width="1.5" stroke-linejoin="round"/>
<path d="M4205.8,1788.4L4207,1780.7A18.5,18.5 0 0 0 4201.2,1780.7L4202.4,1788.4A10.8,10.8 0 0 1 4205.8,1788.4Z" fill="#80b1d3" stroke="#fff" stroke-width="1.5" stroke-linejoin="round"/>
<path d="M4204.1,1799L4199.8,1781A18.5,18.5 0 0 0 4194.4,1783.2L4204.1,1799A0,0 0 0 1 4204.1,1799Z" fill="#bc80bd" stroke="#fff" stroke-width="1.5" stroke-linejoin="round"/>
<path d="M4199.8,1781L4197.5,1771.7A28.1,28.1 0 0 0 4189.4,1775L4194.4,1783.2A18.5,18.5 0 0 1 4199.8,1781Z" fill="#b3de69" stroke="#fff" stroke-width="1.5" stroke-linejoin="round"/>
<path d="M4197.5,1771.7L4193.2,1753.7A46.6,46.6 0 0 0 4179.7,1759.2L4189.4,1775A28.1,28.1 0 0 1 4197.5,1771.7Z" fill="#80b1d3" stroke="#fff" stroke-width="1.5" stroke-linejoin="round"/>
<path d="M4204.1,1799L4187.6,1776.3A28.1,28.1 0 0 0 4181.4,1782.5L4204.1,1799A0,0 0 0 1 4204.1,1799Z" fill="#bc80bd" stroke="#fff" stroke-width="1.5" stroke-linejoin="round"/>
<path d="M4204.1,1799L4188.3,1789.3A18.5,18.5 0 0 0 4186.1,1794.7L4204.1,1799A0,0 0 0 1 4204.1,1799Z" fill="#b3de69" stroke="#fff" stroke-width="1.5" stroke-linejoin="round"/>
<path d="M4204.1,1799L4186.1,1796.1A18.2,18.2 0 0 0 4186.1,1801.9L4204.1,1799A0,0 0 0 1 4204.1,1799Z" fill="#bc80bd" stroke="#fff" stroke-width="1.5" stroke-linejoin="round"/>
<path d="M4186.1,1796.1L4167.7,1793.2A36.9,36.9 0 0 0 4167.7,1804.8L4186.1,1801.9A18.2,18.2 0 0 1 4186.1,1796.1Z" fill="#b3de69" stroke="#fff" stroke-width="1.5" stroke-linejoin="round"/>
<path d="M4204.1,1799L4186.1,1803.3A18.5,18.5 0 0 0 4188.3,1808.7L4204.1,1799A0,0 0 0 1 4204.1,1799Z" fill="#b3de69" stroke="#fff" stroke-width="1.5" stroke-linejoin="round"/>
<path d="M4186.1,1803.3L4176.8,1805.6A28.1,28.1 0 0 0 4180.1,1813.7L4188.3,1808.7A18.5,18.5 0 0 1 4186.1,1803.3Z" fill="#80b1d3" stroke="#fff" stroke-width="1.5" stroke-linejoin="round"/>
<path d="M4176.8,1805.6L4167.8,1807.7A37.4,37.4 0 0 0 4172.2,1818.5L4180.1,1813.7A28.1,28.1 0 0 1 4176.8,1805.6Z" fill="#fb8072" stroke="#fff" stroke-width="1.5" stroke-linejoin="round"/>
<path d="M4167.8,1807.7L4158.2,1810A47.2,47.2 0 0 0 4163.8,1823.7L4172.2,1818.5A37.4,37.4 0 0 1 4167.8,1807.7Z" fill="#d9d9d9" stroke="#fff" stroke-width="1.5" stroke-linejoin="round"/>
<path d="M4158.2,1810L4148.3,1812.4A57.4,57.4 0 0 0 4155.2,1829L4163.8,1823.7A47.2,47.2 0 0 1 4158.2,1810Z" fill="#ccebc5" stroke="#fff" stroke-width="1.5" stroke-linejoin="round"/>
<path d="M4148.3,1812.4L4139,1814.6A67,67 0 0 0 4147,1834L4155.2,1829A57.4,57.4 0 0 1 4148.3,1812.4Z" fill="#ffed6f" stroke="#fff" stroke-width="1.5" stroke-linejoin="round"/>
<path d="M4139,1814.6L4129.1,1817A77.1,77.1 0 0 0 4138.3,1839.3L4147,1834A67,67 0 0 1 4139,1814.6Z" fill="#ffffb3" stroke="#fff" stroke-width="1.5" stroke-linejoin="round"/>
<path d="M4129.1,1817L4113.1,1820.8A93.6,93.6 0 0 0 4124.3,1847.9L4138.3,1839.3A77.1,77.1 0 0 1 4129.1,1817Z" fill="#bebada" stroke="#fff" stroke-width="1.5" stroke-linejoin="round"/>
<path d="M4204.1,1799L4189.1,1809.9A18.5,18.5 0 0 0 4193.2,1814L4204.1,1799A0,0 0 0 1 4204.1,1799Z" fill="#80b1d3" stroke="#fff" stroke-width="1.5" stroke-linejoin="round"/>
<path d="M4189.1,1809.9L4182.3,1814.8A26.9,26.9 0 0 0 4188.3,1820.8L4193.2,1814A18.5,18.5 0 0 1 4189.1,1809.9Z" fill="#fccde5" stroke="#fff" stroke-width="1.5" stroke-linejoin="round"/>
<path d="M4204.1,1799L4194.7,1814.3A17.9,17.9 0 0 0 4199.9,1816.4L4204.1,1799A0,0 0 0 1 4204.1,1799Z" fill="#80b1d3" stroke="#fff" stroke-width="1.5" stroke-linejoin="round"/>
<path d="M4194.7,1814.3L4189.6,1822.7A27.8,27.8 0 0 0 4197.6,1826L4199.9,1816.4A17.9,17.9 0 0 1 4194.7,1814.3Z" fill="#fb8072" stroke="#fff" stroke-width="1.5" stroke-linejoin="round"/>
<path d="M4189.6,1822.7L4180,1838.2A46,46 0 0 0 4193.4,1843.8L4197.6,1826A27.8,27.8 0 0 1 4189.6,1822.7Z" fill="#d9d9d9" stroke="#fff" stroke-width="1.5" stroke-linejoin="round"/>
<path d="M4204.1,1799L4201.2,1817.6A18.8,18.8 0 0 0 4207,1817.6L4204.1,1799A0,0 0 0 1 4204.1,1799Z" fill="#b3de69" stroke="#fff" stroke-width="1.5" stroke-linejoin="round"/>
<path d="M4201.2,1817.6L4198.3,1835.9A37.4,37.4 0 0 0 4209.9,1835.9L4207,1817.6A18.8,18.8 0 0 1 4201.2,1817.6Z" fill="#80b1d3" stroke="#fff" stroke-width="1.5" stroke-linejoin="round"/>
<path d="M4198.3,1835.9L4196.8,1845.3A46.9,46.9 0 0 0 4211.4,1845.3L4209.9,1835.9A37.4,37.4 0 0 1 4198.3,1835.9Z" fill="#fccde5" stroke="#fff" stroke-width="1.5" stroke-linejoin="round"/>
<path d="M4196.8,1845.3L4195.4,1853.9A55.6,55.6 0 0 0 4212.8,1853.9L4211.4,1845.3A46.9,46.9 0 0 1 4196.8,1845.3Z" fill="#fb8072" stroke="#fff" stroke-width="1.5" stroke-linejoin="round"/>
<path d="M4204.1,1799L4206.1,1807.1A8.4,8.4 0 0 0 4208.5,1806.1L4204.1,1799A0,0 0 0 1 4204.1,1799Z" fill="#80b1d3" stroke="#fff" stroke-width="1.5" stroke-linejoin="round"/>
<path d="M4204.1,1799L4215.2,1814.2A18.8,18.8 0 0 0 4219.3,1810.1L4204.1,1799A0,0 0 0 1 4204.1,1799Z" fill="#b3de69" stroke="#fff" stroke-width="1.5" stroke-linejoin="round"/>
<path d="M4215.2,1814.2L4220.3,1821.2A27.5,27.5 0 0 0 4226.3,1815.2L4219.3,1810.1A18.8,18.8 0 0 1 4215.2,1814.2Z" fill="#80b1d3" stroke="#fff" stroke-width="1.5" stroke-linejoin="round"/>
<path d="M4204.1,1799L4252.3,1828.5A56.6,56.6 0 0 0 4259.1,1812.2L4204.1,1799A0,0 0 0 1 4204.1,1799Z" fill="#80b1d3" stroke="#fff" stroke-width="1.5" stroke-linejoin="round"/>
</g>
<path d="M4204.1,1799.0L4706.3,1799M4204.1,1799.0L4559.2,1443.9M4204.1,1799.0L4204.1,1296.8M4204.1,1799.0L3849,1443.9M4204.1,1799.0L3701.9,1799M4204.1,1799.0L3849,2154.1M4204.1,1799.0L4204.1,2301.2M4204.1,1799.0L4559.2,2154.1" stroke="#b0b0b0" stroke-width="1.1" fill="none"/>
<circle cx="4204.1" cy="1799.0" r="100.4" fill="none" stroke="#b0b0b0" stroke-width="1.1"/>
<circle cx="4204.1" cy="1799.0" r="200.9" fill="none" stroke="#b0b0b0" stroke-width="1.1"/>
<circle cx="4204.1" cy="1799.0" r="301.3" fill="none" stroke="#b0b0b0" stroke-width="1.1"/>
<circle cx="4204.1" cy="1799.0" r="401.8" fill="none" stroke="#b0b0b0" stroke-width="1.1"/>
<circle cx="4204.1" cy="1799.0" r="502.2" fill="none" stroke="#000" stroke-width="1.2"/>
<text x="4204.1" y="1283" font-size="13.3" text-anchor="middle" fill="#000">N</text>
<text x="4572.3" y="1436.6" font-size="13.3" text-anchor="middle" fill="#000">N-E</text>
<text x="4725.9" y="1803.7" font-size="13.3" text-anchor="middle" fill="#000">E</text>
<text x="4572.3" y="2171.9" font-size="13.3" text-anchor="middle" fill="#000">S-E</text>
<text x="4204.1" y="2326.1" font-size="13.3" text-anchor="middle" fill="#000">S</text>
<text x="3835.2" y="2171.9" font-size="13.3" text-anchor="middle" fill="#000">S-W</text>
<text x="3682.2" y="1803.7" font-size="13.3" text-anchor="middle" fill="#000">W</text>
<text x="3834" y="1436.6" font-size="13.3" text-anchor="middle" fill="#000">N-W</text>
<text x="4252.5" y="1704.4" font-size="13.3" text-anchor="middle" fill="#000">6.3</text>
<text x="4295.5" y="1611.8" font-size="13.3" text-anchor="middle" fill="#000">12.6</text>
<text x="4333.2" y="1519.7" font-size="13.3" text-anchor="middle" fill="#000">18.9</text>
<text x="4371.4" y="1427" font-size="13.3" text-anchor="middle" fill="#000">25.2</text>
<text x="4409.7" y="1333.8" font-size="13.3" text-anchor="middle" fill="#000">31.5</text>
<text x="4204.1" y="1263.6" font-size="16" text-anchor="middle" fill="#000">呼和浩特市未来24小时风向玫瑰图</text>
</g>
<g id="pie">
<path d="M4204.5,3004.5L4606,3004.5A401.5,401.5 0 0 0 4595.8,2914.4Z" fill="#ffffb3"/>
<path d="M4204.5,3004.5L4595.8,2914.4A401.5,401.5 0 0 0 3872.4,2778.8Z" fill="#bc80bd"/>
<path d="M4204.5,3004.5L3872.4,2778.8A401.5,401.5 0 0 0 3813.2,3094.5Z" fill="#ffed6f"/>
<path d="M4204.5,3004.5L3813.2,3094.5A401.5,401.5 0 0 0 3890.3,3254.5Z" fill="#fccde5"/>
<path d="M4204.5,3004.5L3890.3,3254.5A401.5,401.5 0 0 0 4509,3266.2Z" fill="#ccebc5"/>
<path d="M4204.5,3004.5L4509,3266.2A401.5,401.5 0 0 0 4606,3004.5Z" fill="#8dd3c7"/>
<text x="4263.8" y="2733.7" font-size="13.3" text-anchor="middle" fill="#222">晴</text>
<text x="4249.4" y="2773.1" font-size="13.3" text-anchor="middle" fill="#222">36.9%</text>
<text x="3913.5" y="2956.7" font-size="13.3" text-anchor="middle" fill="#222">多云</text>
<text x="3967.8" y="2964.8" font-size="13.3" text-anchor="middle" fill="#222">13.1%</text>
<text x="4498" y="2977.9" font-size="13.3" text-anchor="middle" fill="#222">小雪</text>
<text x="4444.3" y="2982.9" font-size="13.3" text-anchor="middle" fill="#222">3.6%</text>
<text x="4488.6" y="3108.4" font-size="13.3" text-anchor="middle" fill="#222">大部晴</text>
<text x="4431.2" y="3092.8" font-size="13.3" text-anchor="middle" fill="#222">11.3%</text>
<text x="3937.2" y="3131.5" font-size="13.3" text-anchor="middle" fill="#222">中雪</text>
<text x="3987.2" y="3113.4" font-size="13.3" text-anchor="middle" fill="#222">7.1%</text>
<text x="4192.6" y="3289.5" font-size="13.3" text-anchor="middle" fill="#222">阴</text>
<text x="4200.1" y="3250.8" font-size="13.3" text-anchor="middle" fill="#222">28.0%</text>
<text x="4204.5" y="2494.9" font-size="16" text-anchor="middle" fill="#000">呼和浩特市未来24小时重要天气占比</text>
<rect x="3709.3" y="2509.3" width="91.8" height="126.8" rx="3" fill="#fff" stroke="#ccc" stroke-width="1"/>
<rect x="3714.9" y="2516.8" width="27" height="9.3" fill="#ffffb3"/>
<text x="3754.9" y="2526.4" font-size="13.3" text-anchor="start" fill="#000">小雪</text>
<rect x="3714.9" y="2537.2" width="27" height="9.3" fill="#bc80bd"/>
<text x="3754.9" y="2546.8" font-size="13.3" text-anchor="start" fill="#000">晴</text>
<rect x="3714.9" y="2557.6" width="27" height="9.3" fill="#ffed6f"/>
<text x="3754.9" y="2567.3" font-size="13.3" text-anchor="start" fill="#000">多云</text>
<rect x="3714.9" y="2578" width="27" height="9.3" fill="#fccde5"/>
<text x="3754.9" y="2587.7" font-size="13.3" text-anchor="start" fill="#000">中雪</text>
<rect x="3714.9" y="2598.5" width="27" height="9.3" fill="#ccebc5"/>
<text x="3754.9" y="2608.1" font-size="13.3" text-anchor="start" fill="#000">阴</text>
<rect x="3714.9" y="2618.9" width="27" height="9.3" fill="#8dd3c7"/>
<text x="3754.9" y="2628.5" font-size="13.3" text-anchor="start" fill="#000">大部晴</text>
<rect x="4549.8" y="3414.7" width="150.5" height="151.1" rx="24" fill="#226bc7"/>
<rect x="4562.3" y="3433.5" width="125.5" height="13.1" rx="6.6" fill="#fff"/>
<rect x="4581" y="3458.4" width="100.5" height="13.1" rx="6.6" fill="#fff"/>
<rect x="4568.5" y="3484.1" width="88" height="12.5" rx="6.2" fill="#fff"/>
<rect x="4587.3" y="3509" width="50.6" height="12.5" rx="6.2" fill="#fff"/>
<rect x="4612.3" y="3534" width="38.1" height="13.1" rx="6.6" fill="#fff"/>
</g>
<g id="botchart">
<path d="M60.5,3708.5V4712.3M144,3708.5V4712.3M227.5,3708.5V4712.3M311.1,3708.5V4712.3M394.6,3708.5V4712.3M478.1,3708.5V4712.3M561.6,3708.5V4712.3M645.2,3708.5V4712.3M728.7,3708.5V4712.3M812.2,3708.5V4712.3M895.7,3708.5V4712.3M979.3,3708.5V4712.3M1062.8,3708.5V4712.3M1146.3,3708.5V4712.3M1229.8,3708.5V4712.3M1313.4,3708.5V4712.3M1396.9,3708.5V4712.3M1480.4,3708.5V4712.3M1563.9,3708.5V4712.3M1647.5,3708.5V4712.3M1731,3708.5V4712.3M1814.5,3708.5V4712.3M1898,3708.5V4712.3M1981.6,3708.5V4712.3M2065.1,3708.5V4712.3M2148.6,3708.5V4712.3M2232.1,3708.5V4712.3M2315.6,3708.5V4712.3M2399.2,3708.5V4712.3M2482.7,3708.5V4712.3M2566.2,3708.5V4712.3M2649.7,3708.5V4712.3M2733.3,3708.5V4712.3M2816.8,3708.5V4712.3M2900.3,3708.5V4712.3M2983.8,3708.5V4712.3M3067.4,3708.5V4712.3M3150.9,3708.5V4712.3M3234.4,3708.5V4712.3M3317.9,3708.5V4712.3M3401.5,3708.5V4712.3M3485,3708.5V4712.3M3568.5,3708.5V4712.3M3652,3708.5V4712.3M3735.6,3708.5V4712.3M3819.1,3708.5V4712.3M3902.6,3708.5V4712.3M3986.1,3708.5V4712.3M4069.6,3708.5V4712.3M4153.2,3708.5V4712.3M4236.7,3708.5V4712.3M4320.2,3708.5V4712.3M4403.7,3708.5V4712.3M4487.3,3708.5V4712.3M4570.8,3708.5V4712.3M4654.3,3708.5V4712.3M60.5,4655.5H4710.0M60.5,4511.4H4710.0M60.5,4367.3H4710.0M60.5,4223.2H4710.0M60.5,4079.1H4710.0M60.5,3935H4710.0M60.5,3790.9H4710.0" stroke="#a9c4e2" stroke-width="0.9" stroke-dasharray="2.8 1.2" fill="none"/>
<polygon points="60.5,4667 60.5,4139.6 88.3,4142.5 116.2,4145.4 144,4154 171.9,4162.7 199.7,4168.4 227.5,4165.6 255.4,4159.8 283.2,4142.5 311.1,4107.9 338.9,4064.7 366.8,4024.3 394.6,3984 422.4,3949.4 450.3,3929.2 478.1,3940.8 506,3966.7 533.8,3992.6 561.6,4012.8 589.5,4027.2 617.3,4041.6 645.2,4050.3 673,4056 700.9,4061.8 728.7,4067.6 756.5,4079.1 784.4,4090.6 812.2,4105 840.1,4122.3 867.9,4139.6 895.7,4162.7 923.6,4188.6 951.4,4182.9 979.3,4122.3 1007.1,4033 1034.9,3958.1 1062.8,3911.9 1090.6,3880.2 1118.5,3868.7 1146.3,3888.9 1174.2,3926.4 1202,3963.8 1229.8,3984 1257.7,4001.3 1285.5,4015.7 1313.4,4027.2 1341.2,4033 1369,4035.9 1396.9,4033 1424.7,4027.2 1452.6,4024.3 1480.4,4030.1 1508.2,4035.9 1536.1,4041.6 1563.9,4044.5 1591.8,4044.5 1619.6,4041.6 1647.5,4033 1675.3,4018.6 1703.1,4009.9 1731,4004.2 1758.8,4001.3 1786.7,4004.2 1814.5,4015.7 1842.3,4035.9 1870.2,4053.2 1898,4064.7 1925.9,4076.2 1953.7,4093.5 1981.6,4119.4 2009.4,4151.1 2037.2,4182.9 2065.1,4217.4 2092.9,4254.9 2120.8,4283.7 2148.6,4292.4 2176.4,4292.4 2204.3,4298.1 2232.1,4327 2260,4364.4 2287.8,4381.7 2315.6,4370.2 2343.5,4341.4 2371.3,4312.5 2399.2,4280.8 2427,4254.9 2454.9,4243.4 2482.7,4254.9 2510.5,4280.8 2538.4,4309.7 2566.2,4344.2 2594.1,4384.6 2621.9,4416.3 2649.7,4433.6 2677.6,4445.1 2705.4,4453.8 2733.3,4459.5 2761.1,4462.4 2788.9,4468.2 2816.8,4479.7 2844.6,4494.1 2872.5,4505.6 2900.3,4517.2 2928.2,4522.9 2956,4505.6 2983.8,4445.1 3011.7,4358.7 3039.5,4289.5 3067.4,4252 3095.2,4229 3123,4226.1 3150.9,4243.4 3178.7,4278 3206.6,4309.7 3234.4,4327 3262.3,4341.4 3290.1,4350 3317.9,4344.2 3345.8,4332.7 3373.6,4318.3 3401.5,4301 3429.3,4280.8 3457.1,4272.2 3485,4275.1 3512.8,4280.8 3540.7,4298.1 3568.5,4321.2 3596.3,4350 3624.2,4355.8 3652,4318.3 3679.9,4257.8 3707.7,4205.9 3735.6,4174.2 3763.4,4154 3791.2,4151.1 3819.1,4174.2 3846.9,4217.4 3874.8,4257.8 3902.6,4292.4 3930.4,4327 3958.3,4352.9 3986.1,4367.3 4014,4375.9 4041.8,4381.7 4069.6,4384.6 4097.5,4384.6 4125.3,4390.4 4153.2,4399 4181,4413.4 4208.9,4422.1 4236.7,4427.8 4264.5,4427.8 4292.4,4413.4 4320.2,4370.2 4348.1,4315.4 4375.9,4260.7 4403.7,4205.9 4431.6,4154 4459.4,4122.3 4487.3,4125.2 4515.1,4145.4 4543,4174.2 4570.8,4205.9 4598.6,4243.4 4626.5,4275.1 4654.3,4295.2 4682.2,4309.7 4710,4324.1 4710,4667" fill="#fa7a6c" fill-opacity="0.1"/>
<polygon points="60.5,4667 60.5,4231.8 88.3,4240.5 116.2,4246.3 144,4252 171.9,4257.8 199.7,4254.9 227.5,4234.7 255.4,4205.9 283.2,4162.7 311.1,4102.2 338.9,4030.1 366.8,3960.9 394.6,3891.8 422.4,3822.6 450.3,3799.5 478.1,3848.5 506,3943.6 533.8,4021.5 561.6,4061.8 589.5,4084.9 617.3,4102.2 645.2,4110.8 673,4113.7 700.9,4116.6 728.7,4125.2 756.5,4136.7 784.4,4151.1 812.2,4168.4 840.1,4188.6 867.9,4205.9 895.7,4226.1 923.6,4246.3 951.4,4220.3 979.3,4119.4 1007.1,3972.5 1034.9,3862.9 1062.8,3802.4 1090.6,3770.7 1118.5,3779.4 1146.3,3848.5 1174.2,3955.2 1202,4035.9 1229.8,4058.9 1257.7,4056 1285.5,4050.3 1313.4,4053.2 1341.2,4053.2 1369,4050.3 1396.9,4044.5 1424.7,4033 1452.6,4027.2 1480.4,4027.2 1508.2,4030.1 1536.1,4033 1563.9,4035.9 1591.8,4038.8 1619.6,4035.9 1647.5,4021.5 1675.3,4001.3 1703.1,3984 1731,3975.3 1758.8,3969.6 1786.7,3978.2 1814.5,4009.9 1842.3,4058.9 1870.2,4093.5 1898,4099.3 1925.9,4096.4 1953.7,4105 1981.6,4139.6 2009.4,4185.7 2037.2,4226.1 2065.1,4260.7 2092.9,4289.5 2120.8,4315.4 2148.6,4338.5 2176.4,4355.8 2204.3,4373.1 2232.1,4396.1 2260,4419.2 2287.8,4422.1 2315.6,4387.5 2343.5,4332.7 2371.3,4286.6 2399.2,4249.1 2427,4214.6 2454.9,4214.6 2482.7,4272.2 2510.5,4361.5 2538.4,4430.7 2566.2,4459.5 2594.1,4468.2 2621.9,4476.8 2649.7,4491.2 2677.6,4508.5 2705.4,4520 2733.3,4525.8 2761.1,4525.8 2788.9,4528.7 2816.8,4534.5 2844.6,4543.1 2872.5,4548.9 2900.3,4560.4 2928.2,4569 2956,4546 2983.8,4465.3 3011.7,4355.8 3039.5,4272.2 3067.4,4220.3 3095.2,4188.6 3123,4191.5 3150.9,4252 3178.7,4347.1 3206.6,4416.3 3234.4,4430.7 3262.3,4419.2 3290.1,4404.8 3317.9,4390.4 3345.8,4373.1 3373.6,4355.8 3401.5,4335.6 3429.3,4312.5 3457.1,4303.9 3485,4309.7 3512.8,4327 3540.7,4350 3568.5,4393.2 3596.3,4448 3624.2,4456.6 3652,4381.7 3679.9,4260.7 3707.7,4171.3 3735.6,4122.3 3763.4,4093.5 3791.2,4093.5 3819.1,4131 3846.9,4194.4 3874.8,4257.8 3902.6,4315.4 3930.4,4373.1 3958.3,4413.4 3986.1,4436.5 4014,4442.2 4041.8,4448 4069.6,4448 4097.5,4445.1 4125.3,4448 4153.2,4459.5 4181,4479.7 4208.9,4491.2 4236.7,4499.9 4264.5,4499.9 4292.4,4479.7 4320.2,4424.9 4348.1,4344.2 4375.9,4269.3 4403.7,4197.3 4431.6,4125.2 4459.4,4090.6 4487.3,4105 4515.1,4156.9 4543,4205.9 4570.8,4263.5 4598.6,4329.8 4626.5,4378.8 4654.3,4407.6 4682.2,4419.2 4710,4427.8 4710,4667" fill="#236cc8" fill-opacity="0.1"/>
<polygon points="60.5,4667 60.5,4252 88.3,4257.8 116.2,4260.7 144,4263.5 171.9,4272.2 199.7,4272.2 227.5,4272.2 255.4,4269.3 283.2,4254.9 311.1,4217.4 338.9,4165.6 366.8,4125.2 394.6,4082 422.4,4053.2 450.3,4038.8 478.1,4050.3 506,4076.2 533.8,4105 561.6,4125.2 589.5,4145.4 617.3,4162.7 645.2,4162.7 673,4154 700.9,4156.9 728.7,4165.6 756.5,4180 784.4,4197.3 812.2,4214.6 840.1,4234.7 867.9,4254.9 895.7,4286.6 923.6,4318.3 951.4,4321.2 979.3,4260.7 1007.1,4168.4 1034.9,4093.5 1062.8,4047.4 1090.6,4015.7 1118.5,4004.2 1146.3,4021.5 1174.2,4064.7 1202,4099.3 1229.8,4133.9 1257.7,4162.7 1285.5,4185.7 1313.4,4194.4 1341.2,4194.4 1369,4188.6 1396.9,4180 1424.7,4168.4 1452.6,4156.9 1480.4,4154 1508.2,4151.1 1536.1,4151.1 1563.9,4145.4 1591.8,4136.7 1619.6,4131 1647.5,4116.6 1675.3,4107.9 1703.1,4102.2 1731,4093.5 1758.8,4084.9 1786.7,4084.9 1814.5,4102.2 1842.3,4128.1 1870.2,4145.4 1898,4168.4 1925.9,4203 1953.7,4237.6 1981.6,4266.4 2009.4,4298.1 2037.2,4324.1 2065.1,4352.9 2092.9,4384.6 2120.8,4407.6 2148.6,4407.6 2176.4,4399 2204.3,4404.8 2232.1,4445.1 2260,4494.1 2287.8,4525.8 2315.6,4511.4 2343.5,4473.9 2371.3,4436.5 2399.2,4401.9 2427,4370.2 2454.9,4358.7 2482.7,4367.3 2510.5,4390.4 2538.4,4419.2 2566.2,4459.5 2594.1,4502.8 2621.9,4543.1 2649.7,4563.3 2677.6,4571.9 2705.4,4577.7 2733.3,4586.3 2761.1,4592.1 2788.9,4597.9 2816.8,4606.5 2844.6,4620.9 2872.5,4629.6 2900.3,4641.1 2928.2,4655.5 2956,4638.2 2983.8,4577.7 3011.7,4488.3 3039.5,4416.3 3067.4,4373.1 3095.2,4347.1 3123,4341.4 3150.9,4364.4 3178.7,4404.8 3206.6,4439.4 3234.4,4462.4 3262.3,4476.8 3290.1,4485.5 3317.9,4479.7 3345.8,4465.3 3373.6,4448 3401.5,4422.1 3429.3,4399 3457.1,4387.5 3485,4390.4 3512.8,4404.8 3540.7,4419.2 3568.5,4445.1 3596.3,4471.1 3624.2,4473.9 3652,4436.5 3679.9,4375.9 3707.7,4324.1 3735.6,4286.6 3763.4,4260.7 3791.2,4257.8 3819.1,4280.8 3846.9,4327 3874.8,4373.1 3902.6,4410.5 3930.4,4448 3958.3,4479.7 3986.1,4497 4014,4508.5 4041.8,4514.3 4069.6,4520 4097.5,4522.9 4125.3,4525.8 4153.2,4534.5 4181,4546 4208.9,4551.7 4236.7,4557.5 4264.5,4554.6 4292.4,4537.3 4320.2,4485.5 4348.1,4424.9 4375.9,4367.3 4403.7,4312.5 4431.6,4260.7 4459.4,4231.8 4487.3,4231.8 4515.1,4252 4543,4283.7 4570.8,4318.3 4598.6,4361.5 4626.5,4396.1 4654.3,4419.2 4682.2,4433.6 4710,4448 4710,4667" fill="#a0c45e" fill-opacity="0.1"/>
<polyline points="60.5,4139.6 88.3,4142.5 116.2,4145.4 144,4154 171.9,4162.7 199.7,4168.4 227.5,4165.6 255.4,4159.8 283.2,4142.5 311.1,4107.9 338.9,4064.7 366.8,4024.3 394.6,3984 422.4,3949.4 450.3,3929.2 478.1,3940.8 506,3966.7 533.8,3992.6 561.6,4012.8 589.5,4027.2 617.3,4041.6 645.2,4050.3 673,4056 700.9,4061.8 728.7,4067.6 756.5,4079.1 784.4,4090.6 812.2,4105 840.1,4122.3 867.9,4139.6 895.7,4162.7 923.6,4188.6 951.4,4182.9 979.3,4122.3 1007.1,4033 1034.9,3958.1 1062.8,3911.9 1090.6,3880.2 1118.5,3868.7 1146.3,3888.9 1174.2,3926.4 1202,3963.8 1229.8,3984 1257.7,4001.3 1285.5,4015.7 1313.4,4027.2 1341.2,4033 1369,4035.9 1396.9,4033 1424.7,4027.2 1452.6,4024.3 1480.4,4030.1 1508.2,4035.9 1536.1,4041.6 1563.9,4044.5 1591.8,4044.5 1619.6,4041.6 1647.5,4033 1675.3,4018.6 1703.1,4009.9 1731,4004.2 1758.8,4001.3 1786.7,4004.2 1814.5,4015.7 1842.3,4035.9 1870.2,4053.2 1898,4064.7 1925.9,4076.2 1953.7,4093.5 1981.6,4119.4 2009.4,4151.1 2037.2,4182.9 2065.1,4217.4 2092.9,4254.9 2120.8,4283.7 2148.6,4292.4 2176.4,4292.4 2204.3,4298.1 2232.1,4327 2260,4364.4 2287.8,4381.7 2315.6,4370.2 2343.5,4341.4 2371.3,4312.5 2399.2,4280.8 2427,4254.9 2454.9,4243.4 2482.7,4254.9 2510.5,4280.8 2538.4,4309.7 2566.2,4344.2 2594.1,4384.6 2621.9,4416.3 2649.7,4433.6 2677.6,4445.1 2705.4,4453.8 2733.3,4459.5 2761.1,4462.4 2788.9,4468.2 2816.8,4479.7 2844.6,4494.1 2872.5,4505.6 2900.3,4517.2 2928.2,4522.9 2956,4505.6 2983.8,4445.1 3011.7,4358.7 3039.5,4289.5 3067.4,4252 3095.2,4229 3123,4226.1 3150.9,4243.4 3178.7,4278 3206.6,4309.7 3234.4,4327 3262.3,4341.4 3290.1,4350 3317.9,4344.2 3345.8,4332.7 3373.6,4318.3 3401.5,4301 3429.3,4280.8 3457.1,4272.2 3485,4275.1 3512.8,4280.8 3540.7,4298.1 3568.5,4321.2 3596.3,4350 3624.2,4355.8 3652,4318.3 3679.9,4257.8 3707.7,4205.9 3735.6,4174.2 3763.4,4154 3791.2,4151.1 3819.1,4174.2 3846.9,4217.4 3874.8,4257.8 3902.6,4292.4 3930.4,4327 3958.3,4352.9 3986.1,4367.3 4014,4375.9 4041.8,4381.7 4069.6,4384.6 4097.5,4384.6 4125.3,4390.4 4153.2,4399 4181,4413.4 4208.9,4422.1 4236.7,4427.8 4264.5,4427.8 4292.4,4413.4 4320.2,4370.2 4348.1,4315.4 4375.9,4260.7 4403.7,4205.9 4431.6,4154 4459.4,4122.3 4487.3,4125.2 4515.1,4145.4 4543,4174.2 4570.8,4205.9 4598.6,4243.4 4626.5,4275.1 4654.3,4295.2 4682.2,4309.7 4710,4324.1" fill="none" stroke="#fa7a6c" stroke-width="3.3" stroke-linejoin="round"/>
<polyline points="60.5,4252 88.3,4257.8 116.2,4260.7 144,4263.5 171.9,4272.2 199.7,4272.2 227.5,4272.2 255.4,4269.3 283.2,4254.9 311.1,4217.4 338.9,4165.6 366.8,4125.2 394.6,4082 422.4,4053.2 450.3,4038.8 478.1,4050.3 506,4076.2 533.8,4105 561.6,4125.2 589.5,4145.4 617.3,4162.7 645.2,4162.7 673,4154 700.9,4156.9 728.7,4165.6 756.5,4180 784.4,4197.3 812.2,4214.6 840.1,4234.7 867.9,4254.9 895.7,4286.6 923.6,4318.3 951.4,4321.2 979.3,4260.7 1007.1,4168.4 1034.9,4093.5 1062.8,4047.4 1090.6,4015.7 1118.5,4004.2 1146.3,4021.5 1174.2,4064.7 1202,4099.3 1229.8,4133.9 1257.7,4162.7 1285.5,4185.7 1313.4,4194.4 1341.2,4194.4 1369,4188.6 1396.9,4180 1424.7,4168.4 1452.6,4156.9 1480.4,4154 1508.2,4151.1 1536.1,4151.1 1563.9,4145.4 1591.8,4136.7 1619.6,4131 1647.5,4116.6 1675.3,4107.9 1703.1,4102.2 1731,4093.5 1758.8,4084.9 1786.7,4084.9 1814.5,4102.2 1842.3,4128.1 1870.2,4145.4 1898,4168.4 1925.9,4203 1953.7,4237.6 1981.6,4266.4 2009.4,4298.1 2037.2,4324.1 2065.1,4352.9 2092.9,4384.6 2120.8,4407.6 2148.6,4407.6 2176.4,4399 2204.3,4404.8 2232.1,4445.1 2260,4494.1 2287.8,4525.8 2315.6,4511.4 2343.5,4473.9 2371.3,4436.5 2399.2,4401.9 2427,4370.2 2454.9,4358.7 2482.7,4367.3 2510.5,4390.4 2538.4,4419.2 2566.2,4459.5 2594.1,4502.8 2621.9,4543.1 2649.7,4563.3 2677.6,4571.9 2705.4,4577.7 2733.3,4586.3 2761.1,4592.1 2788.9,4597.9 2816.8,4606.5 2844.6,4620.9 2872.5,4629.6 2900.3,4641.1 2928.2,4655.5 2956,4638.2 2983.8,4577.7 3011.7,4488.3 3039.5,4416.3 3067.4,4373.1 3095.2,4347.1 3123,4341.4 3150.9,4364.4 3178.7,4404.8 3206.6,4439.4 3234.4,4462.4 3262.3,4476.8 3290.1,4485.5 3317.9,4479.7 3345.8,4465.3 3373.6,4448 3401.5,4422.1 3429.3,4399 3457.1,4387.5 3485,4390.4 3512.8,4404.8 3540.7,4419.2 3568.5,4445.1 3596.3,4471.1 3624.2,4473.9 3652,4436.5 3679.9,4375.9 3707.7,4324.1 3735.6,4286.6 3763.4,4260.7 3791.2,4257.8 3819.1,4280.8 3846.9,4327 3874.8,4373.1 3902.6,4410.5 3930.4,4448 3958.3,4479.7 3986.1,4497 4014,4508.5 4041.8,4514.3 4069.6,4520 4097.5,4522.9 4125.3,4525.8 4153.2,4534.5 4181,4546 4208.9,4551.7 4236.7,4557.5 4264.5,4554.6 4292.4,4537.3 4320.2,4485.5 4348.1,4424.9 4375.9,4367.3 4403.7,4312.5 4431.6,4260.7 4459.4,4231.8 4487.3,4231.8 4515.1,4252 4543,4283.7 4570.8,4318.3 4598.6,4361.5 4626.5,4396.1 4654.3,4419.2 4682.2,4433.6 4710,4448" fill="none" stroke="#b0dc62" stroke-width="1.5" stroke-linejoin="round"/>
<polyline points="60.5,4231.8 88.3,4240.5 116.2,4246.3 144,4252 171.9,4257.8 199.7,4254.9 227.5,4234.7 255.4,4205.9 283.2,4162.7 311.1,4102.2 338.9,4030.1 366.8,3960.9 394.6,3891.8 422.4,3822.6 450.3,3799.5 478.1,3848.5 506,3943.6 533.8,4021.5 561.6,4061.8 589.5,4084.9 617.3,4102.2 645.2,4110.8 673,4113.7 700.9,4116.6 728.7,4125.2 756.5,4136.7 784.4,4151.1 812.2,4168.4 840.1,4188.6 867.9,4205.9 895.7,4226.1 923.6,4246.3 951.4,4220.3 979.3,4119.4 1007.1,3972.5 1034.9,3862.9 1062.8,3802.4 1090.6,3770.7 1118.5,3779.4 1146.3,3848.5 1174.2,3955.2 1202,4035.9 1229.8,4058.9 1257.7,4056 1285.5,4050.3 1313.4,4053.2 1341.2,4053.2 1369,4050.3 1396.9,4044.5 1424.7,4033 1452.6,4027.2 1480.4,4027.2 1508.2,4030.1 1536.1,4033 1563.9,4035.9 1591.8,4038.8 1619.6,4035.9 1647.5,4021.5 1675.3,4001.3 1703.1,3984 1731,3975.3 1758.8,3969.6 1786.7,3978.2 1814.5,4009.9 1842.3,4058.9 1870.2,4093.5 1898,4099.3 1925.9,4096.4 1953.7,4105 1981.6,4139.6 2009.4,4185.7 2037.2,4226.1 2065.1,4260.7 2092.9,4289.5 2120.8,4315.4 2148.6,4338.5 2176.4,4355.8 2204.3,4373.1 2232.1,4396.1 2260,4419.2 2287.8,4422.1 2315.6,4387.5 2343.5,4332.7 2371.3,4286.6 2399.2,4249.1 2427,4214.6 2454.9,4214.6 2482.7,4272.2 2510.5,4361.5 2538.4,4430.7 2566.2,4459.5 2594.1,4468.2 2621.9,4476.8 2649.7,4491.2 2677.6,4508.5 2705.4,4520 2733.3,4525.8 2761.1,4525.8 2788.9,4528.7 2816.8,4534.5 2844.6,4543.1 2872.5,4548.9 2900.3,4560.4 2928.2,4569 2956,4546 2983.8,4465.3 3011.7,4355.8 3039.5,4272.2 3067.4,4220.3 3095.2,4188.6 3123,4191.5 3150.9,4252 3178.7,4347.1 3206.6,4416.3 3234.4,4430.7 3262.3,4419.2 3290.1,4404.8 3317.9,4390.4 3345.8,4373.1 3373.6,4355.8 3401.5,4335.6 3429.3,4312.5 3457.1,4303.9 3485,4309.7 3512.8,4327 3540.7,4350 3568.5,4393.2 3596.3,4448 3624.2,4456.6 3652,4381.7 3679.9,4260.7 3707.7,4171.3 3735.6,4122.3 3763.4,4093.5 3791.2,4093.5 3819.1,4131 3846.9,4194.4 3874.8,4257.8 3902.6,4315.4 3930.4,4373.1 3958.3,4413.4 3986.1,4436.5 4014,4442.2 4041.8,4448 4069.6,4448 4097.5,4445.1 4125.3,4448 4153.2,4459.5 4181,4479.7 4208.9,4491.2 4236.7,4499.9 4264.5,4499.9 4292.4,4479.7 4320.2,4424.9 4348.1,4344.2 4375.9,4269.3 4403.7,4197.3 4431.6,4125.2 4459.4,4090.6 4487.3,4105 4515.1,4156.9 4543,4205.9 4570.8,4263.5 4598.6,4329.8 4626.5,4378.8 4654.3,4407.6 4682.2,4419.2 4710,4427.8" fill="none" stroke="#236cc8" stroke-width="1.5" stroke-linejoin="round"/>
<line x1="728.7" x2="728.7" y1="3750.8" y2="4638.5" stroke="#bf7fbf" stroke-width="5"/>
<line x1="1396.9" x2="1396.9" y1="3750.8" y2="4638.5" stroke="#bf7fbf" stroke-width="5"/>
<line x1="2065.1" x2="2065.1" y1="3750.8" y2="4638.5" stroke="#bf7fbf" stroke-width="5"/>
<line x1="2733.3" x2="2733.3" y1="3750.8" y2="4638.5" stroke="#bf7fbf" stroke-width="5"/>
<line x1="3401.5" x2="3401.5" y1="3750.8" y2="4638.5" stroke="#bf7fbf" stroke-width="5"/>
<line x1="4069.6" x2="4069.6" y1="3750.8" y2="4638.5" stroke="#bf7fbf" stroke-width="5"/>
<text x="394.6" y="3749.3" font-size="21.3" text-anchor="middle" fill="#c983c9">12月10日</text>
<text x="1062.8" y="3749.3" font-size="21.3" text-anchor="middle" fill="#c983c9">12月11日</text>
<text x="1731" y="3749.3" font-size="21.3" text-anchor="middle" fill="#c983c9">12月12日</text>
<text x="2399.2" y="3749.3" font-size="21.3" text-anchor="middle" fill="#c983c9">12月13日</text>
<text x="3067.4" y="3749.3" font-size="21.3" text-anchor="middle" fill="#c983c9">12月14日</text>
<text x="3735.6" y="3749.3" font-size="21.3" text-anchor="middle" fill="#c983c9">12月15日</text>
<text x="4403.7" y="3749.3" font-size="21.3" text-anchor="middle" fill="#c983c9">12月16日</text>
<text x="199.7" y="4182" font-size="16" text-anchor="middle" fill="#8db8dc">−8.1℃</text>
<text x="450.3" y="3927.8" font-size="16" text-anchor="middle" fill="#f59a93">0.2℃</text>
<text x="923.6" y="4202.2" font-size="16" text-anchor="middle" fill="#8db8dc">−8.8℃</text>
<text x="1118.5" y="3867.3" font-size="16" text-anchor="middle" fill="#f59a93">2.3℃</text>
<text x="1758.8" y="3999.9" font-size="16" text-anchor="middle" fill="#f59a93">−2.3℃</text>
<text x="2037.2" y="4196.5" font-size="16" text-anchor="middle" fill="#8db8dc">−8.6℃</text>
<text x="2065.1" y="4216" font-size="16" text-anchor="middle" fill="#f59a93">−9.8℃</text>
<text x="2705.4" y="4467.4" font-size="16" text-anchor="middle" fill="#8db8dc">−18.0℃</text>
<text x="2928.2" y="4536.5" font-size="16" text-anchor="middle" fill="#8db8dc">−20.4℃</text>
<text x="3123" y="4224.7" font-size="16" text-anchor="middle" fill="#f59a93">−10.1℃</text>
<text x="3791.2" y="4149.8" font-size="16" text-anchor="middle" fill="#f59a93">−7.5℃</text>
<text x="4041.8" y="4395.3" font-size="16" text-anchor="middle" fill="#8db8dc">−15.5℃</text>
<text x="4236.7" y="4441.4" font-size="16" text-anchor="middle" fill="#8db8dc">−17.1℃</text>
<text x="4459.4" y="4120.9" font-size="16" text-anchor="middle" fill="#f59a93">−6.5℃</text>
<rect x="60.5" y="3708.5" width="4649.5" height="1003.8" fill="none" stroke="#000" stroke-width="1.1"/>
<path d="M60.5,4712.3v5M144,4712.3v5M227.5,4712.3v5M311.1,4712.3v5M394.6,4712.3v5M478.1,4712.3v5M561.6,4712.3v5M645.2,4712.3v5M728.7,4712.3v5M812.2,4712.3v5M895.7,4712.3v5M979.3,4712.3v5M1062.8,4712.3v5M1146.3,4712.3v5M1229.8,4712.3v5M1313.4,4712.3v5M1396.9,4712.3v5M1480.4,4712.3v5M1563.9,4712.3v5M1647.5,4712.3v5M1731,4712.3v5M1814.5,4712.3v5M1898,4712.3v5M1981.6,4712.3v5M2065.1,4712.3v5M2148.6,4712.3v5M2232.1,4712.3v5M2315.6,4712.3v5M2399.2,4712.3v5M2482.7,4712.3v5M2566.2,4712.3v5M2649.7,4712.3v5M2733.3,4712.3v5M2816.8,4712.3v5M2900.3,4712.3v5M2983.8,4712.3v5M3067.4,4712.3v5M3150.9,4712.3v5M3234.4,4712.3v5M3317.9,4712.3v5M3401.5,4712.3v5M3485,4712.3v5M3568.5,4712.3v5M3652,4712.3v5M3735.6,4712.3v5M3819.1,4712.3v5M3902.6,4712.3v5M3986.1,4712.3v5M4069.6,4712.3v5M4153.2,4712.3v5M4236.7,4712.3v5M4320.2,4712.3v5M4403.7,4712.3v5M4487.3,4712.3v5M4570.8,4712.3v5M4654.3,4712.3v5M60.5,4655.5h-5M60.5,4511.4h-5M60.5,4367.3h-5M60.5,4223.2h-5M60.5,4079.1h-5M60.5,3935h-5M60.5,3790.9h-5" stroke="#000" stroke-width="1.1" fill="none"/>
<text x="60.5" y="4733.7" font-size="13.3" text-anchor="middle" fill="#000">10日00时</text>
<text x="144" y="4733.7" font-size="13.3" text-anchor="middle" fill="#000">10日03时</text>
<text x="227.5" y="4733.7" font-size="13.3" text-anchor="middle" fill="#000">10日06时</text>
<text x="311.1" y="4733.7" font-size="13.3" text-anchor="middle" fill="#000">10日09时</text>
<text x="394.6" y="4733.7" font-size="13.3" text-anchor="middle" fill="#000">10日12时</text>
<text x="478.1" y="4733.7" font-size="13.3" text-anchor="middle" fill="#000">10日15时</text>
<text x="561.6" y="4733.7" font-size="13.3" text-anchor="middle" fill="#000">10日18时</text>
<text x="645.2" y="4733.7" font-size="13.3" text-anchor="middle" fill="#000">10日21时</text>
<text x="728.7" y="4733.7" font-size="13.3" text-anchor="middle" fill="#000">11日00时</text>
<text x="812.2" y="4733.7" font-size="13.3" text-anchor="middle" fill="#000">11日03时</text>
<text x="895.7" y="4733.7" font-size="13.3" text-anchor="middle" fill="#000">11日06时</text>
<text x="979.3" y="4733.7" font-size="13.3" text-anchor="middle" fill="#000">11日09时</text>
<text x="1062.8" y="4733.7" font-size="13.3" text-anchor="middle" fill="#000">11日12时</text>
<text x="1146.3" y="4733.7" font-size="13.3" text-anchor="middle" fill="#000">11日15时</text>
<text x="1229.8" y="4733.7" font-size="13.3" text-anchor="middle" fill="#000">11日18时</text>
<text x="1313.4" y="4733.7" font-size="13.3" text-anchor="middle" fill="#000">11日21时</text>
<text x="1396.9" y="4733.7" font-size="13.3" text-anchor="middle" fill="#000">12日00时</text>
<text x="1480.4" y="4733.7" font-size="13.3" text-anchor="middle" fill="#000">12日03时</text>
<text x="1563.9" y="4733.7" font-size="13.3" text-anchor="middle" fill="#000">12日06时</text>
<text x="1647.5" y="4733.7" font-size="13.3" text-anchor="middle" fill="#000">12日09时</text>
<text x="1731" y="4733.7" font-size="13.3" text-anchor="middle" fill="#000">12日12时</text>
<text x="1814.5" y="4733.7" font-size="13.3" text-anchor="middle" fill="#000">12日15时</text>
<text x="1898" y="4733.7" font-size="13.3" text-anchor="middle" fill="#000">12日18时</text>
<text x="1981.6" y="4733.7" font-size="13.3" text-anchor="middle" fill="#000">12日21时</text>
<text x="2065.1" y="4733.7" font-size="13.3" text-anchor="middle" fill="#000">13日00时</text>
<text x="2148.6" y="4733.7" font-size="13.3" text-anchor="middle" fill="#000">13日03时</text>
<text x="2232.1" y="4733.7" font-size="13.3" text-anchor="middle" fill="#000">13日06时</text>
<text x="2315.6" y="4733.7" font-size="13.3" text-anchor="middle" fill="#000">13日09时</text>
<text x="2399.2" y="4733.7" font-size="13.3" text-anchor="middle" fill="#000">13日12时</text>
<text x="2482.7" y="4733.7" font-size="13.3" text-anchor="middle" fill="#000">13日15时</text>
<text x="2566.2" y="4733.7" font-size="13.3" text-anchor="middle" fill="#000">13日18时</text>
<text x="2649.7" y="4733.7" font-size="13.3" text-anchor="middle" fill="#000">13日21时</text>
<text x="2733.3" y="4733.7" font-size="13.3" text-anchor="middle" fill="#000">14日00时</text>
<text x="2816.8" y="4733.7" font-size="13.3" text-anchor="middle" fill="#000">14日03时</text>
<text x="2900.3" y="4733.7" font-size="13.3" text-anchor="middle" fill="#000">14日06时</text>
<text x="2983.8" y="4733.7" font-size="13.3" text-anchor="middle" fill="#000">14日09时</text>
<text x="3067.4" y="4733.7" font-size="13.3" text-anchor="middle" fill="#000">14日12时</text>
<text x="3150.9" y="4733.7" font-size="13.3" text-anchor="middle" fill="#000">14日15时</text>
<text x="3234.4" y="4733.7" font-size="13.3" text-anchor="middle" fill="#000">14日18时</text>
<text x="3317.9" y="4733.7" font-size="13.3" text-anchor="middle" fill="#000">14日21时</text>
<text x="3401.5" y="4733.7" font-size="13.3" text-anchor="middle" fill="#000">15日00时</text>
<text x="3485" y="4733.7" font-size="13.3" text-anchor="middle" fill="#000">15日03时</text>
<text x="3568.5" y="4733.7" font-size="13.3" text-anchor="middle" fill="#000">15日06时</text>
<text x="3652" y="4733.7" font-size="13.3" text-anchor="middle" fill="#000">15日09时</text>
<text x="3735.6" y="4733.7" font-size="13.3" text-anchor="middle" fill="#000">15日12时</text>
<text x="3819.1" y="4733.7" font-size="13.3" text-anchor="middle" fill="#000">15日15时</text>
<text x="3902.6" y="4733.7" font-size="13.3" text-anchor="middle" fill="#000">15日18时</text>
<text x="3986.1" y="4733.7" font-size="13.3" text-anchor="middle" fill="#000">15日21时</text>
<text x="4069.6" y="4733.7" font-size="13.3" text-anchor="middle" fill="#000">16日00时</text>
<text x="4153.2" y="4733.7" font-size="13.3" text-anchor="middle" fill="#000">16日03时</text>
<text x="4236.7" y="4733.7" font-size="13.3" text-anchor="middle" fill="#000">16日06时</text>
<text x="4320.2" y="4733.7" font-size="13.3" text-anchor="middle" fill="#000">16日09时</text>
<text x="4403.7" y="4733.7" font-size="13.3" text-anchor="middle" fill="#000">16日12时</text>
<text x="4487.3" y="4733.7" font-size="13.3" text-anchor="middle" fill="#000">16日15时</text>
<text x="4570.8" y="4733.7" font-size="13.3" text-anchor="middle" fill="#000">16日18时</text>
<text x="4654.3" y="4733.7" font-size="13.3" text-anchor="middle" fill="#000">16日21时</text>
<text x="49.5" y="4660.2" font-size="13.3" text-anchor="end" fill="#000">−25</text>
<text x="49.5" y="4516.1" font-size="13.3" text-anchor="end" fill="#000">−20</text>
<text x="49.5" y="4372" font-size="13.3" text-anchor="end" fill="#000">−15</text>
<text x="49.5" y="4227.9" font-size="13.3" text-anchor="end" fill="#000">−10</text>
<text x="49.5" y="4083.8" font-size="13.3" text-anchor="end" fill="#000">−5</text>
<text x="49.5" y="3939.7" font-size="13.3" text-anchor="end" fill="#000">0</text>
<text x="49.5" y="3795.6" font-size="13.3" text-anchor="end" fill="#000">5</text>
<rect x="68.7" y="3716.2" width="126.4" height="78.3" rx="3" fill="#fff" fill-opacity="0.8" stroke="#ccc" stroke-width="1"/>
<line x1="74.5" x2="109" y1="3731.6" y2="3731.6" stroke="#fa7a6c" stroke-width="3.3"/>
<text x="122" y="3737.2" font-size="16" text-anchor="start" fill="#000">气温</text>
<line x1="74.5" x2="109" y1="3756" y2="3756" stroke="#b0dc62" stroke-width="1.5"/>
<text x="122" y="3761.6" font-size="16" text-anchor="start" fill="#000">体感温度</text>
<line x1="74.5" x2="109" y1="3780.4" y2="3780.4" stroke="#236cc8" stroke-width="1.5"/>
<text x="122" y="3786" font-size="16" text-anchor="start" fill="#000">地表温度</text>
<text x="2385.5" y="3660.5" font-size="41.4" text-anchor="middle" fill="#000">呼和浩特市未来一周气温、体感温度、地表温度变化趋势</text>
</g>
</svg>
</body></html>
